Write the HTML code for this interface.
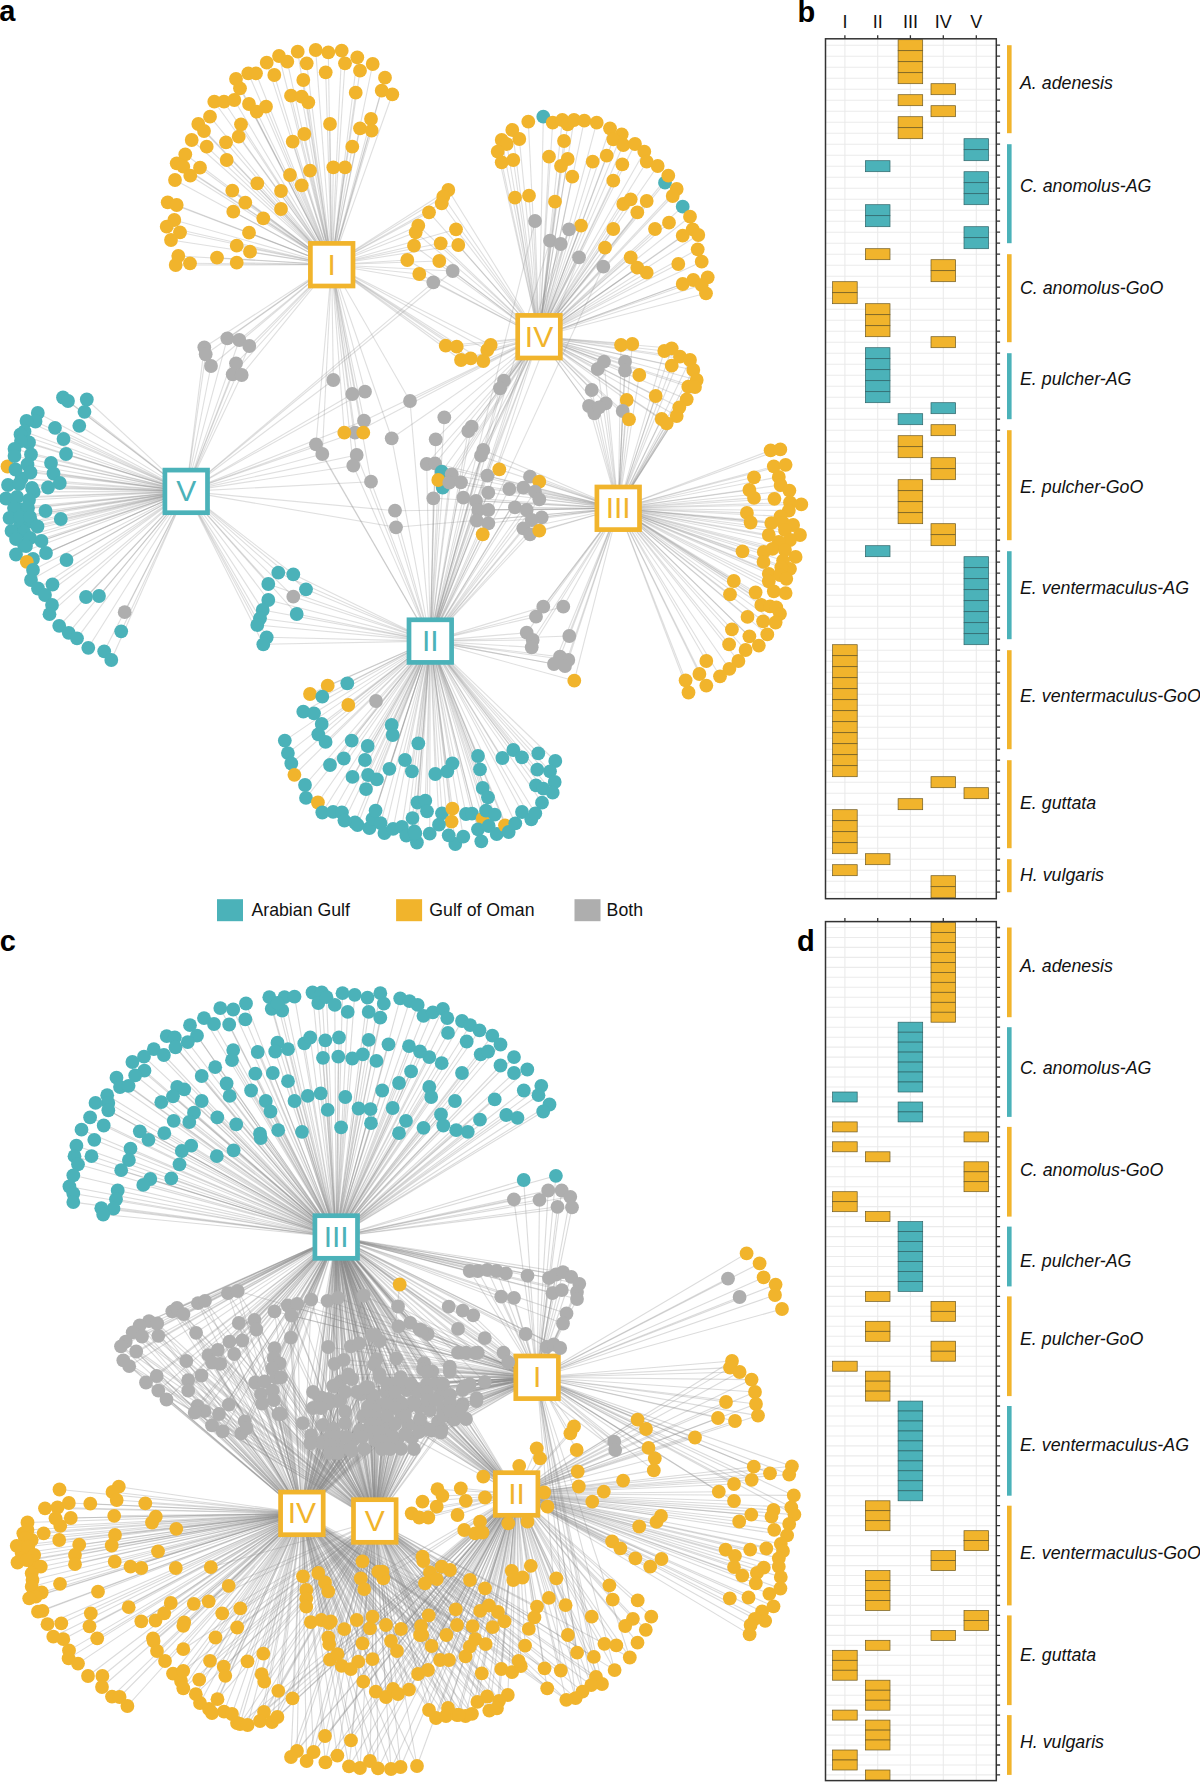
<!DOCTYPE html>
<html><head><meta charset="utf-8"><style>
html,body{margin:0;padding:0;background:#fff;width:1200px;height:1782px;overflow:hidden;font-family:"Liberation Sans",sans-serif}
svg text{font-family:"Liberation Sans",sans-serif}
</style></head><body>
<svg width="1200" height="1782" viewBox="0 0 1200 1782" style="position:absolute;left:0;top:0">
<rect width="1200" height="1782" fill="#fff"/>
<g stroke="#8a8a8a" stroke-opacity="0.27" stroke-width="1.1" fill="none">
<path d="M297.7 51.7L331.7 264.7"/><path d="M315.7 50L331.7 264.7"/><path d="M328.3 52.3L331.7 264.7"/><path d="M341.7 50.7L331.7 264.7"/><path d="M357.3 57.3L331.7 264.7"/><path d="M372.7 64L331.7 264.7"/><path d="M385 77.7L331.7 264.7"/><path d="M381.7 90.7L331.7 264.7"/><path d="M392.3 94.3L331.7 264.7"/><path d="M279 56L331.7 264.7"/><path d="M287.3 61.7L331.7 264.7"/><path d="M306.7 63.3L331.7 264.7"/><path d="M345 63.3L331.7 264.7"/><path d="M360 70.7L331.7 264.7"/><path d="M325.7 72.3L331.7 264.7"/><path d="M303.3 80L331.7 264.7"/><path d="M266.7 62.7L331.7 264.7"/><path d="M274.3 75L331.7 264.7"/><path d="M248.3 73.3L331.7 264.7"/><path d="M256 73.3L331.7 264.7"/><path d="M236 79L331.7 264.7"/><path d="M240 88.3L331.7 264.7"/><path d="M214.3 101.7L331.7 264.7"/><path d="M224 101.7L331.7 264.7"/><path d="M234.3 100L331.7 264.7"/><path d="M249 104L331.7 264.7"/><path d="M256.7 111.7L331.7 264.7"/><path d="M266 106.7L331.7 264.7"/><path d="M291 95.7L331.7 264.7"/><path d="M301.7 96.7L331.7 264.7"/><path d="M308.3 102.3L331.7 264.7"/><path d="M355.7 92.7L331.7 264.7"/><path d="M210 116.7L331.7 264.7"/><path d="M198.3 124L331.7 264.7"/><path d="M204 131L331.7 264.7"/><path d="M241 124.3L331.7 264.7"/><path d="M330 124L331.7 264.7"/><path d="M371 119L331.7 264.7"/><path d="M360 128.3L331.7 264.7"/><path d="M371.7 130.7L331.7 264.7"/><path d="M191.7 140L331.7 264.7"/><path d="M206.7 146.7L331.7 264.7"/><path d="M226 142.3L331.7 264.7"/><path d="M238.7 136.7L331.7 264.7"/><path d="M292.7 141.7L331.7 264.7"/><path d="M304.3 134L331.7 264.7"/><path d="M352.3 146.7L331.7 264.7"/><path d="M185.3 154.3L331.7 264.7"/><path d="M176.7 163.3L331.7 264.7"/><path d="M183.3 166.7L331.7 264.7"/><path d="M200 167.7L331.7 264.7"/><path d="M190.3 175.7L331.7 264.7"/><path d="M226.7 160L331.7 264.7"/><path d="M175 180L331.7 264.7"/><path d="M290 175L331.7 264.7"/><path d="M310 170.7L331.7 264.7"/><path d="M333.3 167.3L331.7 264.7"/><path d="M345 167.3L331.7 264.7"/><path d="M301.7 185.3L331.7 264.7"/><path d="M257.3 183.3L331.7 264.7"/><path d="M281 191L331.7 264.7"/><path d="M232.3 190.7L331.7 264.7"/><path d="M167.7 202.3L331.7 264.7"/><path d="M176.7 205L331.7 264.7"/><path d="M245.3 202.7L331.7 264.7"/><path d="M233.3 211.7L331.7 264.7"/><path d="M281 209L331.7 264.7"/><path d="M263.3 218.3L331.7 264.7"/><path d="M174.3 220L331.7 264.7"/><path d="M166.7 226.7L331.7 264.7"/><path d="M180 232.3L331.7 264.7"/><path d="M249 232.7L331.7 264.7"/><path d="M171 240L331.7 264.7"/><path d="M236.7 245.7L331.7 264.7"/><path d="M250 251.7L331.7 264.7"/><path d="M178.3 256L331.7 264.7"/><path d="M175.7 265L331.7 264.7"/><path d="M190 263.3L331.7 264.7"/><path d="M217 257.7L331.7 264.7"/><path d="M236.7 262.7L331.7 264.7"/><path d="M448.3 190L331.7 264.7"/><path d="M448.3 190L539 336.7"/><path d="M443.3 196.7L331.7 264.7"/><path d="M443.3 196.7L539 336.7"/><path d="M441.7 203.3L331.7 264.7"/><path d="M441.7 203.3L539 336.7"/><path d="M429 212.3L331.7 264.7"/><path d="M429 212.3L539 336.7"/><path d="M418.3 225.7L331.7 264.7"/><path d="M418.3 225.7L539 336.7"/><path d="M415.7 232.3L331.7 264.7"/><path d="M415.7 232.3L539 336.7"/><path d="M456 229.3L331.7 264.7"/><path d="M456 229.3L539 336.7"/><path d="M414 245.7L331.7 264.7"/><path d="M414 245.7L539 336.7"/><path d="M440.7 243.3L331.7 264.7"/><path d="M440.7 243.3L539 336.7"/><path d="M458.3 245L331.7 264.7"/><path d="M458.3 245L539 336.7"/><path d="M407.3 260L331.7 264.7"/><path d="M407.3 260L539 336.7"/><path d="M439.3 261L331.7 264.7"/><path d="M439.3 261L539 336.7"/><path d="M419.3 274L331.7 264.7"/><path d="M419.3 274L539 336.7"/><path d="M452.7 271L331.7 264.7"/><path d="M452.7 271L186.2 491.4"/><path d="M452.7 271L539 336.7"/><path d="M433.3 282.3L331.7 264.7"/><path d="M433.3 282.3L186.2 491.4"/><path d="M433.3 282.3L539 336.7"/><path d="M543.3 116.7L539 336.7"/><path d="M665 182.7L539 336.7"/><path d="M682.7 206.7L539 336.7"/><path d="M528.3 121.7L539 336.7"/><path d="M552.7 122.7L539 336.7"/><path d="M562.3 120L539 336.7"/><path d="M567.7 124.3L539 336.7"/><path d="M574 120L539 336.7"/><path d="M584.3 120.7L539 336.7"/><path d="M596.7 122.7L539 336.7"/><path d="M512.3 130L539 336.7"/><path d="M501.7 140L539 336.7"/><path d="M519.3 139L539 336.7"/><path d="M506.7 144L539 336.7"/><path d="M497.7 151.7L539 336.7"/><path d="M564 141L539 336.7"/><path d="M610 128.3L539 336.7"/><path d="M621.7 134.3L539 336.7"/><path d="M613.3 139.3L539 336.7"/><path d="M623.3 145L539 336.7"/><path d="M635 144L539 336.7"/><path d="M644.3 151.7L539 336.7"/><path d="M501.7 162.3L539 336.7"/><path d="M513.3 160L539 336.7"/><path d="M549 156.7L539 336.7"/><path d="M567.7 159L539 336.7"/><path d="M561 166L539 336.7"/><path d="M592.7 161.7L539 336.7"/><path d="M606.7 155.7L539 336.7"/><path d="M622.3 164.3L539 336.7"/><path d="M646.7 161.7L539 336.7"/><path d="M657.7 166L539 336.7"/><path d="M668.3 175.7L539 336.7"/><path d="M572.3 176.7L539 336.7"/><path d="M613.3 180.7L539 336.7"/><path d="M676.7 189L539 336.7"/><path d="M672.7 196L539 336.7"/><path d="M515 197.7L539 336.7"/><path d="M529 195.7L539 336.7"/><path d="M555 201.7L539 336.7"/><path d="M623.3 204L539 336.7"/><path d="M630.7 199.3L539 336.7"/><path d="M646.7 201L539 336.7"/><path d="M637.3 212.3L539 336.7"/><path d="M690 216.7L539 336.7"/><path d="M581 225.7L539 336.7"/><path d="M613.3 229L539 336.7"/><path d="M655 229L539 336.7"/><path d="M669 222.7L539 336.7"/><path d="M682.7 235.7L539 336.7"/><path d="M692.7 229.3L539 336.7"/><path d="M698.3 235L539 336.7"/><path d="M605 247.7L539 336.7"/><path d="M697.7 249.3L539 336.7"/><path d="M630.7 257.3L539 336.7"/><path d="M637.3 267.7L539 336.7"/><path d="M646.7 272.7L539 336.7"/><path d="M678.3 264L539 336.7"/><path d="M701.7 261.7L539 336.7"/><path d="M707.7 277.3L539 336.7"/><path d="M693.3 280L539 336.7"/><path d="M682.7 284L539 336.7"/><path d="M701.7 285L539 336.7"/><path d="M706 293.3L539 336.7"/><path d="M535 221L539 336.7"/><path d="M535 221L430.3 641.1"/><path d="M569 229.3L539 336.7"/><path d="M569 229.3L430.3 641.1"/><path d="M550 240.7L539 336.7"/><path d="M550 240.7L430.3 641.1"/><path d="M560.7 244L539 336.7"/><path d="M560.7 244L430.3 641.1"/><path d="M579 257.3L539 336.7"/><path d="M579 257.3L430.3 641.1"/><path d="M603.3 266.7L539 336.7"/><path d="M603.3 266.7L430.3 641.1"/><path d="M227.3 338.3L331.7 264.7"/><path d="M227.3 338.3L186.2 491.4"/><path d="M239.3 340L331.7 264.7"/><path d="M239.3 340L186.2 491.4"/><path d="M249.3 346L331.7 264.7"/><path d="M249.3 346L186.2 491.4"/><path d="M204.3 347.3L331.7 264.7"/><path d="M204.3 347.3L186.2 491.4"/><path d="M205.7 354.3L331.7 264.7"/><path d="M205.7 354.3L186.2 491.4"/><path d="M211 366L331.7 264.7"/><path d="M211 366L186.2 491.4"/><path d="M236 363.3L331.7 264.7"/><path d="M236 363.3L186.2 491.4"/><path d="M232.7 374.3L331.7 264.7"/><path d="M232.7 374.3L186.2 491.4"/><path d="M241.7 375L331.7 264.7"/><path d="M241.7 375L186.2 491.4"/><path d="M333.3 380L331.7 264.7"/><path d="M333.3 380L186.2 491.4"/><path d="M352.3 394L331.7 264.7"/><path d="M352.3 394L186.2 491.4"/><path d="M365 391.7L331.7 264.7"/><path d="M365 391.7L186.2 491.4"/><path d="M364 420.7L331.7 264.7"/><path d="M364 420.7L186.2 491.4"/><path d="M364 420.7L539 336.7"/><path d="M355 432.7L331.7 264.7"/><path d="M355 432.7L186.2 491.4"/><path d="M355 432.7L539 336.7"/><path d="M344.3 432.7L331.7 264.7"/><path d="M363.3 432.7L331.7 264.7"/><path d="M391.7 438.3L331.7 264.7"/><path d="M391.7 438.3L430.3 641.1"/><path d="M391.7 438.3L539 336.7"/><path d="M316 444.3L331.7 264.7"/><path d="M316 444.3L430.3 641.1"/><path d="M316 444.3L186.2 491.4"/><path d="M322.3 454L331.7 264.7"/><path d="M322.3 454L430.3 641.1"/><path d="M322.3 454L186.2 491.4"/><path d="M356.7 455L331.7 264.7"/><path d="M356.7 455L430.3 641.1"/><path d="M356.7 455L186.2 491.4"/><path d="M353.3 465.7L331.7 264.7"/><path d="M353.3 465.7L430.3 641.1"/><path d="M353.3 465.7L186.2 491.4"/><path d="M371 481.7L331.7 264.7"/><path d="M371 481.7L430.3 641.1"/><path d="M371 481.7L186.2 491.4"/><path d="M395 510.7L430.3 641.1"/><path d="M395 510.7L186.2 491.4"/><path d="M395 510.7L618.2 508.3"/><path d="M396 527.3L430.3 641.1"/><path d="M396 527.3L186.2 491.4"/><path d="M396 527.3L618.2 508.3"/><path d="M278.3 572.7L186.2 491.4"/><path d="M278.3 572.7L430.3 641.1"/><path d="M293.3 574.3L186.2 491.4"/><path d="M293.3 574.3L430.3 641.1"/><path d="M268.3 584L186.2 491.4"/><path d="M268.3 584L430.3 641.1"/><path d="M306 589.3L186.2 491.4"/><path d="M306 589.3L430.3 641.1"/><path d="M293.3 596.7L186.2 491.4"/><path d="M293.3 596.7L430.3 641.1"/><path d="M268.3 600L186.2 491.4"/><path d="M268.3 600L430.3 641.1"/><path d="M7.5 466.5L186.2 491.4"/><path d="M21.6 478.4L186.2 491.4"/><path d="M21.6 509.4L186.2 491.4"/><path d="M20.2 525.5L186.2 491.4"/><path d="M31 521.5L186.2 491.4"/><path d="M33.7 491.9L186.2 491.4"/><path d="M24 545L186.2 491.4"/><path d="M63 397.5L186.2 491.4"/><path d="M68 401L186.2 491.4"/><path d="M86.8 399.5L186.2 491.4"/><path d="M84.5 411.8L186.2 491.4"/><path d="M79.3 425.8L186.2 491.4"/><path d="M37.8 413L186.2 491.4"/><path d="M35.5 421.5L186.2 491.4"/><path d="M26.5 421L186.2 491.4"/><path d="M55 427.8L186.2 491.4"/><path d="M63.5 439L186.2 491.4"/><path d="M66 454L186.2 491.4"/><path d="M24.5 431.5L186.2 491.4"/><path d="M20.5 434.5L186.2 491.4"/><path d="M29 442.5L186.2 491.4"/><path d="M21 441L186.2 491.4"/><path d="M14.5 449L186.2 491.4"/><path d="M31 454.5L186.2 491.4"/><path d="M14.5 456L186.2 491.4"/><path d="M51 463L186.2 491.4"/><path d="M53.5 473.5L186.2 491.4"/><path d="M59.8 483L186.2 491.4"/><path d="M48 487.5L186.2 491.4"/><path d="M15.5 469.5L186.2 491.4"/><path d="M27.5 464.5L186.2 491.4"/><path d="M30.5 472.5L186.2 491.4"/><path d="M8 485L186.2 491.4"/><path d="M19 484L186.2 491.4"/><path d="M32 488L186.2 491.4"/><path d="M6 498.5L186.2 491.4"/><path d="M17 497L186.2 491.4"/><path d="M29 500L186.2 491.4"/><path d="M14 508L186.2 491.4"/><path d="M28 508L186.2 491.4"/><path d="M45.5 511L186.2 491.4"/><path d="M60.8 519L186.2 491.4"/><path d="M9.5 518L186.2 491.4"/><path d="M20 517L186.2 491.4"/><path d="M30 517L186.2 491.4"/><path d="M37.5 526.5L186.2 491.4"/><path d="M11.5 531L186.2 491.4"/><path d="M24 532L186.2 491.4"/><path d="M16 539L186.2 491.4"/><path d="M30 538L186.2 491.4"/><path d="M41.5 541L186.2 491.4"/><path d="M16 554.5L186.2 491.4"/><path d="M26 546L186.2 491.4"/><path d="M46 553L186.2 491.4"/><path d="M33 559L186.2 491.4"/><path d="M26.8 561.8L186.2 491.4"/><path d="M66.5 560L186.2 491.4"/><path d="M33 570L186.2 491.4"/><path d="M31 580L186.2 491.4"/><path d="M52.5 584.5L186.2 491.4"/><path d="M38 588.5L186.2 491.4"/><path d="M45 595L186.2 491.4"/><path d="M86 597L186.2 491.4"/><path d="M99 596L186.2 491.4"/><path d="M52 605L186.2 491.4"/><path d="M49.5 614.2L186.2 491.4"/><path d="M124.7 612.2L186.2 491.4"/><path d="M59.2 625.8L186.2 491.4"/><path d="M68.7 632.8L186.2 491.4"/><path d="M77 638.3L186.2 491.4"/><path d="M88.3 647.8L186.2 491.4"/><path d="M121.2 631.3L186.2 491.4"/><path d="M104.2 651.3L186.2 491.4"/><path d="M111.3 660L186.2 491.4"/><path d="M445.7 345.7L331.7 264.7"/><path d="M445.7 345.7L539 336.7"/><path d="M456.7 346.7L331.7 264.7"/><path d="M456.7 346.7L539 336.7"/><path d="M461 360L331.7 264.7"/><path d="M461 360L539 336.7"/><path d="M470.7 358.3L331.7 264.7"/><path d="M470.7 358.3L539 336.7"/><path d="M483.3 361L331.7 264.7"/><path d="M483.3 361L539 336.7"/><path d="M487.3 350L331.7 264.7"/><path d="M487.3 350L539 336.7"/><path d="M490.7 345L331.7 264.7"/><path d="M490.7 345L539 336.7"/><path d="M504 380.7L430.3 641.1"/><path d="M504 380.7L539 336.7"/><path d="M500 388.3L430.3 641.1"/><path d="M500 388.3L539 336.7"/><path d="M410 401L331.7 264.7"/><path d="M410 401L430.3 641.1"/><path d="M410 401L539 336.7"/><path d="M444.3 417.3L430.3 641.1"/><path d="M444.3 417.3L539 336.7"/><path d="M471.7 426.7L430.3 641.1"/><path d="M471.7 426.7L539 336.7"/><path d="M468.3 431L430.3 641.1"/><path d="M468.3 431L539 336.7"/><path d="M435.7 439.3L430.3 641.1"/><path d="M435.7 439.3L539 336.7"/><path d="M483.3 450L430.3 641.1"/><path d="M483.3 450L618.2 508.3"/><path d="M483.3 450L539 336.7"/><path d="M481 455.7L430.3 641.1"/><path d="M481 455.7L618.2 508.3"/><path d="M481 455.7L539 336.7"/><path d="M426.7 464L430.3 641.1"/><path d="M426.7 464L618.2 508.3"/><path d="M426.7 464L539 336.7"/><path d="M435 463.3L430.3 641.1"/><path d="M435 463.3L618.2 508.3"/><path d="M435 463.3L539 336.7"/><path d="M441.7 471.7L539 336.7"/><path d="M442.7 487.7L430.3 641.1"/><path d="M438.3 480L430.3 641.1"/><path d="M451.7 474.3L430.3 641.1"/><path d="M451.7 474.3L618.2 508.3"/><path d="M451.7 474.3L539 336.7"/><path d="M449.3 482.7L539 336.7"/><path d="M449.3 482.7L430.3 641.1"/><path d="M449.3 482.7L618.2 508.3"/><path d="M461 482.3L539 336.7"/><path d="M461 482.3L430.3 641.1"/><path d="M461 482.3L618.2 508.3"/><path d="M433.3 498.3L539 336.7"/><path d="M433.3 498.3L430.3 641.1"/><path d="M433.3 498.3L618.2 508.3"/><path d="M487.3 475.7L539 336.7"/><path d="M487.3 475.7L430.3 641.1"/><path d="M487.3 475.7L618.2 508.3"/><path d="M499.3 469.3L618.2 508.3"/><path d="M488.3 492.7L539 336.7"/><path d="M488.3 492.7L430.3 641.1"/><path d="M488.3 492.7L618.2 508.3"/><path d="M463.3 497.7L539 336.7"/><path d="M463.3 497.7L430.3 641.1"/><path d="M463.3 497.7L618.2 508.3"/><path d="M476 501L539 336.7"/><path d="M476 501L430.3 641.1"/><path d="M476 501L618.2 508.3"/><path d="M478.3 510L430.3 641.1"/><path d="M478.3 510L618.2 508.3"/><path d="M488.3 510L430.3 641.1"/><path d="M488.3 510L618.2 508.3"/><path d="M476.7 520.7L430.3 641.1"/><path d="M476.7 520.7L618.2 508.3"/><path d="M488.3 523.3L430.3 641.1"/><path d="M488.3 523.3L618.2 508.3"/><path d="M482.7 534.3L430.3 641.1"/><path d="M509.3 489L430.3 641.1"/><path d="M509.3 489L618.2 508.3"/><path d="M530 476.7L430.3 641.1"/><path d="M530 476.7L618.2 508.3"/><path d="M539.3 481.7L618.2 508.3"/><path d="M523.3 487.7L430.3 641.1"/><path d="M523.3 487.7L618.2 508.3"/><path d="M535 491.7L430.3 641.1"/><path d="M535 491.7L618.2 508.3"/><path d="M539.3 499.3L430.3 641.1"/><path d="M539.3 499.3L618.2 508.3"/><path d="M515 507.3L430.3 641.1"/><path d="M515 507.3L618.2 508.3"/><path d="M526.7 510L430.3 641.1"/><path d="M526.7 510L618.2 508.3"/><path d="M541.7 517.3L430.3 641.1"/><path d="M541.7 517.3L618.2 508.3"/><path d="M531.7 520L430.3 641.1"/><path d="M531.7 520L618.2 508.3"/><path d="M523.3 528.3L430.3 641.1"/><path d="M523.3 528.3L618.2 508.3"/><path d="M530 534.3L430.3 641.1"/><path d="M530 534.3L618.2 508.3"/><path d="M539.3 530.7L618.2 508.3"/><path d="M621 345L539 336.7"/><path d="M621 345L618.2 508.3"/><path d="M632.3 344L539 336.7"/><path d="M632.3 344L618.2 508.3"/><path d="M604 361.7L539 336.7"/><path d="M604 361.7L618.2 508.3"/><path d="M597.7 369L539 336.7"/><path d="M597.7 369L618.2 508.3"/><path d="M625 361.7L539 336.7"/><path d="M625 361.7L618.2 508.3"/><path d="M625 370.7L539 336.7"/><path d="M625 370.7L618.2 508.3"/><path d="M639.3 375L539 336.7"/><path d="M639.3 375L618.2 508.3"/><path d="M591.7 390L539 336.7"/><path d="M591.7 390L618.2 508.3"/><path d="M589 406L539 336.7"/><path d="M589 406L618.2 508.3"/><path d="M605.7 403.3L539 336.7"/><path d="M605.7 403.3L618.2 508.3"/><path d="M594.3 413.3L539 336.7"/><path d="M594.3 413.3L618.2 508.3"/><path d="M599 407.3L539 336.7"/><path d="M599 407.3L618.2 508.3"/><path d="M626.7 400L539 336.7"/><path d="M626.7 400L618.2 508.3"/><path d="M622.7 411L539 336.7"/><path d="M622.7 411L618.2 508.3"/><path d="M629 419.3L539 336.7"/><path d="M629 419.3L618.2 508.3"/><path d="M655.7 396L539 336.7"/><path d="M655.7 396L618.2 508.3"/><path d="M664.3 351L539 336.7"/><path d="M664.3 351L618.2 508.3"/><path d="M671.7 348.3L539 336.7"/><path d="M671.7 348.3L618.2 508.3"/><path d="M680 356.7L539 336.7"/><path d="M680 356.7L618.2 508.3"/><path d="M690 360L539 336.7"/><path d="M690 360L618.2 508.3"/><path d="M671.7 365.7L539 336.7"/><path d="M671.7 365.7L618.2 508.3"/><path d="M693.3 370L539 336.7"/><path d="M693.3 370L618.2 508.3"/><path d="M696.7 380L539 336.7"/><path d="M696.7 380L618.2 508.3"/><path d="M688.3 386.7L539 336.7"/><path d="M688.3 386.7L618.2 508.3"/><path d="M695 387L539 336.7"/><path d="M695 387L618.2 508.3"/><path d="M686.7 399.3L539 336.7"/><path d="M686.7 399.3L618.2 508.3"/><path d="M679.3 407.3L539 336.7"/><path d="M679.3 407.3L618.2 508.3"/><path d="M676.7 416L539 336.7"/><path d="M676.7 416L618.2 508.3"/><path d="M661.7 419L539 336.7"/><path d="M661.7 419L618.2 508.3"/><path d="M666.7 423.3L539 336.7"/><path d="M666.7 423.3L618.2 508.3"/><path d="M770.6 450.3L618.2 508.3"/><path d="M780.3 449.4L618.2 508.3"/><path d="M773.8 466.3L618.2 508.3"/><path d="M785.6 464.8L618.2 508.3"/><path d="M754 477.3L618.2 508.3"/><path d="M778.8 476.9L618.2 508.3"/><path d="M780.6 485L618.2 508.3"/><path d="M789.4 490.6L618.2 508.3"/><path d="M749.4 490L618.2 508.3"/><path d="M754 497.9L618.2 508.3"/><path d="M774.4 498.8L618.2 508.3"/><path d="M790 502.5L618.2 508.3"/><path d="M801.3 504.4L618.2 508.3"/><path d="M788.8 510.6L618.2 508.3"/><path d="M746.9 512.9L618.2 508.3"/><path d="M750.6 522.5L618.2 508.3"/><path d="M780.6 516.3L618.2 508.3"/><path d="M771.3 523.1L618.2 508.3"/><path d="M783.1 522.8L618.2 508.3"/><path d="M793.1 525L618.2 508.3"/><path d="M768.8 535L618.2 508.3"/><path d="M800 535L618.2 508.3"/><path d="M785 530L618.2 508.3"/><path d="M790 540L618.2 508.3"/><path d="M778.8 541.9L618.2 508.3"/><path d="M742.5 551.3L618.2 508.3"/><path d="M763.8 551.9L618.2 508.3"/><path d="M772.5 548.8L618.2 508.3"/><path d="M785 550L618.2 508.3"/><path d="M795.6 556.9L618.2 508.3"/><path d="M763.5 561.9L618.2 508.3"/><path d="M783.1 560.6L618.2 508.3"/><path d="M790 568.8L618.2 508.3"/><path d="M781.3 567.5L618.2 508.3"/><path d="M768.8 573.8L618.2 508.3"/><path d="M780 575L618.2 508.3"/><path d="M733.8 581L618.2 508.3"/><path d="M786.3 578.8L618.2 508.3"/><path d="M768.8 581.3L618.2 508.3"/><path d="M773.8 591.3L618.2 508.3"/><path d="M785.6 593.1L618.2 508.3"/><path d="M730 594.4L618.2 508.3"/><path d="M755.6 592.5L618.2 508.3"/><path d="M761.3 605L618.2 508.3"/><path d="M770 606.3L618.2 508.3"/><path d="M776.3 607.5L618.2 508.3"/><path d="M780 613.8L618.2 508.3"/><path d="M775.6 622.5L618.2 508.3"/><path d="M763.1 621.3L618.2 508.3"/><path d="M747.5 616.9L618.2 508.3"/><path d="M767.3 634.4L618.2 508.3"/><path d="M731.9 629.4L618.2 508.3"/><path d="M749.4 636.3L618.2 508.3"/><path d="M758.8 645.6L618.2 508.3"/><path d="M729.1 644.4L618.2 508.3"/><path d="M745.6 650L618.2 508.3"/><path d="M738.4 661L618.2 508.3"/><path d="M729.4 668.8L618.2 508.3"/><path d="M720 676.3L618.2 508.3"/><path d="M706.3 661L618.2 508.3"/><path d="M699.4 674L618.2 508.3"/><path d="M685.6 680.3L618.2 508.3"/><path d="M706.3 685.6L618.2 508.3"/><path d="M688.5 692.5L618.2 508.3"/><path d="M262.7 610L186.2 491.4"/><path d="M262.7 610L430.3 641.1"/><path d="M296.7 614L186.2 491.4"/><path d="M296.7 614L430.3 641.1"/><path d="M260 618.3L186.2 491.4"/><path d="M260 618.3L430.3 641.1"/><path d="M257.3 625L186.2 491.4"/><path d="M257.3 625L430.3 641.1"/><path d="M266.7 637.3L186.2 491.4"/><path d="M266.7 637.3L430.3 641.1"/><path d="M263.3 644.3L186.2 491.4"/><path d="M263.3 644.3L430.3 641.1"/><path d="M543.3 606.7L430.3 641.1"/><path d="M543.3 606.7L618.2 508.3"/><path d="M536 616.7L430.3 641.1"/><path d="M536 616.7L618.2 508.3"/><path d="M563.3 606.7L430.3 641.1"/><path d="M563.3 606.7L618.2 508.3"/><path d="M526.7 632.7L430.3 641.1"/><path d="M526.7 632.7L618.2 508.3"/><path d="M532.7 640L430.3 641.1"/><path d="M532.7 640L618.2 508.3"/><path d="M531.7 647.3L430.3 641.1"/><path d="M531.7 647.3L618.2 508.3"/><path d="M569.3 636L430.3 641.1"/><path d="M569.3 636L618.2 508.3"/><path d="M560 656.7L430.3 641.1"/><path d="M560 656.7L618.2 508.3"/><path d="M568.3 660L430.3 641.1"/><path d="M568.3 660L618.2 508.3"/><path d="M554 664L430.3 641.1"/><path d="M554 664L618.2 508.3"/><path d="M565 666L430.3 641.1"/><path d="M565 666L618.2 508.3"/><path d="M574.3 680.7L430.3 641.1"/><path d="M574.3 680.7L618.2 508.3"/><path d="M327.7 685.7L430.3 641.1"/><path d="M347.3 683.3L430.3 641.1"/><path d="M310 694L430.3 641.1"/><path d="M322.3 696.7L430.3 641.1"/><path d="M348.3 705L430.3 641.1"/><path d="M376 701L430.3 641.1"/><path d="M303.3 711.7L430.3 641.1"/><path d="M314 713.3L430.3 641.1"/><path d="M321.7 724L430.3 641.1"/><path d="M318.3 734.3L430.3 641.1"/><path d="M325.6 741.9L430.3 641.1"/><path d="M284.8 740.6L430.3 641.1"/><path d="M351.7 740.7L430.3 641.1"/><path d="M391.7 725L430.3 641.1"/><path d="M392.7 735L430.3 641.1"/><path d="M418.3 743.3L430.3 641.1"/><path d="M367.7 746L430.3 641.1"/><path d="M287.9 753.1L430.3 641.1"/><path d="M291.3 763.5L430.3 641.1"/><path d="M294.4 774.8L430.3 641.1"/><path d="M305 785L430.3 641.1"/><path d="M306 797.9L430.3 641.1"/><path d="M317.9 802.5L430.3 641.1"/><path d="M322.3 812.5L430.3 641.1"/><path d="M333.1 811.9L430.3 641.1"/><path d="M341.9 812.5L430.3 641.1"/><path d="M344.4 820.6L430.3 641.1"/><path d="M355 822.5L430.3 641.1"/><path d="M357.5 825L430.3 641.1"/><path d="M369.4 828.1L430.3 641.1"/><path d="M372.5 818.8L430.3 641.1"/><path d="M375.6 810.6L430.3 641.1"/><path d="M380.6 823.1L430.3 641.1"/><path d="M384.4 833.1L430.3 641.1"/><path d="M393.1 828.8L430.3 641.1"/><path d="M401.9 826.9L430.3 641.1"/><path d="M406.3 835.6L430.3 641.1"/><path d="M414.4 831.3L430.3 641.1"/><path d="M416.9 842.5L430.3 641.1"/><path d="M412.5 818.1L430.3 641.1"/><path d="M417.5 802.5L430.3 641.1"/><path d="M343.8 758.5L430.3 641.1"/><path d="M330 765L430.3 641.1"/><path d="M365 760L430.3 641.1"/><path d="M352.5 776.9L430.3 641.1"/><path d="M368.1 775L430.3 641.1"/><path d="M376.9 779.4L430.3 641.1"/><path d="M366 789.1L430.3 641.1"/><path d="M389.4 768.8L430.3 641.1"/><path d="M405 760L430.3 641.1"/><path d="M411.9 771.3L430.3 641.1"/><path d="M435.3 774L430.3 641.1"/><path d="M447.3 771.3L430.3 641.1"/><path d="M452.4 763.3L430.3 641.1"/><path d="M478 756L430.3 641.1"/><path d="M480 769.3L430.3 641.1"/><path d="M502.4 758L430.3 641.1"/><path d="M513.3 750L430.3 641.1"/><path d="M522 757.3L430.3 641.1"/><path d="M538.3 753.3L430.3 641.1"/><path d="M555.3 761L430.3 641.1"/><path d="M537.3 769.7L430.3 641.1"/><path d="M550 771.3L430.3 641.1"/><path d="M554.7 782L430.3 641.1"/><path d="M536 785.3L430.3 641.1"/><path d="M543.3 788.7L430.3 641.1"/><path d="M552.7 792.7L430.3 641.1"/><path d="M482.7 788L430.3 641.1"/><path d="M488 797.3L430.3 641.1"/><path d="M542 802.7L430.3 641.1"/><path d="M425.3 800.7L430.3 641.1"/><path d="M427 811.3L430.3 641.1"/><path d="M442 813.3L430.3 641.1"/><path d="M452.4 808.7L430.3 641.1"/><path d="M451.6 821.7L430.3 641.1"/><path d="M439 824.7L430.3 641.1"/><path d="M429.7 833.7L430.3 641.1"/><path d="M415.3 833.3L430.3 641.1"/><path d="M455.3 844L430.3 641.1"/><path d="M448.7 835.3L430.3 641.1"/><path d="M463.3 836.7L430.3 641.1"/><path d="M466 814L430.3 641.1"/><path d="M472 813.7L430.3 641.1"/><path d="M482.7 818.7L430.3 641.1"/><path d="M486 810.7L430.3 641.1"/><path d="M494.7 814.7L430.3 641.1"/><path d="M478 829.3L430.3 641.1"/><path d="M488.7 826L430.3 641.1"/><path d="M496.7 834L430.3 641.1"/><path d="M481.3 841.3L430.3 641.1"/><path d="M505 825.3L430.3 641.1"/><path d="M508.7 832L430.3 641.1"/><path d="M515.3 823.3L430.3 641.1"/><path d="M522 812L430.3 641.1"/><path d="M531.3 819.3L430.3 641.1"/><path d="M535.3 813.3L430.3 641.1"/>
</g>
<g stroke="#8a8a8a" stroke-opacity="0.31" stroke-width="1.1" fill="none">
<path d="M269.3 997.2L336.2 1237"/><path d="M284.5 997.2L336.2 1237"/><path d="M294.5 996.7L336.2 1237"/><path d="M271.7 1008.8L336.2 1237"/><path d="M282.2 1010.5L336.2 1237"/><path d="M277.5 1003L336.2 1237"/><path d="M312.5 992.5L336.2 1237"/><path d="M321.8 992.5L336.2 1237"/><path d="M318.3 1003L336.2 1237"/><path d="M326.5 997.2L336.2 1237"/><path d="M246 1003.5L336.2 1237"/><path d="M233.2 1009.5L336.2 1237"/><path d="M220.3 1008.1L336.2 1237"/><path d="M245.3 1019.3L336.2 1237"/><path d="M229.2 1024.5L336.2 1237"/><path d="M214 1024L336.2 1237"/><path d="M204 1018.2L336.2 1237"/><path d="M190 1025.2L336.2 1237"/><path d="M197 1035.7L336.2 1237"/><path d="M187.7 1042.2L336.2 1237"/><path d="M166.7 1036.1L336.2 1237"/><path d="M174.8 1037.5L336.2 1237"/><path d="M175.5 1047.3L336.2 1237"/><path d="M153.8 1049.2L336.2 1237"/><path d="M163.9 1055L336.2 1237"/><path d="M144 1056.7L336.2 1237"/><path d="M132.4 1062L336.2 1237"/><path d="M144.5 1070.7L336.2 1237"/><path d="M135.2 1075.3L336.2 1237"/><path d="M116.5 1077.7L336.2 1237"/><path d="M120 1087L336.2 1237"/><path d="M128.6 1085.8L336.2 1237"/><path d="M107.2 1095.2L336.2 1237"/><path d="M108.3 1102.9L336.2 1237"/><path d="M95.5 1102.9L336.2 1237"/><path d="M108.3 1110.3L336.2 1237"/><path d="M90.1 1117.3L336.2 1237"/><path d="M103.7 1125.5L336.2 1237"/><path d="M81.5 1129.7L336.2 1237"/><path d="M233.2 1050.1L336.2 1237"/><path d="M232 1060.2L336.2 1237"/><path d="M257.7 1052L336.2 1237"/><path d="M277.5 1042.7L336.2 1237"/><path d="M275.2 1051.5L336.2 1237"/><path d="M288 1049.2L336.2 1237"/><path d="M304.3 1043.4L336.2 1237"/><path d="M310.2 1037.5L336.2 1237"/><path d="M325.3 1040.3L336.2 1237"/><path d="M323 1057.8L336.2 1237"/><path d="M215.2 1067.2L336.2 1237"/><path d="M201.7 1076L336.2 1237"/><path d="M255.3 1073.7L336.2 1237"/><path d="M272.8 1073L336.2 1237"/><path d="M288 1081.2L336.2 1237"/><path d="M226.6 1083.5L336.2 1237"/><path d="M229.7 1095.9L336.2 1237"/><path d="M251.1 1090.5L336.2 1237"/><path d="M265.8 1101L336.2 1237"/><path d="M270.5 1111.5L336.2 1237"/><path d="M294.5 1101L336.2 1237"/><path d="M307.8 1095.9L336.2 1237"/><path d="M320.7 1093.3L336.2 1237"/><path d="M327.7 1109.9L336.2 1237"/><path d="M177.2 1087L336.2 1237"/><path d="M184.2 1089.3L336.2 1237"/><path d="M173 1096.3L336.2 1237"/><path d="M161.3 1102.2L336.2 1237"/><path d="M201.7 1101L336.2 1237"/><path d="M194 1112.7L336.2 1237"/><path d="M189.3 1122L336.2 1237"/><path d="M173.7 1120.8L336.2 1237"/><path d="M217.3 1117.3L336.2 1237"/><path d="M236.2 1124.3L336.2 1237"/><path d="M278.2 1130.2L336.2 1237"/><path d="M302 1131.8L336.2 1237"/><path d="M139.8 1131.3L336.2 1237"/><path d="M164.3 1133.2L336.2 1237"/><path d="M260 1133.7L336.2 1237"/><path d="M334.8 1004.9L336.2 1237"/><path d="M342.5 993.2L336.2 1237"/><path d="M354.7 994.8L336.2 1237"/><path d="M367.5 997.6L336.2 1237"/><path d="M380.3 993.2L336.2 1237"/><path d="M383.8 1003.7L336.2 1237"/><path d="M347.7 1011.9L336.2 1237"/><path d="M368.7 1011.9L336.2 1237"/><path d="M380.3 1017.7L336.2 1237"/><path d="M400.2 998.3L336.2 1237"/><path d="M409.5 1001.1L336.2 1237"/><path d="M417.7 1004.9L336.2 1237"/><path d="M423.5 1015.8L336.2 1237"/><path d="M432.8 1012.3L336.2 1237"/><path d="M442.9 1008.8L336.2 1237"/><path d="M447.3 1018.2L336.2 1237"/><path d="M448 1032.9L336.2 1237"/><path d="M462 1021L336.2 1237"/><path d="M470.2 1025.2L336.2 1237"/><path d="M479.5 1030.3L336.2 1237"/><path d="M492.3 1035.7L336.2 1237"/><path d="M500.5 1044.5L336.2 1237"/><path d="M466.7 1041.5L336.2 1237"/><path d="M480.7 1054.3L336.2 1237"/><path d="M488.1 1051.5L336.2 1237"/><path d="M514 1057.1L336.2 1237"/><path d="M500.5 1065.5L336.2 1237"/><path d="M514 1073L336.2 1237"/><path d="M527.3 1069.5L336.2 1237"/><path d="M541.3 1085.8L336.2 1237"/><path d="M523.8 1090.5L336.2 1237"/><path d="M538.5 1095.2L336.2 1237"/><path d="M549.5 1104.5L336.2 1237"/><path d="M543.2 1111.5L336.2 1237"/><path d="M494.7 1099.4L336.2 1237"/><path d="M506.3 1115L336.2 1237"/><path d="M517.5 1117.8L336.2 1237"/><path d="M480 1119.7L336.2 1237"/><path d="M462 1073L336.2 1237"/><path d="M455 1101L336.2 1237"/><path d="M441.7 1063.2L336.2 1237"/><path d="M429.3 1057.1L336.2 1237"/><path d="M420 1051.5L336.2 1237"/><path d="M409 1046.2L336.2 1237"/><path d="M388.5 1044.3L336.2 1237"/><path d="M368.7 1039.9L336.2 1237"/><path d="M376.4 1060.9L336.2 1237"/><path d="M362.8 1054.3L336.2 1237"/><path d="M352.3 1058.5L336.2 1237"/><path d="M338.3 1056.7L336.2 1237"/><path d="M339 1037.5L336.2 1237"/><path d="M411.1 1071.4L336.2 1237"/><path d="M399 1083L336.2 1237"/><path d="M382.2 1090.5L336.2 1237"/><path d="M429.3 1087L336.2 1237"/><path d="M431.2 1097L336.2 1237"/><path d="M345.3 1097L336.2 1237"/><path d="M358.6 1108.5L336.2 1237"/><path d="M370.5 1109.2L336.2 1237"/><path d="M392.7 1108L336.2 1237"/><path d="M371 1123.2L336.2 1237"/><path d="M406 1120.8L336.2 1237"/><path d="M341.1 1127.4L336.2 1237"/><path d="M423.5 1127.8L336.2 1237"/><path d="M441 1114.5L336.2 1237"/><path d="M443.3 1125.5L336.2 1237"/><path d="M456.2 1130.2L336.2 1237"/><path d="M467.8 1131.8L336.2 1237"/><path d="M399 1133.2L336.2 1237"/><path d="M94.3 1139.8L336.2 1237"/><path d="M76.4 1145.7L336.2 1237"/><path d="M74.5 1156.2L336.2 1237"/><path d="M91.5 1156.2L336.2 1237"/><path d="M78 1164.3L336.2 1237"/><path d="M73.3 1175.3L336.2 1237"/><path d="M69.4 1186.5L336.2 1237"/><path d="M73.3 1193.5L336.2 1237"/><path d="M73.3 1202.1L336.2 1237"/><path d="M148.5 1139.8L336.2 1237"/><path d="M130.5 1148.7L336.2 1237"/><path d="M128.9 1160.1L336.2 1237"/><path d="M121.2 1170.2L336.2 1237"/><path d="M150.3 1179L336.2 1237"/><path d="M143.3 1184.9L336.2 1237"/><path d="M117.7 1190.5L336.2 1237"/><path d="M116 1199.3L336.2 1237"/><path d="M113.5 1208.7L336.2 1237"/><path d="M101.3 1208.2L336.2 1237"/><path d="M103.2 1214.5L336.2 1237"/><path d="M181.8 1151L336.2 1237"/><path d="M191.2 1145.7L336.2 1237"/><path d="M179.5 1164.3L336.2 1237"/><path d="M171.3 1178.3L336.2 1237"/><path d="M216.8 1156.2L336.2 1237"/><path d="M233.6 1150.3L336.2 1237"/><path d="M260.7 1138L336.2 1237"/><path d="M523.7 1180L336.2 1237"/><path d="M523.7 1180L537.1 1377.3"/><path d="M555.9 1175.8L336.2 1237"/><path d="M555.9 1175.8L537.1 1377.3"/><path d="M513.9 1199.4L336.2 1237"/><path d="M513.9 1199.4L537.1 1377.3"/><path d="M539.5 1199.8L336.2 1237"/><path d="M539.5 1199.8L537.1 1377.3"/><path d="M548.2 1190.5L336.2 1237"/><path d="M548.2 1190.5L537.1 1377.3"/><path d="M561.7 1190.5L336.2 1237"/><path d="M561.7 1190.5L537.1 1377.3"/><path d="M570.3 1196.8L336.2 1237"/><path d="M570.3 1196.8L537.1 1377.3"/><path d="M557.5 1206.8L336.2 1237"/><path d="M557.5 1206.8L537.1 1377.3"/><path d="M572 1207.3L336.2 1237"/><path d="M572 1207.3L537.1 1377.3"/><path d="M227.9 1293.1L301.9 1513.4"/><path d="M227.9 1293.1L374.8 1521"/><path d="M227.9 1293.1L336.2 1237"/><path d="M237.7 1291L301.9 1513.4"/><path d="M237.7 1291L537.1 1377.3"/><path d="M237.7 1291L374.8 1521"/><path d="M237.7 1291L336.2 1237"/><path d="M198 1303.2L301.9 1513.4"/><path d="M198 1303.2L374.8 1521"/><path d="M198 1303.2L336.2 1237"/><path d="M205 1300.8L301.9 1513.4"/><path d="M205 1300.8L374.8 1521"/><path d="M205 1300.8L336.2 1237"/><path d="M172.3 1311.3L301.9 1513.4"/><path d="M172.3 1311.3L374.8 1521"/><path d="M172.3 1311.3L336.2 1237"/><path d="M177 1307.8L301.9 1513.4"/><path d="M177 1307.8L374.8 1521"/><path d="M177 1307.8L336.2 1237"/><path d="M183.5 1314.1L301.9 1513.4"/><path d="M183.5 1314.1L374.8 1521"/><path d="M183.5 1314.1L336.2 1237"/><path d="M149 1321.1L301.9 1513.4"/><path d="M149 1321.1L374.8 1521"/><path d="M149 1321.1L336.2 1237"/><path d="M157.2 1323.5L301.9 1513.4"/><path d="M157.2 1323.5L374.8 1521"/><path d="M157.2 1323.5L336.2 1237"/><path d="M139.7 1325.3L301.9 1513.4"/><path d="M139.7 1325.3L374.8 1521"/><path d="M139.7 1325.3L336.2 1237"/><path d="M132.7 1332.3L301.9 1513.4"/><path d="M132.7 1332.3L374.8 1521"/><path d="M132.7 1332.3L336.2 1237"/><path d="M142 1336.5L301.9 1513.4"/><path d="M142 1336.5L374.8 1521"/><path d="M142 1336.5L336.2 1237"/><path d="M158.3 1335.8L301.9 1513.4"/><path d="M158.3 1335.8L374.8 1521"/><path d="M158.3 1335.8L336.2 1237"/><path d="M125.7 1341.7L301.9 1513.4"/><path d="M125.7 1341.7L374.8 1521"/><path d="M125.7 1341.7L336.2 1237"/><path d="M121 1346.3L301.9 1513.4"/><path d="M121 1346.3L374.8 1521"/><path d="M121 1346.3L336.2 1237"/><path d="M136.2 1351.5L301.9 1513.4"/><path d="M136.2 1351.5L374.8 1521"/><path d="M136.2 1351.5L336.2 1237"/><path d="M123.3 1360.3L301.9 1513.4"/><path d="M123.3 1360.3L374.8 1521"/><path d="M123.3 1360.3L336.2 1237"/><path d="M129.2 1366.2L301.9 1513.4"/><path d="M129.2 1366.2L374.8 1521"/><path d="M129.2 1366.2L336.2 1237"/><path d="M196.1 1332.8L301.9 1513.4"/><path d="M196.1 1332.8L374.8 1521"/><path d="M196.1 1332.8L336.2 1237"/><path d="M186.3 1361L301.9 1513.4"/><path d="M186.3 1361L374.8 1521"/><path d="M186.3 1361L336.2 1237"/><path d="M201.5 1375.5L301.9 1513.4"/><path d="M201.5 1375.5L374.8 1521"/><path d="M201.5 1375.5L336.2 1237"/><path d="M156.7 1376L301.9 1513.4"/><path d="M156.7 1376L374.8 1521"/><path d="M156.7 1376L336.2 1237"/><path d="M146 1382.5L301.9 1513.4"/><path d="M146 1382.5L374.8 1521"/><path d="M146 1382.5L336.2 1237"/><path d="M158.3 1390.7L301.9 1513.4"/><path d="M158.3 1390.7L374.8 1521"/><path d="M158.3 1390.7L336.2 1237"/><path d="M166.5 1399.5L301.9 1513.4"/><path d="M166.5 1399.5L336.2 1237"/><path d="M188.2 1380.2L301.9 1513.4"/><path d="M188.2 1380.2L374.8 1521"/><path d="M188.2 1380.2L336.2 1237"/><path d="M188.2 1390.7L301.9 1513.4"/><path d="M188.2 1390.7L336.2 1237"/><path d="M197.5 1405.8L301.9 1513.4"/><path d="M197.5 1405.8L336.2 1237"/><path d="M204.5 1411.2L301.9 1513.4"/><path d="M204.5 1411.2L336.2 1237"/><path d="M228.8 1404.7L301.9 1513.4"/><path d="M228.8 1404.7L336.2 1237"/><path d="M219 1414L301.9 1513.4"/><path d="M219 1414L336.2 1237"/><path d="M238.8 1323L301.9 1513.4"/><path d="M238.8 1323L374.8 1521"/><path d="M238.8 1323L336.2 1237"/><path d="M254.5 1320L301.9 1513.4"/><path d="M254.5 1320L374.8 1521"/><path d="M254.5 1320L336.2 1237"/><path d="M256.3 1329.5L301.9 1513.4"/><path d="M256.3 1329.5L374.8 1521"/><path d="M256.3 1329.5L336.2 1237"/><path d="M242.3 1340.5L301.9 1513.4"/><path d="M242.3 1340.5L374.8 1521"/><path d="M242.3 1340.5L336.2 1237"/><path d="M229.5 1341.7L301.9 1513.4"/><path d="M229.5 1341.7L374.8 1521"/><path d="M229.5 1341.7L336.2 1237"/><path d="M234.2 1354L301.9 1513.4"/><path d="M234.2 1354L374.8 1521"/><path d="M234.2 1354L336.2 1237"/><path d="M208.5 1355.2L301.9 1513.4"/><path d="M208.5 1355.2L374.8 1521"/><path d="M208.5 1355.2L336.2 1237"/><path d="M217.8 1349.8L301.9 1513.4"/><path d="M217.8 1349.8L374.8 1521"/><path d="M217.8 1349.8L336.2 1237"/><path d="M212 1362.7L301.9 1513.4"/><path d="M212 1362.7L374.8 1521"/><path d="M212 1362.7L336.2 1237"/><path d="M220.2 1363.8L301.9 1513.4"/><path d="M220.2 1363.8L374.8 1521"/><path d="M220.2 1363.8L336.2 1237"/><path d="M274.5 1311.3L301.9 1513.4"/><path d="M274.5 1311.3L537.1 1377.3"/><path d="M274.5 1311.3L374.8 1521"/><path d="M274.5 1311.3L336.2 1237"/><path d="M287.8 1305.5L301.9 1513.4"/><path d="M287.8 1305.5L537.1 1377.3"/><path d="M287.8 1305.5L374.8 1521"/><path d="M287.8 1305.5L336.2 1237"/><path d="M297.2 1303.9L301.9 1513.4"/><path d="M297.2 1303.9L537.1 1377.3"/><path d="M297.2 1303.9L374.8 1521"/><path d="M297.2 1303.9L336.2 1237"/><path d="M291.3 1315.5L301.9 1513.4"/><path d="M291.3 1315.5L537.1 1377.3"/><path d="M291.3 1315.5L374.8 1521"/><path d="M291.3 1315.5L336.2 1237"/><path d="M311.2 1299.7L301.9 1513.4"/><path d="M311.2 1299.7L537.1 1377.3"/><path d="M311.2 1299.7L374.8 1521"/><path d="M311.2 1299.7L336.2 1237"/><path d="M327.5 1300.8L301.9 1513.4"/><path d="M327.5 1300.8L537.1 1377.3"/><path d="M327.5 1300.8L374.8 1521"/><path d="M327.5 1300.8L336.2 1237"/><path d="M338 1297.8L301.9 1513.4"/><path d="M338 1297.8L537.1 1377.3"/><path d="M338 1297.8L374.8 1521"/><path d="M338 1297.8L336.2 1237"/><path d="M363.6 1295.5L301.9 1513.4"/><path d="M363.6 1295.5L537.1 1377.3"/><path d="M363.6 1295.5L374.8 1521"/><path d="M363.6 1295.5L336.2 1237"/><path d="M290.9 1337.7L301.9 1513.4"/><path d="M290.9 1337.7L374.8 1521"/><path d="M290.9 1337.7L336.2 1237"/><path d="M274.5 1348.2L301.9 1513.4"/><path d="M274.5 1348.2L374.8 1521"/><path d="M274.5 1348.2L336.2 1237"/><path d="M273.8 1358L301.9 1513.4"/><path d="M273.8 1358L374.8 1521"/><path d="M273.8 1358L336.2 1237"/><path d="M279.7 1363.4L301.9 1513.4"/><path d="M279.7 1363.4L374.8 1521"/><path d="M279.7 1363.4L336.2 1237"/><path d="M272.2 1368.5L301.9 1513.4"/><path d="M272.2 1368.5L374.8 1521"/><path d="M272.2 1368.5L336.2 1237"/><path d="M276.2 1377.8L301.9 1513.4"/><path d="M276.2 1377.8L374.8 1521"/><path d="M276.2 1377.8L336.2 1237"/><path d="M255.2 1382.5L301.9 1513.4"/><path d="M255.2 1382.5L374.8 1521"/><path d="M255.2 1382.5L336.2 1237"/><path d="M264.5 1381.3L301.9 1513.4"/><path d="M264.5 1381.3L374.8 1521"/><path d="M264.5 1381.3L336.2 1237"/><path d="M261 1394.2L301.9 1513.4"/><path d="M261 1394.2L336.2 1237"/><path d="M272.7 1390.7L301.9 1513.4"/><path d="M272.7 1390.7L374.8 1521"/><path d="M272.7 1390.7L336.2 1237"/><path d="M273.8 1400L301.9 1513.4"/><path d="M273.8 1400L374.8 1521"/><path d="M273.8 1400L336.2 1237"/><path d="M262.2 1403.5L301.9 1513.4"/><path d="M262.2 1403.5L336.2 1237"/><path d="M278.5 1414L301.9 1513.4"/><path d="M278.5 1414L336.2 1237"/><path d="M328.2 1347L301.9 1513.4"/><path d="M328.2 1347L537.1 1377.3"/><path d="M328.2 1347L374.8 1521"/><path d="M328.2 1347L336.2 1237"/><path d="M334.5 1363.8L301.9 1513.4"/><path d="M334.5 1363.8L537.1 1377.3"/><path d="M334.5 1363.8L374.8 1521"/><path d="M334.5 1363.8L336.2 1237"/><path d="M343.8 1359.9L301.9 1513.4"/><path d="M343.8 1359.9L537.1 1377.3"/><path d="M343.8 1359.9L374.8 1521"/><path d="M343.8 1359.9L336.2 1237"/><path d="M350.8 1346.3L301.9 1513.4"/><path d="M350.8 1346.3L537.1 1377.3"/><path d="M350.8 1346.3L374.8 1521"/><path d="M350.8 1346.3L336.2 1237"/><path d="M359 1343.5L301.9 1513.4"/><path d="M359 1343.5L537.1 1377.3"/><path d="M359 1343.5L374.8 1521"/><path d="M359 1343.5L336.2 1237"/><path d="M371.8 1335.1L301.9 1513.4"/><path d="M371.8 1335.1L537.1 1377.3"/><path d="M371.8 1335.1L374.8 1521"/><path d="M371.8 1335.1L336.2 1237"/><path d="M376.5 1359.2L301.9 1513.4"/><path d="M376.5 1359.2L537.1 1377.3"/><path d="M376.5 1359.2L374.8 1521"/><path d="M376.5 1359.2L336.2 1237"/><path d="M348.5 1374.3L301.9 1513.4"/><path d="M348.5 1374.3L537.1 1377.3"/><path d="M348.5 1374.3L374.8 1521"/><path d="M348.5 1374.3L336.2 1237"/><path d="M352 1379L301.9 1513.4"/><path d="M352 1379L537.1 1377.3"/><path d="M352 1379L374.8 1521"/><path d="M352 1379L336.2 1237"/><path d="M335.7 1386L301.9 1513.4"/><path d="M335.7 1386L374.8 1521"/><path d="M335.7 1386L336.2 1237"/><path d="M340.3 1381.3L301.9 1513.4"/><path d="M340.3 1381.3L374.8 1521"/><path d="M340.3 1381.3L336.2 1237"/><path d="M319.3 1397.7L301.9 1513.4"/><path d="M319.3 1397.7L374.8 1521"/><path d="M319.3 1397.7L336.2 1237"/><path d="M328.7 1398.8L301.9 1513.4"/><path d="M328.7 1398.8L374.8 1521"/><path d="M328.7 1398.8L336.2 1237"/><path d="M340.3 1400L301.9 1513.4"/><path d="M340.3 1400L374.8 1521"/><path d="M340.3 1400L336.2 1237"/><path d="M361.3 1394.2L301.9 1513.4"/><path d="M361.3 1394.2L374.8 1521"/><path d="M361.3 1394.2L336.2 1237"/><path d="M368.3 1387.2L301.9 1513.4"/><path d="M368.3 1387.2L537.1 1377.3"/><path d="M368.3 1387.2L374.8 1521"/><path d="M368.3 1387.2L336.2 1237"/><path d="M373 1400L301.9 1513.4"/><path d="M373 1400L374.8 1521"/><path d="M373 1400L336.2 1237"/><path d="M345 1411.7L301.9 1513.4"/><path d="M345 1411.7L374.8 1521"/><path d="M345 1411.7L336.2 1237"/><path d="M368.3 1409.3L301.9 1513.4"/><path d="M368.3 1409.3L374.8 1521"/><path d="M368.3 1409.3L336.2 1237"/><path d="M194.7 1412.7L301.9 1513.4"/><path d="M194.7 1412.7L336.2 1237"/><path d="M212 1425.3L301.9 1513.4"/><path d="M212 1425.3L336.2 1237"/><path d="M222.7 1431.3L301.9 1513.4"/><path d="M222.7 1431.3L336.2 1237"/><path d="M244.7 1421.3L301.9 1513.4"/><path d="M244.7 1421.3L336.2 1237"/><path d="M241.3 1433.3L301.9 1513.4"/><path d="M241.3 1433.3L336.2 1237"/><path d="M246.7 1428L301.9 1513.4"/><path d="M246.7 1428L336.2 1237"/><path d="M399.7 1284.5L336.2 1237"/><path d="M399.7 1284.5L537.1 1377.3"/><path d="M399.7 1284.5L374.8 1521"/><path d="M398 1306.5L537.1 1377.3"/><path d="M398 1306.5L336.2 1237"/><path d="M448.7 1306.7L537.1 1377.3"/><path d="M448.7 1306.7L336.2 1237"/><path d="M462.7 1310.7L537.1 1377.3"/><path d="M462.7 1310.7L336.2 1237"/><path d="M473.2 1315.3L537.1 1377.3"/><path d="M473.2 1315.3L336.2 1237"/><path d="M398.5 1326.3L537.1 1377.3"/><path d="M398.5 1326.3L374.8 1521"/><path d="M398.5 1326.3L336.2 1237"/><path d="M410.2 1322.8L537.1 1377.3"/><path d="M410.2 1322.8L336.2 1237"/><path d="M419.5 1329.3L537.1 1377.3"/><path d="M419.5 1329.3L336.2 1237"/><path d="M427.7 1334L537.1 1377.3"/><path d="M427.7 1334L336.2 1237"/><path d="M458 1328.9L537.1 1377.3"/><path d="M458 1328.9L336.2 1237"/><path d="M484.8 1338.2L537.1 1377.3"/><path d="M484.8 1338.2L336.2 1237"/><path d="M379.8 1341L301.9 1513.4"/><path d="M379.8 1341L537.1 1377.3"/><path d="M379.8 1341L374.8 1521"/><path d="M379.8 1341L336.2 1237"/><path d="M458 1352.7L537.1 1377.3"/><path d="M458 1352.7L336.2 1237"/><path d="M466.2 1352.7L537.1 1377.3"/><path d="M466.2 1352.7L336.2 1237"/><path d="M477.8 1352.7L537.1 1377.3"/><path d="M477.8 1352.7L336.2 1237"/><path d="M503.5 1352.7L537.1 1377.3"/><path d="M503.5 1352.7L336.2 1237"/><path d="M508.2 1362L537.1 1377.3"/><path d="M508.2 1362L336.2 1237"/><path d="M525.7 1334L537.1 1377.3"/><path d="M525.7 1334L336.2 1237"/><path d="M469.7 1271L537.1 1377.3"/><path d="M469.7 1271L336.2 1237"/><path d="M477.8 1271L537.1 1377.3"/><path d="M477.8 1271L336.2 1237"/><path d="M487.2 1269.8L537.1 1377.3"/><path d="M487.2 1269.8L336.2 1237"/><path d="M496.5 1271L537.1 1377.3"/><path d="M496.5 1271L336.2 1237"/><path d="M505.8 1273.3L537.1 1377.3"/><path d="M505.8 1273.3L336.2 1237"/><path d="M527.5 1275.7L537.1 1377.3"/><path d="M527.5 1275.7L336.2 1237"/><path d="M501.2 1296.7L537.1 1377.3"/><path d="M501.2 1296.7L336.2 1237"/><path d="M514 1297.8L537.1 1377.3"/><path d="M514 1297.8L336.2 1237"/><path d="M549 1278L537.1 1377.3"/><path d="M549 1278L336.2 1237"/><path d="M556 1274.5L537.1 1377.3"/><path d="M556 1274.5L336.2 1237"/><path d="M563 1272.2L537.1 1377.3"/><path d="M563 1272.2L336.2 1237"/><path d="M571.2 1276.8L537.1 1377.3"/><path d="M571.2 1276.8L336.2 1237"/><path d="M579.3 1283.8L537.1 1377.3"/><path d="M579.3 1283.8L336.2 1237"/><path d="M552.5 1293.2L537.1 1377.3"/><path d="M552.5 1293.2L336.2 1237"/><path d="M561.8 1290.1L537.1 1377.3"/><path d="M561.8 1290.1L336.2 1237"/><path d="M577 1292L537.1 1377.3"/><path d="M577 1292L336.2 1237"/><path d="M577 1299L537.1 1377.3"/><path d="M577 1299L336.2 1237"/><path d="M566.5 1313.5L537.1 1377.3"/><path d="M566.5 1313.5L336.2 1237"/><path d="M563 1323.5L537.1 1377.3"/><path d="M563 1323.5L336.2 1237"/><path d="M546.7 1346.8L537.1 1377.3"/><path d="M546.7 1346.8L336.2 1237"/><path d="M553.7 1344.5L537.1 1377.3"/><path d="M553.7 1344.5L336.2 1237"/><path d="M560.2 1348L537.1 1377.3"/><path d="M560.2 1348L336.2 1237"/><path d="M396.2 1358.5L537.1 1377.3"/><path d="M396.2 1358.5L516.6 1494"/><path d="M396.2 1358.5L374.8 1521"/><path d="M396.2 1358.5L336.2 1237"/><path d="M424.2 1363.2L537.1 1377.3"/><path d="M424.2 1363.2L336.2 1237"/><path d="M432.3 1371.3L537.1 1377.3"/><path d="M432.3 1371.3L336.2 1237"/><path d="M423 1369L537.1 1377.3"/><path d="M423 1369L336.2 1237"/><path d="M449.8 1366.7L537.1 1377.3"/><path d="M449.8 1366.7L336.2 1237"/><path d="M374 1364.3L301.9 1513.4"/><path d="M374 1364.3L537.1 1377.3"/><path d="M374 1364.3L374.8 1521"/><path d="M374 1364.3L336.2 1237"/><path d="M379.8 1377.2L301.9 1513.4"/><path d="M379.8 1377.2L537.1 1377.3"/><path d="M379.8 1377.2L374.8 1521"/><path d="M379.8 1377.2L336.2 1237"/><path d="M400.8 1377.2L537.1 1377.3"/><path d="M400.8 1377.2L516.6 1494"/><path d="M400.8 1377.2L374.8 1521"/><path d="M400.8 1377.2L336.2 1237"/><path d="M469.7 1384.2L537.1 1377.3"/><path d="M469.7 1384.2L336.2 1237"/><path d="M484.8 1381.8L537.1 1377.3"/><path d="M484.8 1381.8L336.2 1237"/><path d="M462.7 1390L537.1 1377.3"/><path d="M462.7 1390L336.2 1237"/><path d="M476.7 1398.2L537.1 1377.3"/><path d="M476.7 1398.2L336.2 1237"/><path d="M388 1394.7L301.9 1513.4"/><path d="M388 1394.7L537.1 1377.3"/><path d="M388 1394.7L374.8 1521"/><path d="M388 1394.7L336.2 1237"/><path d="M406.7 1390L537.1 1377.3"/><path d="M406.7 1390L516.6 1494"/><path d="M406.7 1390L374.8 1521"/><path d="M406.7 1390L336.2 1237"/><path d="M417.2 1390L537.1 1377.3"/><path d="M417.2 1390L516.6 1494"/><path d="M417.2 1390L374.8 1521"/><path d="M417.2 1390L336.2 1237"/><path d="M399.7 1401.7L301.9 1513.4"/><path d="M399.7 1401.7L537.1 1377.3"/><path d="M399.7 1401.7L374.8 1521"/><path d="M399.7 1401.7L336.2 1237"/><path d="M413.7 1401.7L537.1 1377.3"/><path d="M413.7 1401.7L516.6 1494"/><path d="M413.7 1401.7L374.8 1521"/><path d="M413.7 1401.7L336.2 1237"/><path d="M462.7 1404L537.1 1377.3"/><path d="M462.7 1404L516.6 1494"/><path d="M462.7 1404L336.2 1237"/><path d="M347.9 1377.3L301.9 1513.4"/><path d="M347.9 1377.3L537.1 1377.3"/><path d="M347.9 1377.3L374.8 1521"/><path d="M347.9 1377.3L336.2 1237"/><path d="M321.3 1397.5L301.9 1513.4"/><path d="M321.3 1397.5L374.8 1521"/><path d="M321.3 1397.5L336.2 1237"/><path d="M336.9 1401.2L301.9 1513.4"/><path d="M336.9 1401.2L374.8 1521"/><path d="M336.9 1401.2L336.2 1237"/><path d="M345.1 1423.2L301.9 1513.4"/><path d="M345.1 1423.2L374.8 1521"/><path d="M345.1 1423.2L336.2 1237"/><path d="M323.1 1425L301.9 1513.4"/><path d="M323.1 1425L374.8 1521"/><path d="M323.1 1425L336.2 1237"/><path d="M333.2 1428.7L301.9 1513.4"/><path d="M333.2 1428.7L374.8 1521"/><path d="M333.2 1428.7L336.2 1237"/><path d="M302.9 1423.2L301.9 1513.4"/><path d="M302.9 1423.2L374.8 1521"/><path d="M302.9 1423.2L336.2 1237"/><path d="M311.2 1435.1L301.9 1513.4"/><path d="M311.2 1435.1L336.2 1237"/><path d="M321.3 1442.5L301.9 1513.4"/><path d="M321.3 1442.5L374.8 1521"/><path d="M321.3 1442.5L336.2 1237"/><path d="M310.3 1443.4L301.9 1513.4"/><path d="M310.3 1443.4L336.2 1237"/><path d="M337.8 1445.2L301.9 1513.4"/><path d="M337.8 1445.2L374.8 1521"/><path d="M337.8 1445.2L336.2 1237"/><path d="M351.6 1450.7L301.9 1513.4"/><path d="M351.6 1450.7L374.8 1521"/><path d="M351.6 1450.7L336.2 1237"/><path d="M364.4 1448.9L301.9 1513.4"/><path d="M364.4 1448.9L374.8 1521"/><path d="M364.4 1448.9L336.2 1237"/><path d="M353.4 1439.7L301.9 1513.4"/><path d="M353.4 1439.7L374.8 1521"/><path d="M353.4 1439.7L336.2 1237"/><path d="M360.7 1392L301.9 1513.4"/><path d="M360.7 1392L374.8 1521"/><path d="M360.7 1392L336.2 1237"/><path d="M373.6 1395.7L301.9 1513.4"/><path d="M373.6 1395.7L537.1 1377.3"/><path d="M373.6 1395.7L374.8 1521"/><path d="M373.6 1395.7L336.2 1237"/><path d="M368.1 1406.7L301.9 1513.4"/><path d="M368.1 1406.7L374.8 1521"/><path d="M368.1 1406.7L336.2 1237"/><path d="M386.4 1392L301.9 1513.4"/><path d="M386.4 1392L537.1 1377.3"/><path d="M386.4 1392L374.8 1521"/><path d="M386.4 1392L336.2 1237"/><path d="M381.8 1404.9L301.9 1513.4"/><path d="M381.8 1404.9L374.8 1521"/><path d="M381.8 1404.9L336.2 1237"/><path d="M391.9 1401.2L301.9 1513.4"/><path d="M391.9 1401.2L537.1 1377.3"/><path d="M391.9 1401.2L374.8 1521"/><path d="M391.9 1401.2L336.2 1237"/><path d="M417.6 1392L537.1 1377.3"/><path d="M417.6 1392L516.6 1494"/><path d="M417.6 1392L374.8 1521"/><path d="M417.6 1392L336.2 1237"/><path d="M408.4 1406.7L537.1 1377.3"/><path d="M408.4 1406.7L516.6 1494"/><path d="M408.4 1406.7L374.8 1521"/><path d="M408.4 1406.7L336.2 1237"/><path d="M419.4 1406.7L537.1 1377.3"/><path d="M419.4 1406.7L516.6 1494"/><path d="M419.4 1406.7L374.8 1521"/><path d="M419.4 1406.7L336.2 1237"/><path d="M401.1 1417.7L301.9 1513.4"/><path d="M401.1 1417.7L516.6 1494"/><path d="M401.1 1417.7L374.8 1521"/><path d="M401.1 1417.7L336.2 1237"/><path d="M408.4 1425L537.1 1377.3"/><path d="M408.4 1425L516.6 1494"/><path d="M408.4 1425L374.8 1521"/><path d="M408.4 1425L336.2 1237"/><path d="M421.3 1425L537.1 1377.3"/><path d="M421.3 1425L516.6 1494"/><path d="M421.3 1425L374.8 1521"/><path d="M421.3 1425L336.2 1237"/><path d="M390.1 1430.6L301.9 1513.4"/><path d="M390.1 1430.6L374.8 1521"/><path d="M390.1 1430.6L336.2 1237"/><path d="M397.4 1439.7L374.8 1521"/><path d="M397.4 1439.7L336.2 1237"/><path d="M401.1 1448.9L374.8 1521"/><path d="M401.1 1448.9L336.2 1237"/><path d="M412.1 1437.9L516.6 1494"/><path d="M412.1 1437.9L374.8 1521"/><path d="M412.1 1437.9L336.2 1237"/><path d="M432.3 1430.6L537.1 1377.3"/><path d="M432.3 1430.6L516.6 1494"/><path d="M432.3 1430.6L374.8 1521"/><path d="M432.3 1430.6L336.2 1237"/><path d="M441.5 1428.7L537.1 1377.3"/><path d="M441.5 1428.7L516.6 1494"/><path d="M441.5 1428.7L374.8 1521"/><path d="M441.5 1428.7L336.2 1237"/><path d="M454.3 1419.5L537.1 1377.3"/><path d="M454.3 1419.5L516.6 1494"/><path d="M454.3 1419.5L336.2 1237"/><path d="M461.7 1406.7L537.1 1377.3"/><path d="M461.7 1406.7L516.6 1494"/><path d="M461.7 1406.7L336.2 1237"/><path d="M476.3 1401.2L537.1 1377.3"/><path d="M476.3 1401.2L336.2 1237"/><path d="M467.2 1386.5L537.1 1377.3"/><path d="M467.2 1386.5L336.2 1237"/><path d="M426.8 1371.8L537.1 1377.3"/><path d="M426.8 1371.8L336.2 1237"/><path d="M449.7 1371.8L537.1 1377.3"/><path d="M449.7 1371.8L336.2 1237"/><path d="M281 1377.3L301.9 1513.4"/><path d="M281 1377.3L374.8 1521"/><path d="M281 1377.3L336.2 1237"/><path d="M281 1414L301.9 1513.4"/><path d="M281 1414L336.2 1237"/><path d="M380 1420L301.9 1513.4"/><path d="M380 1420L374.8 1521"/><path d="M380 1420L336.2 1237"/><path d="M430 1410L537.1 1377.3"/><path d="M430 1410L516.6 1494"/><path d="M430 1410L374.8 1521"/><path d="M430 1410L336.2 1237"/><path d="M440 1395L537.1 1377.3"/><path d="M440 1395L516.6 1494"/><path d="M440 1395L336.2 1237"/><path d="M360 1430L301.9 1513.4"/><path d="M360 1430L374.8 1521"/><path d="M360 1430L336.2 1237"/><path d="M375 1440L301.9 1513.4"/><path d="M375 1440L374.8 1521"/><path d="M375 1440L336.2 1237"/><path d="M728 1278.6L537.1 1377.3"/><path d="M739.6 1297L537.1 1377.3"/><path d="M333 1386L301.9 1513.4"/><path d="M333 1386L374.8 1521"/><path d="M333 1386L336.2 1237"/><path d="M328.5 1403.3L301.9 1513.4"/><path d="M328.5 1403.3L374.8 1521"/><path d="M328.5 1403.3L336.2 1237"/><path d="M349.5 1449L301.9 1513.4"/><path d="M349.5 1449L374.8 1521"/><path d="M349.5 1449L336.2 1237"/><path d="M357 1392L301.9 1513.4"/><path d="M357 1392L374.8 1521"/><path d="M357 1392L336.2 1237"/><path d="M366 1387.5L301.9 1513.4"/><path d="M366 1387.5L537.1 1377.3"/><path d="M366 1387.5L374.8 1521"/><path d="M366 1387.5L336.2 1237"/><path d="M370.5 1405.5L301.9 1513.4"/><path d="M370.5 1405.5L374.8 1521"/><path d="M370.5 1405.5L336.2 1237"/><path d="M375 1335L301.9 1513.4"/><path d="M375 1335L537.1 1377.3"/><path d="M375 1335L374.8 1521"/><path d="M375 1335L336.2 1237"/><path d="M379.5 1374L301.9 1513.4"/><path d="M379.5 1374L537.1 1377.3"/><path d="M379.5 1374L374.8 1521"/><path d="M379.5 1374L336.2 1237"/><path d="M387 1404L301.9 1513.4"/><path d="M387 1404L537.1 1377.3"/><path d="M387 1404L374.8 1521"/><path d="M387 1404L336.2 1237"/><path d="M421.5 1330.5L537.1 1377.3"/><path d="M421.5 1330.5L336.2 1237"/><path d="M414 1404L537.1 1377.3"/><path d="M414 1404L516.6 1494"/><path d="M414 1404L374.8 1521"/><path d="M414 1404L336.2 1237"/><path d="M402 1404L537.1 1377.3"/><path d="M402 1404L516.6 1494"/><path d="M402 1404L374.8 1521"/><path d="M402 1404L336.2 1237"/><path d="M475.5 1353L537.1 1377.3"/><path d="M475.5 1353L336.2 1237"/><path d="M465 1386L537.1 1377.3"/><path d="M465 1386L336.2 1237"/><path d="M459 1410L537.1 1377.3"/><path d="M459 1410L516.6 1494"/><path d="M459 1410L336.2 1237"/><path d="M438 1422L537.1 1377.3"/><path d="M438 1422L516.6 1494"/><path d="M438 1422L374.8 1521"/><path d="M438 1422L336.2 1237"/><path d="M441 1432.5L537.1 1377.3"/><path d="M441 1432.5L516.6 1494"/><path d="M441 1432.5L374.8 1521"/><path d="M441 1432.5L336.2 1237"/><path d="M429 1429.5L537.1 1377.3"/><path d="M429 1429.5L516.6 1494"/><path d="M429 1429.5L374.8 1521"/><path d="M429 1429.5L336.2 1237"/><path d="M420 1419L537.1 1377.3"/><path d="M420 1419L516.6 1494"/><path d="M420 1419L374.8 1521"/><path d="M420 1419L336.2 1237"/><path d="M405 1416L537.1 1377.3"/><path d="M405 1416L516.6 1494"/><path d="M405 1416L374.8 1521"/><path d="M405 1416L336.2 1237"/><path d="M388.5 1428L301.9 1513.4"/><path d="M388.5 1428L374.8 1521"/><path d="M388.5 1428L336.2 1237"/><path d="M393 1437L374.8 1521"/><path d="M393 1437L336.2 1237"/><path d="M405 1434L374.8 1521"/><path d="M405 1434L336.2 1237"/><path d="M375 1410L301.9 1513.4"/><path d="M375 1410L374.8 1521"/><path d="M375 1410L336.2 1237"/><path d="M313 1392L301.9 1513.4"/><path d="M313 1392L374.8 1521"/><path d="M313 1392L336.2 1237"/><path d="M345 1392L301.9 1513.4"/><path d="M345 1392L374.8 1521"/><path d="M345 1392L336.2 1237"/><path d="M313 1408L301.9 1513.4"/><path d="M313 1408L374.8 1521"/><path d="M313 1408L336.2 1237"/><path d="M321 1408L301.9 1513.4"/><path d="M321 1408L374.8 1521"/><path d="M321 1408L336.2 1237"/><path d="M387 1384L301.9 1513.4"/><path d="M387 1384L537.1 1377.3"/><path d="M387 1384L374.8 1521"/><path d="M387 1384L336.2 1237"/><path d="M395 1384L301.9 1513.4"/><path d="M395 1384L537.1 1377.3"/><path d="M395 1384L374.8 1521"/><path d="M395 1384L336.2 1237"/><path d="M403 1384L537.1 1377.3"/><path d="M403 1384L516.6 1494"/><path d="M403 1384L374.8 1521"/><path d="M403 1384L336.2 1237"/><path d="M411 1384L537.1 1377.3"/><path d="M411 1384L516.6 1494"/><path d="M411 1384L374.8 1521"/><path d="M411 1384L336.2 1237"/><path d="M427 1384L537.1 1377.3"/><path d="M427 1384L516.6 1494"/><path d="M427 1384L374.8 1521"/><path d="M427 1384L336.2 1237"/><path d="M435 1384L537.1 1377.3"/><path d="M435 1384L516.6 1494"/><path d="M435 1384L336.2 1237"/><path d="M443 1384L537.1 1377.3"/><path d="M443 1384L336.2 1237"/><path d="M395 1392L301.9 1513.4"/><path d="M395 1392L537.1 1377.3"/><path d="M395 1392L374.8 1521"/><path d="M395 1392L336.2 1237"/><path d="M427 1392L537.1 1377.3"/><path d="M427 1392L516.6 1494"/><path d="M427 1392L374.8 1521"/><path d="M427 1392L336.2 1237"/><path d="M427 1400L537.1 1377.3"/><path d="M427 1400L516.6 1494"/><path d="M427 1400L374.8 1521"/><path d="M427 1400L336.2 1237"/><path d="M435 1400L537.1 1377.3"/><path d="M435 1400L516.6 1494"/><path d="M435 1400L374.8 1521"/><path d="M435 1400L336.2 1237"/><path d="M395 1408L301.9 1513.4"/><path d="M395 1408L537.1 1377.3"/><path d="M395 1408L374.8 1521"/><path d="M395 1408L336.2 1237"/><path d="M443 1408L537.1 1377.3"/><path d="M443 1408L516.6 1494"/><path d="M443 1408L374.8 1521"/><path d="M443 1408L336.2 1237"/><path d="M363 1416L301.9 1513.4"/><path d="M363 1416L374.8 1521"/><path d="M363 1416L336.2 1237"/><path d="M371 1416L301.9 1513.4"/><path d="M371 1416L374.8 1521"/><path d="M371 1416L336.2 1237"/><path d="M387 1416L301.9 1513.4"/><path d="M387 1416L374.8 1521"/><path d="M387 1416L336.2 1237"/><path d="M443 1416L537.1 1377.3"/><path d="M443 1416L516.6 1494"/><path d="M443 1416L374.8 1521"/><path d="M443 1416L336.2 1237"/><path d="M371 1424L301.9 1513.4"/><path d="M371 1424L374.8 1521"/><path d="M371 1424L336.2 1237"/><path d="M395 1424L301.9 1513.4"/><path d="M395 1424L374.8 1521"/><path d="M395 1424L336.2 1237"/><path d="M371 1432L301.9 1513.4"/><path d="M371 1432L374.8 1521"/><path d="M371 1432L336.2 1237"/><path d="M379 1432L301.9 1513.4"/><path d="M379 1432L374.8 1521"/><path d="M379 1432L336.2 1237"/><path d="M419 1432L537.1 1377.3"/><path d="M419 1432L516.6 1494"/><path d="M419 1432L374.8 1521"/><path d="M419 1432L336.2 1237"/><path d="M382 1441L301.9 1513.4"/><path d="M382 1441L374.8 1521"/><path d="M382 1441L336.2 1237"/><path d="M382 1449L374.8 1521"/><path d="M382 1449L336.2 1237"/><path d="M390 1449L374.8 1521"/><path d="M390 1449L336.2 1237"/><path d="M414 1449L374.8 1521"/><path d="M414 1449L336.2 1237"/><path d="M450 1395L537.1 1377.3"/><path d="M450 1395L516.6 1494"/><path d="M450 1395L336.2 1237"/><path d="M450 1403L537.1 1377.3"/><path d="M450 1403L516.6 1494"/><path d="M450 1403L336.2 1237"/><path d="M450 1411L537.1 1377.3"/><path d="M450 1411L516.6 1494"/><path d="M450 1411L336.2 1237"/><path d="M466 1419L537.1 1377.3"/><path d="M466 1419L516.6 1494"/><path d="M466 1419L336.2 1237"/><path d="M330 1437L301.9 1513.4"/><path d="M330 1437L374.8 1521"/><path d="M330 1437L336.2 1237"/><path d="M338 1437L301.9 1513.4"/><path d="M338 1437L374.8 1521"/><path d="M338 1437L336.2 1237"/><path d="M346 1437L301.9 1513.4"/><path d="M346 1437L374.8 1521"/><path d="M346 1437L336.2 1237"/><path d="M362 1437L301.9 1513.4"/><path d="M362 1437L374.8 1521"/><path d="M362 1437L336.2 1237"/><path d="M330 1445L301.9 1513.4"/><path d="M330 1445L374.8 1521"/><path d="M330 1445L336.2 1237"/><path d="M330 1453L301.9 1513.4"/><path d="M330 1453L374.8 1521"/><path d="M330 1453L336.2 1237"/><path d="M338 1453L301.9 1513.4"/><path d="M338 1453L374.8 1521"/><path d="M338 1453L336.2 1237"/><path d="M746.6 1253.4L537.1 1377.3"/><path d="M759.6 1263.4L537.1 1377.3"/><path d="M763.6 1277.4L537.1 1377.3"/><path d="M775.6 1284.6L537.1 1377.3"/><path d="M775 1295L537.1 1377.3"/><path d="M782 1309L537.1 1377.3"/><path d="M732 1361L537.1 1377.3"/><path d="M732 1361L516.6 1494"/><path d="M730 1367.6L537.1 1377.3"/><path d="M730 1367.6L516.6 1494"/><path d="M739.6 1372L537.1 1377.3"/><path d="M739.6 1372L516.6 1494"/><path d="M751.6 1379.6L537.1 1377.3"/><path d="M751.6 1379.6L516.6 1494"/><path d="M755 1392L537.1 1377.3"/><path d="M755 1392L516.6 1494"/><path d="M726 1402L537.1 1377.3"/><path d="M726 1402L516.6 1494"/><path d="M756 1404L537.1 1377.3"/><path d="M756 1404L516.6 1494"/><path d="M758 1415.6L537.1 1377.3"/><path d="M758 1415.6L516.6 1494"/><path d="M718 1418L537.1 1377.3"/><path d="M718 1418L516.6 1494"/><path d="M735 1421L537.1 1377.3"/><path d="M735 1421L516.6 1494"/><path d="M637.6 1419.6L537.1 1377.3"/><path d="M637.6 1419.6L516.6 1494"/><path d="M646 1429L537.1 1377.3"/><path d="M646 1429L516.6 1494"/><path d="M574 1426.5L537.1 1377.3"/><path d="M574 1426.5L516.6 1494"/><path d="M695 1437.5L537.1 1377.3"/><path d="M695 1437.5L516.6 1494"/><path d="M570.4 1433.3L537.1 1377.3"/><path d="M570.4 1433.3L516.6 1494"/><path d="M576.7 1450L537.1 1377.3"/><path d="M576.7 1450L516.6 1494"/><path d="M614.2 1441.7L336.2 1237"/><path d="M614.2 1441.7L537.1 1377.3"/><path d="M614.2 1441.7L516.6 1494"/><path d="M615.2 1450L336.2 1237"/><path d="M615.2 1450L537.1 1377.3"/><path d="M615.2 1450L516.6 1494"/><path d="M648.5 1447.9L537.1 1377.3"/><path d="M648.5 1447.9L516.6 1494"/><path d="M654.8 1458.3L537.1 1377.3"/><path d="M654.8 1458.3L516.6 1494"/><path d="M653.8 1470.4L537.1 1377.3"/><path d="M653.8 1470.4L516.6 1494"/><path d="M577.7 1471.5L516.6 1494"/><path d="M578.8 1486.5L516.6 1494"/><path d="M603.8 1491.7L516.6 1494"/><path d="M592.3 1501.7L516.6 1494"/><path d="M623.1 1480.6L516.6 1494"/><path d="M639.2 1526.5L516.6 1494"/><path d="M656.5 1521.9L516.6 1494"/><path d="M661 1516L516.6 1494"/><path d="M612.1 1541.3L516.6 1494"/><path d="M620.4 1548.3L516.6 1494"/><path d="M635.4 1558.3L516.6 1494"/><path d="M650.2 1566.7L516.6 1494"/><path d="M661.5 1559L516.6 1494"/><path d="M609.4 1585.4L516.6 1494"/><path d="M612.7 1599.6L516.6 1494"/><path d="M637.7 1600.4L516.6 1494"/><path d="M565.6 1605.2L516.6 1494"/><path d="M591.7 1616.7L516.6 1494"/><path d="M632.9 1618.8L516.6 1494"/><path d="M625.2 1626L516.6 1494"/><path d="M651.3 1616.7L516.6 1494"/><path d="M645.8 1629.8L516.6 1494"/><path d="M567.9 1635L516.6 1494"/><path d="M604.4 1643.8L516.6 1494"/><path d="M616.3 1645.4L516.6 1494"/><path d="M637.5 1642.7L516.6 1494"/><path d="M753.8 1466.7L537.1 1377.3"/><path d="M753.8 1466.7L516.6 1494"/><path d="M751.7 1479.8L537.1 1377.3"/><path d="M751.7 1479.8L516.6 1494"/><path d="M770 1473.3L537.1 1377.3"/><path d="M770 1473.3L516.6 1494"/><path d="M791.9 1466.3L537.1 1377.3"/><path d="M791.9 1466.3L516.6 1494"/><path d="M789.2 1474.6L537.1 1377.3"/><path d="M789.2 1474.6L516.6 1494"/><path d="M734 1484L537.1 1377.3"/><path d="M734 1484L516.6 1494"/><path d="M718.8 1491.7L537.1 1377.3"/><path d="M718.8 1491.7L516.6 1494"/><path d="M734 1501L537.1 1377.3"/><path d="M734 1501L516.6 1494"/><path d="M793.8 1495.4L537.1 1377.3"/><path d="M793.8 1495.4L516.6 1494"/><path d="M791.3 1507.3L537.1 1377.3"/><path d="M791.3 1507.3L516.6 1494"/><path d="M794.4 1514.6L537.1 1377.3"/><path d="M794.4 1514.6L516.6 1494"/><path d="M773.5 1510L516.6 1494"/><path d="M771.5 1516.7L516.6 1494"/><path d="M751.3 1514.6L516.6 1494"/><path d="M739.2 1521.5L516.6 1494"/><path d="M789.2 1524L516.6 1494"/><path d="M774.2 1529.8L516.6 1494"/><path d="M787.1 1535.4L516.6 1494"/><path d="M780.8 1543.8L516.6 1494"/><path d="M783 1551L516.6 1494"/><path d="M725.6 1549.6L516.6 1494"/><path d="M735 1555.8L516.6 1494"/><path d="M750.2 1549.6L516.6 1494"/><path d="M766.3 1548.5L516.6 1494"/><path d="M778.8 1558.3L516.6 1494"/><path d="M778.8 1566.7L516.6 1494"/><path d="M734 1567.1L516.6 1494"/><path d="M742.3 1575.6L516.6 1494"/><path d="M763.8 1567.7L516.6 1494"/><path d="M756.9 1572.9L516.6 1494"/><path d="M780.8 1577.1L516.6 1494"/><path d="M755.8 1583.3L516.6 1494"/><path d="M780.4 1588.5L516.6 1494"/><path d="M769.4 1593.8L516.6 1494"/><path d="M729.8 1598.3L516.6 1494"/><path d="M748.5 1597.5L516.6 1494"/><path d="M773.5 1606.3L516.6 1494"/><path d="M762.1 1611.5L516.6 1494"/><path d="M765.2 1620.8L516.6 1494"/><path d="M754.8 1618.8L516.6 1494"/><path d="M750.6 1625L516.6 1494"/><path d="M749.6 1634.4L516.6 1494"/><path d="M536.7 1448.3L516.6 1494"/><path d="M540 1458.3L516.6 1494"/><path d="M519.2 1465.8L516.6 1494"/><path d="M483.3 1476.7L516.6 1494"/><path d="M485 1497.5L516.6 1494"/><path d="M544.2 1492.5L516.6 1494"/><path d="M547.5 1506.7L516.6 1494"/><path d="M508.3 1523.3L516.6 1494"/><path d="M527.5 1521.7L516.6 1494"/><path d="M460.8 1488.3L516.6 1494"/><path d="M465.8 1500.8L516.6 1494"/><path d="M437.5 1489.2L516.6 1494"/><path d="M442.5 1495.8L516.6 1494"/><path d="M422.5 1501.7L516.6 1494"/><path d="M436.7 1506.7L516.6 1494"/><path d="M411.7 1513.3L516.6 1494"/><path d="M419.2 1517.5L516.6 1494"/><path d="M428.3 1517.5L516.6 1494"/><path d="M457.5 1515L516.6 1494"/><path d="M480 1521.7L516.6 1494"/><path d="M464.2 1530L516.6 1494"/><path d="M475 1533.3L516.6 1494"/><path d="M482.5 1532.5L516.6 1494"/><path d="M422.5 1556.7L516.6 1494"/><path d="M441.7 1566.7L516.6 1494"/><path d="M450 1570L516.6 1494"/><path d="M430 1572.5L516.6 1494"/><path d="M436.7 1579.2L516.6 1494"/><path d="M425 1583.3L516.6 1494"/><path d="M470 1580L516.6 1494"/><path d="M511.7 1570.8L516.6 1494"/><path d="M530.8 1565.8L516.6 1494"/><path d="M522.5 1577.5L516.6 1494"/><path d="M513.3 1580L516.6 1494"/><path d="M556.3 1578.3L516.6 1494"/><path d="M382.5 1571.7L516.6 1494"/><path d="M383.3 1578.3L516.6 1494"/><path d="M485 1588.3L516.6 1494"/><path d="M23.3 1533.3L301.9 1513.4"/><path d="M31.7 1540L301.9 1513.4"/><path d="M21.7 1553.3L301.9 1513.4"/><path d="M33.3 1563.3L301.9 1513.4"/><path d="M59.5 1489.5L301.9 1513.4"/><path d="M45 1508.3L301.9 1513.4"/><path d="M57.5 1507.5L301.9 1513.4"/><path d="M68.8 1503L301.9 1513.4"/><path d="M55.5 1518.3L301.9 1513.4"/><path d="M70.8 1518L301.9 1513.4"/><path d="M60.3 1525.8L301.9 1513.4"/><path d="M90.3 1503.7L301.9 1513.4"/><path d="M118.8 1486.7L301.9 1513.4"/><path d="M112.5 1492L301.9 1513.4"/><path d="M116.7 1500L301.9 1513.4"/><path d="M114.2 1515.8L301.9 1513.4"/><path d="M145.3 1503.3L301.9 1513.4"/><path d="M155.8 1516.7L301.9 1513.4"/><path d="M152 1522.5L301.9 1513.4"/><path d="M176.3 1528.8L301.9 1513.4"/><path d="M27.5 1522.5L301.9 1513.4"/><path d="M27.5 1530L301.9 1513.4"/><path d="M43.7 1533.3L301.9 1513.4"/><path d="M25 1538.3L301.9 1513.4"/><path d="M16.7 1545.8L301.9 1513.4"/><path d="M28.3 1546.7L301.9 1513.4"/><path d="M34.2 1555L301.9 1513.4"/><path d="M17.5 1562.5L301.9 1513.4"/><path d="M26.7 1560L301.9 1513.4"/><path d="M40.8 1566.7L301.9 1513.4"/><path d="M31.7 1573.3L301.9 1513.4"/><path d="M32.5 1580L301.9 1513.4"/><path d="M31.7 1586.7L301.9 1513.4"/><path d="M41.7 1592.5L301.9 1513.4"/><path d="M35.8 1596.7L301.9 1513.4"/><path d="M29.2 1598.3L301.9 1513.4"/><path d="M59.2 1540L301.9 1513.4"/><path d="M79.2 1544.7L301.9 1513.4"/><path d="M75 1555L301.9 1513.4"/><path d="M75 1564.2L301.9 1513.4"/><path d="M115 1535L301.9 1513.4"/><path d="M111.7 1545.5L301.9 1513.4"/><path d="M114.7 1561.7L301.9 1513.4"/><path d="M130.5 1566.7L301.9 1513.4"/><path d="M141.3 1568L301.9 1513.4"/><path d="M158 1551.3L301.9 1513.4"/><path d="M175.8 1568L301.9 1513.4"/><path d="M60 1583.8L301.9 1513.4"/><path d="M98 1591.7L301.9 1513.4"/><path d="M38 1611.7L301.9 1513.4"/><path d="M42.5 1610.8L301.9 1513.4"/><path d="M47.5 1624.2L301.9 1513.4"/><path d="M61.3 1623.3L301.9 1513.4"/><path d="M90.8 1613.3L301.9 1513.4"/><path d="M89.5 1626.3L301.9 1513.4"/><path d="M128.7 1607.2L301.9 1513.4"/><path d="M141.3 1621.3L301.9 1513.4"/><path d="M155.5 1620.5L301.9 1513.4"/><path d="M164.2 1613.3L301.9 1513.4"/><path d="M170.8 1603L301.9 1513.4"/><path d="M193.8 1603.8L301.9 1513.4"/><path d="M184.2 1622.5L301.9 1513.4"/><path d="M183.3 1625.8L301.9 1513.4"/><path d="M53.3 1636.7L301.9 1513.4"/><path d="M63.3 1639.2L301.9 1513.4"/><path d="M97.2 1638.3L301.9 1513.4"/><path d="M153 1638.3L301.9 1513.4"/><path d="M69 1650.4L301.9 1513.4"/><path d="M68.6 1658.4L301.9 1513.4"/><path d="M78 1663.6L301.9 1513.4"/><path d="M88 1676L301.9 1513.4"/><path d="M102.4 1676L301.9 1513.4"/><path d="M102 1687L301.9 1513.4"/><path d="M112 1696.6L301.9 1513.4"/><path d="M119.6 1697L301.9 1513.4"/><path d="M127.4 1706L301.9 1513.4"/><path d="M153.6 1641L301.9 1513.4"/><path d="M157 1651L301.9 1513.4"/><path d="M165 1661L301.9 1513.4"/><path d="M173 1673.6L301.9 1513.4"/><path d="M181 1681L301.9 1513.4"/><path d="M200 1703L301.9 1513.4"/><path d="M209 1709L301.9 1513.4"/><path d="M212 1713L301.9 1513.4"/><path d="M224 1711.6L301.9 1513.4"/><path d="M232 1714L301.9 1513.4"/><path d="M237 1723L301.9 1513.4"/><path d="M210.8 1567.2L374.8 1521"/><path d="M210.8 1567.2L301.9 1513.4"/><path d="M228.7 1585.8L374.8 1521"/><path d="M228.7 1585.8L301.9 1513.4"/><path d="M208.7 1601.3L374.8 1521"/><path d="M208.7 1601.3L301.9 1513.4"/><path d="M222.2 1613.3L374.8 1521"/><path d="M222.2 1613.3L301.9 1513.4"/><path d="M240.3 1608.3L374.8 1521"/><path d="M240.3 1608.3L301.9 1513.4"/><path d="M237.2 1627.5L374.8 1521"/><path d="M237.2 1627.5L301.9 1513.4"/><path d="M215.5 1637.5L374.8 1521"/><path d="M215.5 1637.5L301.9 1513.4"/><path d="M183.3 1649.2L374.8 1521"/><path d="M183.3 1649.2L301.9 1513.4"/><path d="M210 1660.8L374.8 1521"/><path d="M210 1660.8L301.9 1513.4"/><path d="M223.7 1666.7L374.8 1521"/><path d="M223.7 1666.7L301.9 1513.4"/><path d="M225.3 1675.8L374.8 1521"/><path d="M225.3 1675.8L301.9 1513.4"/><path d="M183.3 1670.8L374.8 1521"/><path d="M183.3 1670.8L301.9 1513.4"/><path d="M199.2 1679.7L374.8 1521"/><path d="M199.2 1679.7L301.9 1513.4"/><path d="M183.3 1688.3L374.8 1521"/><path d="M183.3 1688.3L301.9 1513.4"/><path d="M195.8 1694.2L374.8 1521"/><path d="M195.8 1694.2L301.9 1513.4"/><path d="M217.5 1699.2L374.8 1521"/><path d="M217.5 1699.2L301.9 1513.4"/><path d="M247.5 1661.3L374.8 1521"/><path d="M247.5 1661.3L301.9 1513.4"/><path d="M263.3 1653.7L374.8 1521"/><path d="M263.3 1653.7L301.9 1513.4"/><path d="M261.7 1674.2L374.8 1521"/><path d="M261.7 1674.2L301.9 1513.4"/><path d="M264.2 1681.7L374.8 1521"/><path d="M264.2 1681.7L301.9 1513.4"/><path d="M278.3 1690.8L374.8 1521"/><path d="M278.3 1690.8L301.9 1513.4"/><path d="M292.5 1698.3L516.6 1494"/><path d="M292.5 1698.3L374.8 1521"/><path d="M292.5 1698.3L301.9 1513.4"/><path d="M303 1576.3L374.8 1521"/><path d="M303 1576.3L301.9 1513.4"/><path d="M306.3 1590L374.8 1521"/><path d="M306.3 1590L301.9 1513.4"/><path d="M306.3 1598.7L374.8 1521"/><path d="M306.3 1598.7L301.9 1513.4"/><path d="M306.3 1606.7L374.8 1521"/><path d="M306.3 1606.7L301.9 1513.4"/><path d="M318.3 1573L374.8 1521"/><path d="M318.3 1573L301.9 1513.4"/><path d="M325 1582.5L374.8 1521"/><path d="M325 1582.5L301.9 1513.4"/><path d="M328.3 1591.3L374.8 1521"/><path d="M328.3 1591.3L301.9 1513.4"/><path d="M310.8 1622.2L374.8 1521"/><path d="M310.8 1622.2L301.9 1513.4"/><path d="M321.3 1620L374.8 1521"/><path d="M321.3 1620L301.9 1513.4"/><path d="M330.8 1621.3L374.8 1521"/><path d="M330.8 1621.3L301.9 1513.4"/><path d="M344.2 1629.2L374.8 1521"/><path d="M344.2 1629.2L301.9 1513.4"/><path d="M356.7 1620L374.8 1521"/><path d="M356.7 1620L301.9 1513.4"/><path d="M362.5 1561.3L374.8 1521"/><path d="M360.8 1578.3L374.8 1521"/><path d="M360.8 1578.3L301.9 1513.4"/><path d="M364.2 1589.2L374.8 1521"/><path d="M364.2 1589.2L301.9 1513.4"/><path d="M378.3 1571.7L374.8 1521"/><path d="M372.5 1616.7L374.8 1521"/><path d="M372.5 1616.7L301.9 1513.4"/><path d="M370 1628.3L374.8 1521"/><path d="M370 1628.3L301.9 1513.4"/><path d="M328.3 1637.5L374.8 1521"/><path d="M328.3 1637.5L301.9 1513.4"/><path d="M329.2 1644.2L374.8 1521"/><path d="M329.2 1644.2L301.9 1513.4"/><path d="M362.5 1643.3L374.8 1521"/><path d="M362.5 1643.3L301.9 1513.4"/><path d="M330 1659.7L374.8 1521"/><path d="M330 1659.7L301.9 1513.4"/><path d="M337.5 1654.2L374.8 1521"/><path d="M337.5 1654.2L301.9 1513.4"/><path d="M341.7 1665.8L516.6 1494"/><path d="M341.7 1665.8L374.8 1521"/><path d="M341.7 1665.8L301.9 1513.4"/><path d="M350.8 1669.2L516.6 1494"/><path d="M350.8 1669.2L374.8 1521"/><path d="M350.8 1669.2L301.9 1513.4"/><path d="M358.3 1661.7L516.6 1494"/><path d="M358.3 1661.7L374.8 1521"/><path d="M358.3 1661.7L301.9 1513.4"/><path d="M372.5 1659.2L516.6 1494"/><path d="M372.5 1659.2L374.8 1521"/><path d="M372.5 1659.2L301.9 1513.4"/><path d="M363.3 1681.7L516.6 1494"/><path d="M363.3 1681.7L374.8 1521"/><path d="M363.3 1681.7L301.9 1513.4"/><path d="M375.8 1691.7L516.6 1494"/><path d="M375.8 1691.7L374.8 1521"/><path d="M375.8 1691.7L301.9 1513.4"/><path d="M240 1724L516.6 1494"/><path d="M240 1724L374.8 1521"/><path d="M240 1724L301.9 1513.4"/><path d="M247.6 1725L516.6 1494"/><path d="M247.6 1725L374.8 1521"/><path d="M247.6 1725L301.9 1513.4"/><path d="M264 1712L516.6 1494"/><path d="M264 1712L374.8 1521"/><path d="M264 1712L301.9 1513.4"/><path d="M260 1721L516.6 1494"/><path d="M260 1721L374.8 1521"/><path d="M260 1721L301.9 1513.4"/><path d="M272 1722L516.6 1494"/><path d="M272 1722L374.8 1521"/><path d="M272 1722L301.9 1513.4"/><path d="M277.4 1717L516.6 1494"/><path d="M277.4 1717L374.8 1521"/><path d="M277.4 1717L301.9 1513.4"/><path d="M297 1751L516.6 1494"/><path d="M297 1751L374.8 1521"/><path d="M297 1751L301.9 1513.4"/><path d="M291 1757L516.6 1494"/><path d="M291 1757L374.8 1521"/><path d="M291 1757L301.9 1513.4"/><path d="M306.6 1761L516.6 1494"/><path d="M306.6 1761L374.8 1521"/><path d="M306.6 1761L301.9 1513.4"/><path d="M313.6 1752L516.6 1494"/><path d="M313.6 1752L374.8 1521"/><path d="M313.6 1752L301.9 1513.4"/><path d="M325 1736L516.6 1494"/><path d="M325 1736L374.8 1521"/><path d="M325 1736L301.9 1513.4"/><path d="M325.4 1762.4L516.6 1494"/><path d="M325.4 1762.4L374.8 1521"/><path d="M325.4 1762.4L301.9 1513.4"/><path d="M337.4 1755.6L516.6 1494"/><path d="M337.4 1755.6L374.8 1521"/><path d="M337.4 1755.6L301.9 1513.4"/><path d="M351 1740.4L516.6 1494"/><path d="M351 1740.4L374.8 1521"/><path d="M351 1740.4L301.9 1513.4"/><path d="M349 1766.4L516.6 1494"/><path d="M349 1766.4L374.8 1521"/><path d="M349 1766.4L301.9 1513.4"/><path d="M360 1768L516.6 1494"/><path d="M360 1768L374.8 1521"/><path d="M360 1768L301.9 1513.4"/><path d="M370 1761L516.6 1494"/><path d="M370 1761L374.8 1521"/><path d="M370 1761L301.9 1513.4"/><path d="M378 1768.4L516.6 1494"/><path d="M378 1768.4L374.8 1521"/><path d="M378 1768.4L301.9 1513.4"/><path d="M391 1769L516.6 1494"/><path d="M391 1769L374.8 1521"/><path d="M391 1769L301.9 1513.4"/><path d="M400.6 1767L516.6 1494"/><path d="M400.6 1767L374.8 1521"/><path d="M400.6 1767L301.9 1513.4"/><path d="M417 1766L516.6 1494"/><path d="M417 1766L374.8 1521"/><path d="M417 1766L301.9 1513.4"/><path d="M329 1623L374.8 1521"/><path d="M329 1623L301.9 1513.4"/><path d="M386 1625L374.8 1521"/><path d="M386 1625L301.9 1513.4"/><path d="M401 1629L516.6 1494"/><path d="M401 1629L374.8 1521"/><path d="M401 1629L301.9 1513.4"/><path d="M421 1626L516.6 1494"/><path d="M421 1626L374.8 1521"/><path d="M421 1626L301.9 1513.4"/><path d="M457 1625L516.6 1494"/><path d="M457 1625L374.8 1521"/><path d="M457 1625L301.9 1513.4"/><path d="M391 1641L516.6 1494"/><path d="M391 1641L374.8 1521"/><path d="M391 1641L301.9 1513.4"/><path d="M397 1651L516.6 1494"/><path d="M397 1651L374.8 1521"/><path d="M397 1651L301.9 1513.4"/><path d="M420 1635L516.6 1494"/><path d="M420 1635L374.8 1521"/><path d="M420 1635L301.9 1513.4"/><path d="M431.6 1646L516.6 1494"/><path d="M431.6 1646L374.8 1521"/><path d="M431.6 1646L301.9 1513.4"/><path d="M446.4 1635L516.6 1494"/><path d="M446.4 1635L374.8 1521"/><path d="M446.4 1635L301.9 1513.4"/><path d="M418 1674L516.6 1494"/><path d="M418 1674L374.8 1521"/><path d="M418 1674L301.9 1513.4"/><path d="M428 1670L516.6 1494"/><path d="M428 1670L374.8 1521"/><path d="M428 1670L301.9 1513.4"/><path d="M440 1660L516.6 1494"/><path d="M440 1660L374.8 1521"/><path d="M440 1660L301.9 1513.4"/><path d="M449 1660L516.6 1494"/><path d="M449 1660L374.8 1521"/><path d="M449 1660L301.9 1513.4"/><path d="M386 1697L516.6 1494"/><path d="M386 1697L374.8 1521"/><path d="M386 1697L301.9 1513.4"/><path d="M393 1689L516.6 1494"/><path d="M393 1689L374.8 1521"/><path d="M393 1689L301.9 1513.4"/><path d="M398 1694L516.6 1494"/><path d="M398 1694L374.8 1521"/><path d="M398 1694L301.9 1513.4"/><path d="M409 1689.6L516.6 1494"/><path d="M409 1689.6L374.8 1521"/><path d="M409 1689.6L301.9 1513.4"/><path d="M429 1710L516.6 1494"/><path d="M429 1710L374.8 1521"/><path d="M429 1710L301.9 1513.4"/><path d="M436 1718L516.6 1494"/><path d="M436 1718L374.8 1521"/><path d="M436 1718L301.9 1513.4"/><path d="M448 1708L516.6 1494"/><path d="M448 1708L374.8 1521"/><path d="M448 1708L301.9 1513.4"/><path d="M446 1716L516.6 1494"/><path d="M446 1716L374.8 1521"/><path d="M446 1716L301.9 1513.4"/><path d="M457 1715L516.6 1494"/><path d="M457 1715L374.8 1521"/><path d="M457 1715L301.9 1513.4"/><path d="M423.3 1561.1L374.8 1521"/><path d="M548.9 1597.9L516.6 1494"/><path d="M537 1606.6L516.6 1494"/><path d="M537 1606.6L374.8 1521"/><path d="M534.4 1617.4L516.6 1494"/><path d="M534.4 1617.4L374.8 1521"/><path d="M528.8 1628.9L516.6 1494"/><path d="M528.8 1628.9L374.8 1521"/><path d="M525.1 1645.6L516.6 1494"/><path d="M525.1 1645.6L374.8 1521"/><path d="M629.8 1657.5L537.1 1377.3"/><path d="M629.8 1657.5L516.6 1494"/><path d="M629.8 1657.5L374.8 1521"/><path d="M614.6 1670.1L537.1 1377.3"/><path d="M614.6 1670.1L516.6 1494"/><path d="M614.6 1670.1L374.8 1521"/><path d="M577.1 1652.7L537.1 1377.3"/><path d="M577.1 1652.7L516.6 1494"/><path d="M577.1 1652.7L374.8 1521"/><path d="M593.8 1656.9L537.1 1377.3"/><path d="M593.8 1656.9L516.6 1494"/><path d="M593.8 1656.9L374.8 1521"/><path d="M544.6 1668.3L516.6 1494"/><path d="M544.6 1668.3L374.8 1521"/><path d="M544.6 1668.3L301.9 1513.4"/><path d="M560.8 1670.5L537.1 1377.3"/><path d="M560.8 1670.5L516.6 1494"/><path d="M560.8 1670.5L374.8 1521"/><path d="M547.2 1688.3L516.6 1494"/><path d="M547.2 1688.3L374.8 1521"/><path d="M547.2 1688.3L301.9 1513.4"/><path d="M596 1677L537.1 1377.3"/><path d="M596 1677L516.6 1494"/><path d="M596 1677L374.8 1521"/><path d="M602 1684L537.1 1377.3"/><path d="M602 1684L516.6 1494"/><path d="M602 1684L374.8 1521"/><path d="M591.2 1685.2L537.1 1377.3"/><path d="M591.2 1685.2L516.6 1494"/><path d="M591.2 1685.2L374.8 1521"/><path d="M582.5 1691.7L537.1 1377.3"/><path d="M582.5 1691.7L516.6 1494"/><path d="M582.5 1691.7L374.8 1521"/><path d="M575.6 1698.2L537.1 1377.3"/><path d="M575.6 1698.2L516.6 1494"/><path d="M575.6 1698.2L374.8 1521"/><path d="M566.3 1699.8L516.6 1494"/><path d="M566.3 1699.8L374.8 1521"/><path d="M566.3 1699.8L301.9 1513.4"/><path d="M455.8 1609.4L516.6 1494"/><path d="M455.8 1609.4L374.8 1521"/><path d="M455.8 1609.4L301.9 1513.4"/><path d="M472.7 1626.1L516.6 1494"/><path d="M472.7 1626.1L374.8 1521"/><path d="M472.7 1626.1L301.9 1513.4"/><path d="M480.2 1610.9L516.6 1494"/><path d="M480.2 1610.9L374.8 1521"/><path d="M480.2 1610.9L301.9 1513.4"/><path d="M488.9 1605.5L516.6 1494"/><path d="M488.9 1605.5L374.8 1521"/><path d="M498 1612L516.6 1494"/><path d="M498 1612L374.8 1521"/><path d="M504.5 1621.3L516.6 1494"/><path d="M504.5 1621.3L374.8 1521"/><path d="M492.6 1627.2L516.6 1494"/><path d="M492.6 1627.2L374.8 1521"/><path d="M492.6 1627.2L301.9 1513.4"/><path d="M428.7 1615.3L516.6 1494"/><path d="M428.7 1615.3L374.8 1521"/><path d="M428.7 1615.3L301.9 1513.4"/><path d="M422.2 1634.8L516.6 1494"/><path d="M422.2 1634.8L374.8 1521"/><path d="M422.2 1634.8L301.9 1513.4"/><path d="M469.8 1646.7L516.6 1494"/><path d="M469.8 1646.7L374.8 1521"/><path d="M469.8 1646.7L301.9 1513.4"/><path d="M475.3 1639.1L516.6 1494"/><path d="M475.3 1639.1L374.8 1521"/><path d="M475.3 1639.1L301.9 1513.4"/><path d="M485.7 1644.1L516.6 1494"/><path d="M485.7 1644.1L374.8 1521"/><path d="M485.7 1644.1L301.9 1513.4"/><path d="M465.5 1656.4L516.6 1494"/><path d="M465.5 1656.4L374.8 1521"/><path d="M465.5 1656.4L301.9 1513.4"/><path d="M481.8 1673.3L516.6 1494"/><path d="M481.8 1673.3L374.8 1521"/><path d="M481.8 1673.3L301.9 1513.4"/><path d="M501.3 1669L516.6 1494"/><path d="M501.3 1669L374.8 1521"/><path d="M501.3 1669L301.9 1513.4"/><path d="M512.1 1672.2L516.6 1494"/><path d="M512.1 1672.2L374.8 1521"/><path d="M512.1 1672.2L301.9 1513.4"/><path d="M520.8 1666.2L516.6 1494"/><path d="M520.8 1666.2L374.8 1521"/><path d="M520.8 1666.2L301.9 1513.4"/><path d="M518.6 1660.8L516.6 1494"/><path d="M518.6 1660.8L374.8 1521"/><path d="M518.6 1660.8L301.9 1513.4"/><path d="M507.8 1695L516.6 1494"/><path d="M507.8 1695L374.8 1521"/><path d="M507.8 1695L301.9 1513.4"/><path d="M499.1 1700.8L516.6 1494"/><path d="M499.1 1700.8L374.8 1521"/><path d="M499.1 1700.8L301.9 1513.4"/><path d="M487.2 1696.5L516.6 1494"/><path d="M487.2 1696.5L374.8 1521"/><path d="M487.2 1696.5L301.9 1513.4"/><path d="M477.4 1701.9L516.6 1494"/><path d="M477.4 1701.9L374.8 1521"/><path d="M477.4 1701.9L301.9 1513.4"/><path d="M489.3 1710.6L516.6 1494"/><path d="M489.3 1710.6L374.8 1521"/><path d="M489.3 1710.6L301.9 1513.4"/><path d="M496.9 1708.4L516.6 1494"/><path d="M496.9 1708.4L374.8 1521"/><path d="M496.9 1708.4L301.9 1513.4"/><path d="M472 1713.8L516.6 1494"/><path d="M472 1713.8L374.8 1521"/><path d="M472 1713.8L301.9 1513.4"/><path d="M465.5 1716L516.6 1494"/><path d="M465.5 1716L374.8 1521"/><path d="M465.5 1716L301.9 1513.4"/><path d="M459 1714.9L516.6 1494"/><path d="M459 1714.9L374.8 1521"/><path d="M459 1714.9L301.9 1513.4"/>
</g>
<rect x="310.4" y="243.4" width="42.6" height="42.6" fill="#fff" stroke="#F1B42C" stroke-width="4.7"/><text x="331.7" y="274.6" fill="#F1B42C" font-family="Liberation Sans" font-size="30" text-anchor="middle">I</text>
<rect x="517.7" y="315.4" width="42.6" height="42.6" fill="#fff" stroke="#F1B42C" stroke-width="4.7"/><text x="539" y="346.6" fill="#F1B42C" font-family="Liberation Sans" font-size="30" text-anchor="middle">IV</text>
<rect x="164.9" y="470.1" width="42.6" height="42.6" fill="#fff" stroke="#4BB2B9" stroke-width="4.7"/><text x="186.2" y="501.3" fill="#4BB2B9" font-family="Liberation Sans" font-size="30" text-anchor="middle">V</text>
<rect x="596.9" y="487" width="42.6" height="42.6" fill="#fff" stroke="#F1B42C" stroke-width="4.7"/><text x="618.2" y="518.2" fill="#F1B42C" font-family="Liberation Sans" font-size="30" text-anchor="middle">III</text>
<rect x="409" y="619.8" width="42.6" height="42.6" fill="#fff" stroke="#4BB2B9" stroke-width="4.7"/><text x="430.3" y="651" fill="#4BB2B9" font-family="Liberation Sans" font-size="30" text-anchor="middle">II</text>
<rect x="314.9" y="1215.7" width="42.6" height="42.6" fill="#fff" stroke="#4BB2B9" stroke-width="4.7"/><text x="336.2" y="1246.9" fill="#4BB2B9" font-family="Liberation Sans" font-size="30" text-anchor="middle">III</text>
<rect x="515.8" y="1356" width="42.6" height="42.6" fill="#fff" stroke="#F1B42C" stroke-width="4.7"/><text x="537.1" y="1387.2" fill="#F1B42C" font-family="Liberation Sans" font-size="30" text-anchor="middle">I</text>
<rect x="280.6" y="1492.1" width="42.6" height="42.6" fill="#fff" stroke="#F1B42C" stroke-width="4.7"/><text x="301.9" y="1523.3" fill="#F1B42C" font-family="Liberation Sans" font-size="30" text-anchor="middle">IV</text>
<rect x="353.5" y="1499.7" width="42.6" height="42.6" fill="#fff" stroke="#F1B42C" stroke-width="4.7"/><text x="374.8" y="1530.9" fill="#F1B42C" font-family="Liberation Sans" font-size="30" text-anchor="middle">V</text>
<rect x="495.3" y="1472.7" width="42.6" height="42.6" fill="#fff" stroke="#F1B42C" stroke-width="4.7"/><text x="516.6" y="1503.9" fill="#F1B42C" font-family="Liberation Sans" font-size="30" text-anchor="middle">II</text>
<circle cx="297.7" cy="51.7" r="6.9" fill="#F1B42C"/><circle cx="315.7" cy="50" r="6.9" fill="#F1B42C"/><circle cx="328.3" cy="52.3" r="6.9" fill="#F1B42C"/><circle cx="341.7" cy="50.7" r="6.9" fill="#F1B42C"/><circle cx="357.3" cy="57.3" r="6.9" fill="#F1B42C"/><circle cx="372.7" cy="64" r="6.9" fill="#F1B42C"/><circle cx="385" cy="77.7" r="6.9" fill="#F1B42C"/><circle cx="381.7" cy="90.7" r="6.9" fill="#F1B42C"/><circle cx="392.3" cy="94.3" r="6.9" fill="#F1B42C"/><circle cx="279" cy="56" r="6.9" fill="#F1B42C"/><circle cx="287.3" cy="61.7" r="6.9" fill="#F1B42C"/><circle cx="306.7" cy="63.3" r="6.9" fill="#F1B42C"/><circle cx="345" cy="63.3" r="6.9" fill="#F1B42C"/><circle cx="360" cy="70.7" r="6.9" fill="#F1B42C"/><circle cx="325.7" cy="72.3" r="6.9" fill="#F1B42C"/><circle cx="303.3" cy="80" r="6.9" fill="#F1B42C"/><circle cx="266.7" cy="62.7" r="6.9" fill="#F1B42C"/><circle cx="274.3" cy="75" r="6.9" fill="#F1B42C"/><circle cx="248.3" cy="73.3" r="6.9" fill="#F1B42C"/><circle cx="256" cy="73.3" r="6.9" fill="#F1B42C"/><circle cx="236" cy="79" r="6.9" fill="#F1B42C"/><circle cx="240" cy="88.3" r="6.9" fill="#F1B42C"/><circle cx="214.3" cy="101.7" r="6.9" fill="#F1B42C"/><circle cx="224" cy="101.7" r="6.9" fill="#F1B42C"/><circle cx="234.3" cy="100" r="6.9" fill="#F1B42C"/><circle cx="249" cy="104" r="6.9" fill="#F1B42C"/><circle cx="256.7" cy="111.7" r="6.9" fill="#F1B42C"/><circle cx="266" cy="106.7" r="6.9" fill="#F1B42C"/><circle cx="291" cy="95.7" r="6.9" fill="#F1B42C"/><circle cx="301.7" cy="96.7" r="6.9" fill="#F1B42C"/><circle cx="308.3" cy="102.3" r="6.9" fill="#F1B42C"/><circle cx="355.7" cy="92.7" r="6.9" fill="#F1B42C"/><circle cx="210" cy="116.7" r="6.9" fill="#F1B42C"/><circle cx="198.3" cy="124" r="6.9" fill="#F1B42C"/><circle cx="204" cy="131" r="6.9" fill="#F1B42C"/><circle cx="241" cy="124.3" r="6.9" fill="#F1B42C"/><circle cx="330" cy="124" r="6.9" fill="#F1B42C"/><circle cx="371" cy="119" r="6.9" fill="#F1B42C"/><circle cx="360" cy="128.3" r="6.9" fill="#F1B42C"/><circle cx="371.7" cy="130.7" r="6.9" fill="#F1B42C"/><circle cx="191.7" cy="140" r="6.9" fill="#F1B42C"/><circle cx="206.7" cy="146.7" r="6.9" fill="#F1B42C"/><circle cx="226" cy="142.3" r="6.9" fill="#F1B42C"/><circle cx="238.7" cy="136.7" r="6.9" fill="#F1B42C"/><circle cx="292.7" cy="141.7" r="6.9" fill="#F1B42C"/><circle cx="304.3" cy="134" r="6.9" fill="#F1B42C"/><circle cx="352.3" cy="146.7" r="6.9" fill="#F1B42C"/><circle cx="185.3" cy="154.3" r="6.9" fill="#F1B42C"/><circle cx="176.7" cy="163.3" r="6.9" fill="#F1B42C"/><circle cx="183.3" cy="166.7" r="6.9" fill="#F1B42C"/><circle cx="200" cy="167.7" r="6.9" fill="#F1B42C"/><circle cx="190.3" cy="175.7" r="6.9" fill="#F1B42C"/><circle cx="226.7" cy="160" r="6.9" fill="#F1B42C"/><circle cx="175" cy="180" r="6.9" fill="#F1B42C"/><circle cx="290" cy="175" r="6.9" fill="#F1B42C"/><circle cx="310" cy="170.7" r="6.9" fill="#F1B42C"/><circle cx="333.3" cy="167.3" r="6.9" fill="#F1B42C"/><circle cx="345" cy="167.3" r="6.9" fill="#F1B42C"/><circle cx="301.7" cy="185.3" r="6.9" fill="#F1B42C"/><circle cx="257.3" cy="183.3" r="6.9" fill="#F1B42C"/><circle cx="281" cy="191" r="6.9" fill="#F1B42C"/><circle cx="232.3" cy="190.7" r="6.9" fill="#F1B42C"/><circle cx="167.7" cy="202.3" r="6.9" fill="#F1B42C"/><circle cx="176.7" cy="205" r="6.9" fill="#F1B42C"/><circle cx="245.3" cy="202.7" r="6.9" fill="#F1B42C"/><circle cx="233.3" cy="211.7" r="6.9" fill="#F1B42C"/><circle cx="281" cy="209" r="6.9" fill="#F1B42C"/><circle cx="263.3" cy="218.3" r="6.9" fill="#F1B42C"/><circle cx="174.3" cy="220" r="6.9" fill="#F1B42C"/><circle cx="166.7" cy="226.7" r="6.9" fill="#F1B42C"/><circle cx="180" cy="232.3" r="6.9" fill="#F1B42C"/><circle cx="249" cy="232.7" r="6.9" fill="#F1B42C"/><circle cx="171" cy="240" r="6.9" fill="#F1B42C"/><circle cx="236.7" cy="245.7" r="6.9" fill="#F1B42C"/><circle cx="250" cy="251.7" r="6.9" fill="#F1B42C"/><circle cx="178.3" cy="256" r="6.9" fill="#F1B42C"/><circle cx="175.7" cy="265" r="6.9" fill="#F1B42C"/><circle cx="190" cy="263.3" r="6.9" fill="#F1B42C"/><circle cx="217" cy="257.7" r="6.9" fill="#F1B42C"/><circle cx="236.7" cy="262.7" r="6.9" fill="#F1B42C"/><circle cx="448.3" cy="190" r="6.9" fill="#F1B42C"/><circle cx="443.3" cy="196.7" r="6.9" fill="#F1B42C"/><circle cx="441.7" cy="203.3" r="6.9" fill="#F1B42C"/><circle cx="429" cy="212.3" r="6.9" fill="#F1B42C"/><circle cx="418.3" cy="225.7" r="6.9" fill="#F1B42C"/><circle cx="415.7" cy="232.3" r="6.9" fill="#F1B42C"/><circle cx="456" cy="229.3" r="6.9" fill="#F1B42C"/><circle cx="414" cy="245.7" r="6.9" fill="#F1B42C"/><circle cx="440.7" cy="243.3" r="6.9" fill="#F1B42C"/><circle cx="458.3" cy="245" r="6.9" fill="#F1B42C"/><circle cx="407.3" cy="260" r="6.9" fill="#F1B42C"/><circle cx="439.3" cy="261" r="6.9" fill="#F1B42C"/><circle cx="419.3" cy="274" r="6.9" fill="#F1B42C"/><circle cx="452.7" cy="271" r="6.9" fill="#AEAEAE"/><circle cx="433.3" cy="282.3" r="6.9" fill="#AEAEAE"/><circle cx="543.3" cy="116.7" r="6.9" fill="#4BB2B9"/><circle cx="665" cy="182.7" r="6.9" fill="#4BB2B9"/><circle cx="682.7" cy="206.7" r="6.9" fill="#4BB2B9"/><circle cx="528.3" cy="121.7" r="6.9" fill="#F1B42C"/><circle cx="552.7" cy="122.7" r="6.9" fill="#F1B42C"/><circle cx="562.3" cy="120" r="6.9" fill="#F1B42C"/><circle cx="567.7" cy="124.3" r="6.9" fill="#F1B42C"/><circle cx="574" cy="120" r="6.9" fill="#F1B42C"/><circle cx="584.3" cy="120.7" r="6.9" fill="#F1B42C"/><circle cx="596.7" cy="122.7" r="6.9" fill="#F1B42C"/><circle cx="512.3" cy="130" r="6.9" fill="#F1B42C"/><circle cx="501.7" cy="140" r="6.9" fill="#F1B42C"/><circle cx="519.3" cy="139" r="6.9" fill="#F1B42C"/><circle cx="506.7" cy="144" r="6.9" fill="#F1B42C"/><circle cx="497.7" cy="151.7" r="6.9" fill="#F1B42C"/><circle cx="564" cy="141" r="6.9" fill="#F1B42C"/><circle cx="610" cy="128.3" r="6.9" fill="#F1B42C"/><circle cx="621.7" cy="134.3" r="6.9" fill="#F1B42C"/><circle cx="613.3" cy="139.3" r="6.9" fill="#F1B42C"/><circle cx="623.3" cy="145" r="6.9" fill="#F1B42C"/><circle cx="635" cy="144" r="6.9" fill="#F1B42C"/><circle cx="644.3" cy="151.7" r="6.9" fill="#F1B42C"/><circle cx="501.7" cy="162.3" r="6.9" fill="#F1B42C"/><circle cx="513.3" cy="160" r="6.9" fill="#F1B42C"/><circle cx="549" cy="156.7" r="6.9" fill="#F1B42C"/><circle cx="567.7" cy="159" r="6.9" fill="#F1B42C"/><circle cx="561" cy="166" r="6.9" fill="#F1B42C"/><circle cx="592.7" cy="161.7" r="6.9" fill="#F1B42C"/><circle cx="606.7" cy="155.7" r="6.9" fill="#F1B42C"/><circle cx="622.3" cy="164.3" r="6.9" fill="#F1B42C"/><circle cx="646.7" cy="161.7" r="6.9" fill="#F1B42C"/><circle cx="657.7" cy="166" r="6.9" fill="#F1B42C"/><circle cx="668.3" cy="175.7" r="6.9" fill="#F1B42C"/><circle cx="572.3" cy="176.7" r="6.9" fill="#F1B42C"/><circle cx="613.3" cy="180.7" r="6.9" fill="#F1B42C"/><circle cx="676.7" cy="189" r="6.9" fill="#F1B42C"/><circle cx="672.7" cy="196" r="6.9" fill="#F1B42C"/><circle cx="515" cy="197.7" r="6.9" fill="#F1B42C"/><circle cx="529" cy="195.7" r="6.9" fill="#F1B42C"/><circle cx="555" cy="201.7" r="6.9" fill="#F1B42C"/><circle cx="623.3" cy="204" r="6.9" fill="#F1B42C"/><circle cx="630.7" cy="199.3" r="6.9" fill="#F1B42C"/><circle cx="646.7" cy="201" r="6.9" fill="#F1B42C"/><circle cx="637.3" cy="212.3" r="6.9" fill="#F1B42C"/><circle cx="690" cy="216.7" r="6.9" fill="#F1B42C"/><circle cx="581" cy="225.7" r="6.9" fill="#F1B42C"/><circle cx="613.3" cy="229" r="6.9" fill="#F1B42C"/><circle cx="655" cy="229" r="6.9" fill="#F1B42C"/><circle cx="669" cy="222.7" r="6.9" fill="#F1B42C"/><circle cx="682.7" cy="235.7" r="6.9" fill="#F1B42C"/><circle cx="692.7" cy="229.3" r="6.9" fill="#F1B42C"/><circle cx="698.3" cy="235" r="6.9" fill="#F1B42C"/><circle cx="605" cy="247.7" r="6.9" fill="#F1B42C"/><circle cx="697.7" cy="249.3" r="6.9" fill="#F1B42C"/><circle cx="630.7" cy="257.3" r="6.9" fill="#F1B42C"/><circle cx="637.3" cy="267.7" r="6.9" fill="#F1B42C"/><circle cx="646.7" cy="272.7" r="6.9" fill="#F1B42C"/><circle cx="678.3" cy="264" r="6.9" fill="#F1B42C"/><circle cx="701.7" cy="261.7" r="6.9" fill="#F1B42C"/><circle cx="707.7" cy="277.3" r="6.9" fill="#F1B42C"/><circle cx="693.3" cy="280" r="6.9" fill="#F1B42C"/><circle cx="682.7" cy="284" r="6.9" fill="#F1B42C"/><circle cx="701.7" cy="285" r="6.9" fill="#F1B42C"/><circle cx="706" cy="293.3" r="6.9" fill="#F1B42C"/><circle cx="535" cy="221" r="6.9" fill="#AEAEAE"/><circle cx="569" cy="229.3" r="6.9" fill="#AEAEAE"/><circle cx="550" cy="240.7" r="6.9" fill="#AEAEAE"/><circle cx="560.7" cy="244" r="6.9" fill="#AEAEAE"/><circle cx="579" cy="257.3" r="6.9" fill="#AEAEAE"/><circle cx="603.3" cy="266.7" r="6.9" fill="#AEAEAE"/><circle cx="227.3" cy="338.3" r="6.9" fill="#AEAEAE"/><circle cx="239.3" cy="340" r="6.9" fill="#AEAEAE"/><circle cx="249.3" cy="346" r="6.9" fill="#AEAEAE"/><circle cx="204.3" cy="347.3" r="6.9" fill="#AEAEAE"/><circle cx="205.7" cy="354.3" r="6.9" fill="#AEAEAE"/><circle cx="211" cy="366" r="6.9" fill="#AEAEAE"/><circle cx="236" cy="363.3" r="6.9" fill="#AEAEAE"/><circle cx="232.7" cy="374.3" r="6.9" fill="#AEAEAE"/><circle cx="241.7" cy="375" r="6.9" fill="#AEAEAE"/><circle cx="333.3" cy="380" r="6.9" fill="#AEAEAE"/><circle cx="352.3" cy="394" r="6.9" fill="#AEAEAE"/><circle cx="365" cy="391.7" r="6.9" fill="#AEAEAE"/><circle cx="364" cy="420.7" r="6.9" fill="#AEAEAE"/><circle cx="355" cy="432.7" r="6.9" fill="#AEAEAE"/><circle cx="344.3" cy="432.7" r="6.9" fill="#F1B42C"/><circle cx="363.3" cy="432.7" r="6.9" fill="#F1B42C"/><circle cx="391.7" cy="438.3" r="6.9" fill="#AEAEAE"/><circle cx="316" cy="444.3" r="6.9" fill="#AEAEAE"/><circle cx="322.3" cy="454" r="6.9" fill="#AEAEAE"/><circle cx="356.7" cy="455" r="6.9" fill="#AEAEAE"/><circle cx="353.3" cy="465.7" r="6.9" fill="#AEAEAE"/><circle cx="371" cy="481.7" r="6.9" fill="#AEAEAE"/><circle cx="395" cy="510.7" r="6.9" fill="#AEAEAE"/><circle cx="396" cy="527.3" r="6.9" fill="#AEAEAE"/><circle cx="278.3" cy="572.7" r="6.9" fill="#4BB2B9"/><circle cx="293.3" cy="574.3" r="6.9" fill="#4BB2B9"/><circle cx="268.3" cy="584" r="6.9" fill="#4BB2B9"/><circle cx="306" cy="589.3" r="6.9" fill="#4BB2B9"/><circle cx="293.3" cy="596.7" r="6.9" fill="#AEAEAE"/><circle cx="268.3" cy="600" r="6.9" fill="#4BB2B9"/><circle cx="7.5" cy="466.5" r="6.9" fill="#F1B42C"/><circle cx="21.6" cy="478.4" r="6.9" fill="#4BB2B9"/><circle cx="21.6" cy="509.4" r="6.9" fill="#4BB2B9"/><circle cx="20.2" cy="525.5" r="6.9" fill="#4BB2B9"/><circle cx="31" cy="521.5" r="6.9" fill="#4BB2B9"/><circle cx="33.7" cy="491.9" r="6.9" fill="#4BB2B9"/><circle cx="24" cy="545" r="6.9" fill="#4BB2B9"/><circle cx="63" cy="397.5" r="6.9" fill="#4BB2B9"/><circle cx="68" cy="401" r="6.9" fill="#4BB2B9"/><circle cx="86.8" cy="399.5" r="6.9" fill="#4BB2B9"/><circle cx="84.5" cy="411.8" r="6.9" fill="#4BB2B9"/><circle cx="79.3" cy="425.8" r="6.9" fill="#4BB2B9"/><circle cx="37.8" cy="413" r="6.9" fill="#4BB2B9"/><circle cx="35.5" cy="421.5" r="6.9" fill="#4BB2B9"/><circle cx="26.5" cy="421" r="6.9" fill="#4BB2B9"/><circle cx="55" cy="427.8" r="6.9" fill="#4BB2B9"/><circle cx="63.5" cy="439" r="6.9" fill="#4BB2B9"/><circle cx="66" cy="454" r="6.9" fill="#4BB2B9"/><circle cx="24.5" cy="431.5" r="6.9" fill="#4BB2B9"/><circle cx="20.5" cy="434.5" r="6.9" fill="#4BB2B9"/><circle cx="29" cy="442.5" r="6.9" fill="#4BB2B9"/><circle cx="21" cy="441" r="6.9" fill="#4BB2B9"/><circle cx="14.5" cy="449" r="6.9" fill="#4BB2B9"/><circle cx="31" cy="454.5" r="6.9" fill="#4BB2B9"/><circle cx="14.5" cy="456" r="6.9" fill="#4BB2B9"/><circle cx="51" cy="463" r="6.9" fill="#4BB2B9"/><circle cx="53.5" cy="473.5" r="6.9" fill="#4BB2B9"/><circle cx="59.8" cy="483" r="6.9" fill="#4BB2B9"/><circle cx="48" cy="487.5" r="6.9" fill="#4BB2B9"/><circle cx="15.5" cy="469.5" r="6.9" fill="#4BB2B9"/><circle cx="27.5" cy="464.5" r="6.9" fill="#4BB2B9"/><circle cx="30.5" cy="472.5" r="6.9" fill="#4BB2B9"/><circle cx="8" cy="485" r="6.9" fill="#4BB2B9"/><circle cx="19" cy="484" r="6.9" fill="#4BB2B9"/><circle cx="32" cy="488" r="6.9" fill="#4BB2B9"/><circle cx="6" cy="498.5" r="6.9" fill="#4BB2B9"/><circle cx="17" cy="497" r="6.9" fill="#4BB2B9"/><circle cx="29" cy="500" r="6.9" fill="#4BB2B9"/><circle cx="14" cy="508" r="6.9" fill="#4BB2B9"/><circle cx="28" cy="508" r="6.9" fill="#4BB2B9"/><circle cx="45.5" cy="511" r="6.9" fill="#4BB2B9"/><circle cx="60.8" cy="519" r="6.9" fill="#4BB2B9"/><circle cx="9.5" cy="518" r="6.9" fill="#4BB2B9"/><circle cx="20" cy="517" r="6.9" fill="#4BB2B9"/><circle cx="30" cy="517" r="6.9" fill="#4BB2B9"/><circle cx="37.5" cy="526.5" r="6.9" fill="#4BB2B9"/><circle cx="11.5" cy="531" r="6.9" fill="#4BB2B9"/><circle cx="24" cy="532" r="6.9" fill="#4BB2B9"/><circle cx="16" cy="539" r="6.9" fill="#4BB2B9"/><circle cx="30" cy="538" r="6.9" fill="#4BB2B9"/><circle cx="41.5" cy="541" r="6.9" fill="#4BB2B9"/><circle cx="16" cy="554.5" r="6.9" fill="#4BB2B9"/><circle cx="26" cy="546" r="6.9" fill="#4BB2B9"/><circle cx="46" cy="553" r="6.9" fill="#4BB2B9"/><circle cx="33" cy="559" r="6.9" fill="#4BB2B9"/><circle cx="26.8" cy="561.8" r="6.9" fill="#F1B42C"/><circle cx="66.5" cy="560" r="6.9" fill="#4BB2B9"/><circle cx="33" cy="570" r="6.9" fill="#4BB2B9"/><circle cx="31" cy="580" r="6.9" fill="#4BB2B9"/><circle cx="52.5" cy="584.5" r="6.9" fill="#4BB2B9"/><circle cx="38" cy="588.5" r="6.9" fill="#4BB2B9"/><circle cx="45" cy="595" r="6.9" fill="#4BB2B9"/><circle cx="86" cy="597" r="6.9" fill="#4BB2B9"/><circle cx="99" cy="596" r="6.9" fill="#4BB2B9"/><circle cx="52" cy="605" r="6.9" fill="#4BB2B9"/><circle cx="49.5" cy="614.2" r="6.9" fill="#4BB2B9"/><circle cx="124.7" cy="612.2" r="6.9" fill="#AEAEAE"/><circle cx="59.2" cy="625.8" r="6.9" fill="#4BB2B9"/><circle cx="68.7" cy="632.8" r="6.9" fill="#4BB2B9"/><circle cx="77" cy="638.3" r="6.9" fill="#4BB2B9"/><circle cx="88.3" cy="647.8" r="6.9" fill="#4BB2B9"/><circle cx="121.2" cy="631.3" r="6.9" fill="#4BB2B9"/><circle cx="104.2" cy="651.3" r="6.9" fill="#4BB2B9"/><circle cx="111.3" cy="660" r="6.9" fill="#4BB2B9"/><circle cx="445.7" cy="345.7" r="6.9" fill="#F1B42C"/><circle cx="456.7" cy="346.7" r="6.9" fill="#F1B42C"/><circle cx="461" cy="360" r="6.9" fill="#F1B42C"/><circle cx="470.7" cy="358.3" r="6.9" fill="#F1B42C"/><circle cx="483.3" cy="361" r="6.9" fill="#F1B42C"/><circle cx="487.3" cy="350" r="6.9" fill="#F1B42C"/><circle cx="490.7" cy="345" r="6.9" fill="#F1B42C"/><circle cx="504" cy="380.7" r="6.9" fill="#AEAEAE"/><circle cx="500" cy="388.3" r="6.9" fill="#AEAEAE"/><circle cx="410" cy="401" r="6.9" fill="#AEAEAE"/><circle cx="444.3" cy="417.3" r="6.9" fill="#AEAEAE"/><circle cx="471.7" cy="426.7" r="6.9" fill="#AEAEAE"/><circle cx="468.3" cy="431" r="6.9" fill="#AEAEAE"/><circle cx="435.7" cy="439.3" r="6.9" fill="#AEAEAE"/><circle cx="483.3" cy="450" r="6.9" fill="#AEAEAE"/><circle cx="481" cy="455.7" r="6.9" fill="#AEAEAE"/><circle cx="426.7" cy="464" r="6.9" fill="#AEAEAE"/><circle cx="435" cy="463.3" r="6.9" fill="#AEAEAE"/><circle cx="441.7" cy="471.7" r="6.9" fill="#4BB2B9"/><circle cx="442.7" cy="487.7" r="6.9" fill="#4BB2B9"/><circle cx="438.3" cy="480" r="6.9" fill="#F1B42C"/><circle cx="451.7" cy="474.3" r="6.9" fill="#AEAEAE"/><circle cx="449.3" cy="482.7" r="6.9" fill="#AEAEAE"/><circle cx="461" cy="482.3" r="6.9" fill="#AEAEAE"/><circle cx="433.3" cy="498.3" r="6.9" fill="#AEAEAE"/><circle cx="487.3" cy="475.7" r="6.9" fill="#AEAEAE"/><circle cx="499.3" cy="469.3" r="6.9" fill="#F1B42C"/><circle cx="488.3" cy="492.7" r="6.9" fill="#AEAEAE"/><circle cx="463.3" cy="497.7" r="6.9" fill="#AEAEAE"/><circle cx="476" cy="501" r="6.9" fill="#AEAEAE"/><circle cx="478.3" cy="510" r="6.9" fill="#AEAEAE"/><circle cx="488.3" cy="510" r="6.9" fill="#AEAEAE"/><circle cx="476.7" cy="520.7" r="6.9" fill="#AEAEAE"/><circle cx="488.3" cy="523.3" r="6.9" fill="#AEAEAE"/><circle cx="482.7" cy="534.3" r="6.9" fill="#F1B42C"/><circle cx="509.3" cy="489" r="6.9" fill="#AEAEAE"/><circle cx="530" cy="476.7" r="6.9" fill="#AEAEAE"/><circle cx="539.3" cy="481.7" r="6.9" fill="#F1B42C"/><circle cx="523.3" cy="487.7" r="6.9" fill="#AEAEAE"/><circle cx="535" cy="491.7" r="6.9" fill="#AEAEAE"/><circle cx="539.3" cy="499.3" r="6.9" fill="#AEAEAE"/><circle cx="515" cy="507.3" r="6.9" fill="#AEAEAE"/><circle cx="526.7" cy="510" r="6.9" fill="#AEAEAE"/><circle cx="541.7" cy="517.3" r="6.9" fill="#AEAEAE"/><circle cx="531.7" cy="520" r="6.9" fill="#AEAEAE"/><circle cx="523.3" cy="528.3" r="6.9" fill="#AEAEAE"/><circle cx="530" cy="534.3" r="6.9" fill="#AEAEAE"/><circle cx="539.3" cy="530.7" r="6.9" fill="#F1B42C"/><circle cx="621" cy="345" r="6.9" fill="#F1B42C"/><circle cx="632.3" cy="344" r="6.9" fill="#F1B42C"/><circle cx="604" cy="361.7" r="6.9" fill="#AEAEAE"/><circle cx="597.7" cy="369" r="6.9" fill="#AEAEAE"/><circle cx="625" cy="361.7" r="6.9" fill="#AEAEAE"/><circle cx="625" cy="370.7" r="6.9" fill="#AEAEAE"/><circle cx="639.3" cy="375" r="6.9" fill="#F1B42C"/><circle cx="591.7" cy="390" r="6.9" fill="#AEAEAE"/><circle cx="589" cy="406" r="6.9" fill="#AEAEAE"/><circle cx="605.7" cy="403.3" r="6.9" fill="#AEAEAE"/><circle cx="594.3" cy="413.3" r="6.9" fill="#AEAEAE"/><circle cx="599" cy="407.3" r="6.9" fill="#AEAEAE"/><circle cx="626.7" cy="400" r="6.9" fill="#F1B42C"/><circle cx="622.7" cy="411" r="6.9" fill="#AEAEAE"/><circle cx="629" cy="419.3" r="6.9" fill="#F1B42C"/><circle cx="655.7" cy="396" r="6.9" fill="#F1B42C"/><circle cx="664.3" cy="351" r="6.9" fill="#F1B42C"/><circle cx="671.7" cy="348.3" r="6.9" fill="#F1B42C"/><circle cx="680" cy="356.7" r="6.9" fill="#F1B42C"/><circle cx="690" cy="360" r="6.9" fill="#F1B42C"/><circle cx="671.7" cy="365.7" r="6.9" fill="#F1B42C"/><circle cx="693.3" cy="370" r="6.9" fill="#F1B42C"/><circle cx="696.7" cy="380" r="6.9" fill="#F1B42C"/><circle cx="688.3" cy="386.7" r="6.9" fill="#F1B42C"/><circle cx="695" cy="387" r="6.9" fill="#F1B42C"/><circle cx="686.7" cy="399.3" r="6.9" fill="#F1B42C"/><circle cx="679.3" cy="407.3" r="6.9" fill="#F1B42C"/><circle cx="676.7" cy="416" r="6.9" fill="#F1B42C"/><circle cx="661.7" cy="419" r="6.9" fill="#F1B42C"/><circle cx="666.7" cy="423.3" r="6.9" fill="#F1B42C"/><circle cx="770.6" cy="450.3" r="6.9" fill="#F1B42C"/><circle cx="780.3" cy="449.4" r="6.9" fill="#F1B42C"/><circle cx="773.8" cy="466.3" r="6.9" fill="#F1B42C"/><circle cx="785.6" cy="464.8" r="6.9" fill="#F1B42C"/><circle cx="754" cy="477.3" r="6.9" fill="#F1B42C"/><circle cx="778.8" cy="476.9" r="6.9" fill="#F1B42C"/><circle cx="780.6" cy="485" r="6.9" fill="#F1B42C"/><circle cx="789.4" cy="490.6" r="6.9" fill="#F1B42C"/><circle cx="749.4" cy="490" r="6.9" fill="#F1B42C"/><circle cx="754" cy="497.9" r="6.9" fill="#F1B42C"/><circle cx="774.4" cy="498.8" r="6.9" fill="#F1B42C"/><circle cx="790" cy="502.5" r="6.9" fill="#F1B42C"/><circle cx="801.3" cy="504.4" r="6.9" fill="#F1B42C"/><circle cx="788.8" cy="510.6" r="6.9" fill="#F1B42C"/><circle cx="746.9" cy="512.9" r="6.9" fill="#F1B42C"/><circle cx="750.6" cy="522.5" r="6.9" fill="#F1B42C"/><circle cx="780.6" cy="516.3" r="6.9" fill="#F1B42C"/><circle cx="771.3" cy="523.1" r="6.9" fill="#F1B42C"/><circle cx="783.1" cy="522.8" r="6.9" fill="#F1B42C"/><circle cx="793.1" cy="525" r="6.9" fill="#F1B42C"/><circle cx="768.8" cy="535" r="6.9" fill="#F1B42C"/><circle cx="800" cy="535" r="6.9" fill="#F1B42C"/><circle cx="785" cy="530" r="6.9" fill="#F1B42C"/><circle cx="790" cy="540" r="6.9" fill="#F1B42C"/><circle cx="778.8" cy="541.9" r="6.9" fill="#F1B42C"/><circle cx="742.5" cy="551.3" r="6.9" fill="#F1B42C"/><circle cx="763.8" cy="551.9" r="6.9" fill="#F1B42C"/><circle cx="772.5" cy="548.8" r="6.9" fill="#F1B42C"/><circle cx="785" cy="550" r="6.9" fill="#F1B42C"/><circle cx="795.6" cy="556.9" r="6.9" fill="#F1B42C"/><circle cx="763.5" cy="561.9" r="6.9" fill="#F1B42C"/><circle cx="783.1" cy="560.6" r="6.9" fill="#F1B42C"/><circle cx="790" cy="568.8" r="6.9" fill="#F1B42C"/><circle cx="781.3" cy="567.5" r="6.9" fill="#F1B42C"/><circle cx="768.8" cy="573.8" r="6.9" fill="#F1B42C"/><circle cx="780" cy="575" r="6.9" fill="#F1B42C"/><circle cx="733.8" cy="581" r="6.9" fill="#F1B42C"/><circle cx="786.3" cy="578.8" r="6.9" fill="#F1B42C"/><circle cx="768.8" cy="581.3" r="6.9" fill="#F1B42C"/><circle cx="773.8" cy="591.3" r="6.9" fill="#F1B42C"/><circle cx="785.6" cy="593.1" r="6.9" fill="#F1B42C"/><circle cx="730" cy="594.4" r="6.9" fill="#F1B42C"/><circle cx="755.6" cy="592.5" r="6.9" fill="#F1B42C"/><circle cx="761.3" cy="605" r="6.9" fill="#F1B42C"/><circle cx="770" cy="606.3" r="6.9" fill="#F1B42C"/><circle cx="776.3" cy="607.5" r="6.9" fill="#F1B42C"/><circle cx="780" cy="613.8" r="6.9" fill="#F1B42C"/><circle cx="775.6" cy="622.5" r="6.9" fill="#F1B42C"/><circle cx="763.1" cy="621.3" r="6.9" fill="#F1B42C"/><circle cx="747.5" cy="616.9" r="6.9" fill="#F1B42C"/><circle cx="767.3" cy="634.4" r="6.9" fill="#F1B42C"/><circle cx="731.9" cy="629.4" r="6.9" fill="#F1B42C"/><circle cx="749.4" cy="636.3" r="6.9" fill="#F1B42C"/><circle cx="758.8" cy="645.6" r="6.9" fill="#F1B42C"/><circle cx="729.1" cy="644.4" r="6.9" fill="#F1B42C"/><circle cx="745.6" cy="650" r="6.9" fill="#F1B42C"/><circle cx="738.4" cy="661" r="6.9" fill="#F1B42C"/><circle cx="729.4" cy="668.8" r="6.9" fill="#F1B42C"/><circle cx="720" cy="676.3" r="6.9" fill="#F1B42C"/><circle cx="706.3" cy="661" r="6.9" fill="#F1B42C"/><circle cx="699.4" cy="674" r="6.9" fill="#F1B42C"/><circle cx="685.6" cy="680.3" r="6.9" fill="#F1B42C"/><circle cx="706.3" cy="685.6" r="6.9" fill="#F1B42C"/><circle cx="688.5" cy="692.5" r="6.9" fill="#F1B42C"/><circle cx="262.7" cy="610" r="6.9" fill="#4BB2B9"/><circle cx="296.7" cy="614" r="6.9" fill="#4BB2B9"/><circle cx="260" cy="618.3" r="6.9" fill="#4BB2B9"/><circle cx="257.3" cy="625" r="6.9" fill="#4BB2B9"/><circle cx="266.7" cy="637.3" r="6.9" fill="#4BB2B9"/><circle cx="263.3" cy="644.3" r="6.9" fill="#4BB2B9"/><circle cx="543.3" cy="606.7" r="6.9" fill="#AEAEAE"/><circle cx="536" cy="616.7" r="6.9" fill="#AEAEAE"/><circle cx="563.3" cy="606.7" r="6.9" fill="#AEAEAE"/><circle cx="526.7" cy="632.7" r="6.9" fill="#AEAEAE"/><circle cx="532.7" cy="640" r="6.9" fill="#AEAEAE"/><circle cx="531.7" cy="647.3" r="6.9" fill="#AEAEAE"/><circle cx="569.3" cy="636" r="6.9" fill="#AEAEAE"/><circle cx="560" cy="656.7" r="6.9" fill="#AEAEAE"/><circle cx="568.3" cy="660" r="6.9" fill="#AEAEAE"/><circle cx="554" cy="664" r="6.9" fill="#AEAEAE"/><circle cx="565" cy="666" r="6.9" fill="#AEAEAE"/><circle cx="574.3" cy="680.7" r="6.9" fill="#F1B42C"/><circle cx="327.7" cy="685.7" r="6.9" fill="#F1B42C"/><circle cx="347.3" cy="683.3" r="6.9" fill="#4BB2B9"/><circle cx="310" cy="694" r="6.9" fill="#F1B42C"/><circle cx="322.3" cy="696.7" r="6.9" fill="#4BB2B9"/><circle cx="348.3" cy="705" r="6.9" fill="#F1B42C"/><circle cx="376" cy="701" r="6.9" fill="#AEAEAE"/><circle cx="303.3" cy="711.7" r="6.9" fill="#4BB2B9"/><circle cx="314" cy="713.3" r="6.9" fill="#4BB2B9"/><circle cx="321.7" cy="724" r="6.9" fill="#4BB2B9"/><circle cx="318.3" cy="734.3" r="6.9" fill="#4BB2B9"/><circle cx="325.6" cy="741.9" r="6.9" fill="#4BB2B9"/><circle cx="284.8" cy="740.6" r="6.9" fill="#4BB2B9"/><circle cx="351.7" cy="740.7" r="6.9" fill="#4BB2B9"/><circle cx="391.7" cy="725" r="6.9" fill="#4BB2B9"/><circle cx="392.7" cy="735" r="6.9" fill="#4BB2B9"/><circle cx="418.3" cy="743.3" r="6.9" fill="#4BB2B9"/><circle cx="367.7" cy="746" r="6.9" fill="#4BB2B9"/><circle cx="287.9" cy="753.1" r="6.9" fill="#4BB2B9"/><circle cx="291.3" cy="763.5" r="6.9" fill="#4BB2B9"/><circle cx="294.4" cy="774.8" r="6.9" fill="#F1B42C"/><circle cx="305" cy="785" r="6.9" fill="#4BB2B9"/><circle cx="306" cy="797.9" r="6.9" fill="#4BB2B9"/><circle cx="317.9" cy="802.5" r="6.9" fill="#F1B42C"/><circle cx="322.3" cy="812.5" r="6.9" fill="#4BB2B9"/><circle cx="333.1" cy="811.9" r="6.9" fill="#4BB2B9"/><circle cx="341.9" cy="812.5" r="6.9" fill="#4BB2B9"/><circle cx="344.4" cy="820.6" r="6.9" fill="#4BB2B9"/><circle cx="355" cy="822.5" r="6.9" fill="#4BB2B9"/><circle cx="357.5" cy="825" r="6.9" fill="#4BB2B9"/><circle cx="369.4" cy="828.1" r="6.9" fill="#4BB2B9"/><circle cx="372.5" cy="818.8" r="6.9" fill="#4BB2B9"/><circle cx="375.6" cy="810.6" r="6.9" fill="#4BB2B9"/><circle cx="380.6" cy="823.1" r="6.9" fill="#4BB2B9"/><circle cx="384.4" cy="833.1" r="6.9" fill="#4BB2B9"/><circle cx="393.1" cy="828.8" r="6.9" fill="#4BB2B9"/><circle cx="401.9" cy="826.9" r="6.9" fill="#4BB2B9"/><circle cx="406.3" cy="835.6" r="6.9" fill="#4BB2B9"/><circle cx="414.4" cy="831.3" r="6.9" fill="#4BB2B9"/><circle cx="416.9" cy="842.5" r="6.9" fill="#4BB2B9"/><circle cx="412.5" cy="818.1" r="6.9" fill="#4BB2B9"/><circle cx="417.5" cy="802.5" r="6.9" fill="#4BB2B9"/><circle cx="343.8" cy="758.5" r="6.9" fill="#4BB2B9"/><circle cx="330" cy="765" r="6.9" fill="#4BB2B9"/><circle cx="365" cy="760" r="6.9" fill="#4BB2B9"/><circle cx="352.5" cy="776.9" r="6.9" fill="#4BB2B9"/><circle cx="368.1" cy="775" r="6.9" fill="#4BB2B9"/><circle cx="376.9" cy="779.4" r="6.9" fill="#4BB2B9"/><circle cx="366" cy="789.1" r="6.9" fill="#4BB2B9"/><circle cx="389.4" cy="768.8" r="6.9" fill="#4BB2B9"/><circle cx="405" cy="760" r="6.9" fill="#4BB2B9"/><circle cx="411.9" cy="771.3" r="6.9" fill="#4BB2B9"/><circle cx="435.3" cy="774" r="6.9" fill="#4BB2B9"/><circle cx="447.3" cy="771.3" r="6.9" fill="#4BB2B9"/><circle cx="452.4" cy="763.3" r="6.9" fill="#4BB2B9"/><circle cx="478" cy="756" r="6.9" fill="#4BB2B9"/><circle cx="480" cy="769.3" r="6.9" fill="#4BB2B9"/><circle cx="502.4" cy="758" r="6.9" fill="#4BB2B9"/><circle cx="513.3" cy="750" r="6.9" fill="#4BB2B9"/><circle cx="522" cy="757.3" r="6.9" fill="#4BB2B9"/><circle cx="538.3" cy="753.3" r="6.9" fill="#4BB2B9"/><circle cx="555.3" cy="761" r="6.9" fill="#4BB2B9"/><circle cx="537.3" cy="769.7" r="6.9" fill="#4BB2B9"/><circle cx="550" cy="771.3" r="6.9" fill="#4BB2B9"/><circle cx="554.7" cy="782" r="6.9" fill="#4BB2B9"/><circle cx="536" cy="785.3" r="6.9" fill="#4BB2B9"/><circle cx="543.3" cy="788.7" r="6.9" fill="#4BB2B9"/><circle cx="552.7" cy="792.7" r="6.9" fill="#4BB2B9"/><circle cx="482.7" cy="788" r="6.9" fill="#4BB2B9"/><circle cx="488" cy="797.3" r="6.9" fill="#4BB2B9"/><circle cx="542" cy="802.7" r="6.9" fill="#4BB2B9"/><circle cx="425.3" cy="800.7" r="6.9" fill="#4BB2B9"/><circle cx="427" cy="811.3" r="6.9" fill="#4BB2B9"/><circle cx="442" cy="813.3" r="6.9" fill="#4BB2B9"/><circle cx="452.4" cy="808.7" r="6.9" fill="#F1B42C"/><circle cx="451.6" cy="821.7" r="6.9" fill="#F1B42C"/><circle cx="439" cy="824.7" r="6.9" fill="#4BB2B9"/><circle cx="429.7" cy="833.7" r="6.9" fill="#4BB2B9"/><circle cx="415.3" cy="833.3" r="6.9" fill="#4BB2B9"/><circle cx="455.3" cy="844" r="6.9" fill="#4BB2B9"/><circle cx="448.7" cy="835.3" r="6.9" fill="#4BB2B9"/><circle cx="463.3" cy="836.7" r="6.9" fill="#4BB2B9"/><circle cx="466" cy="814" r="6.9" fill="#4BB2B9"/><circle cx="472" cy="813.7" r="6.9" fill="#4BB2B9"/><circle cx="482.7" cy="818.7" r="6.9" fill="#F1B42C"/><circle cx="486" cy="810.7" r="6.9" fill="#4BB2B9"/><circle cx="494.7" cy="814.7" r="6.9" fill="#4BB2B9"/><circle cx="478" cy="829.3" r="6.9" fill="#4BB2B9"/><circle cx="488.7" cy="826" r="6.9" fill="#4BB2B9"/><circle cx="496.7" cy="834" r="6.9" fill="#4BB2B9"/><circle cx="481.3" cy="841.3" r="6.9" fill="#4BB2B9"/><circle cx="505" cy="825.3" r="6.9" fill="#F1B42C"/><circle cx="508.7" cy="832" r="6.9" fill="#4BB2B9"/><circle cx="515.3" cy="823.3" r="6.9" fill="#4BB2B9"/><circle cx="522" cy="812" r="6.9" fill="#4BB2B9"/><circle cx="531.3" cy="819.3" r="6.9" fill="#4BB2B9"/><circle cx="535.3" cy="813.3" r="6.9" fill="#4BB2B9"/>
<circle cx="269.3" cy="997.2" r="6.9" fill="#4BB2B9"/><circle cx="284.5" cy="997.2" r="6.9" fill="#4BB2B9"/><circle cx="294.5" cy="996.7" r="6.9" fill="#4BB2B9"/><circle cx="271.7" cy="1008.8" r="6.9" fill="#4BB2B9"/><circle cx="282.2" cy="1010.5" r="6.9" fill="#4BB2B9"/><circle cx="277.5" cy="1003" r="6.9" fill="#4BB2B9"/><circle cx="312.5" cy="992.5" r="6.9" fill="#4BB2B9"/><circle cx="321.8" cy="992.5" r="6.9" fill="#4BB2B9"/><circle cx="318.3" cy="1003" r="6.9" fill="#4BB2B9"/><circle cx="326.5" cy="997.2" r="6.9" fill="#4BB2B9"/><circle cx="246" cy="1003.5" r="6.9" fill="#4BB2B9"/><circle cx="233.2" cy="1009.5" r="6.9" fill="#4BB2B9"/><circle cx="220.3" cy="1008.1" r="6.9" fill="#4BB2B9"/><circle cx="245.3" cy="1019.3" r="6.9" fill="#4BB2B9"/><circle cx="229.2" cy="1024.5" r="6.9" fill="#4BB2B9"/><circle cx="214" cy="1024" r="6.9" fill="#4BB2B9"/><circle cx="204" cy="1018.2" r="6.9" fill="#4BB2B9"/><circle cx="190" cy="1025.2" r="6.9" fill="#4BB2B9"/><circle cx="197" cy="1035.7" r="6.9" fill="#4BB2B9"/><circle cx="187.7" cy="1042.2" r="6.9" fill="#4BB2B9"/><circle cx="166.7" cy="1036.1" r="6.9" fill="#4BB2B9"/><circle cx="174.8" cy="1037.5" r="6.9" fill="#4BB2B9"/><circle cx="175.5" cy="1047.3" r="6.9" fill="#4BB2B9"/><circle cx="153.8" cy="1049.2" r="6.9" fill="#4BB2B9"/><circle cx="163.9" cy="1055" r="6.9" fill="#4BB2B9"/><circle cx="144" cy="1056.7" r="6.9" fill="#4BB2B9"/><circle cx="132.4" cy="1062" r="6.9" fill="#4BB2B9"/><circle cx="144.5" cy="1070.7" r="6.9" fill="#4BB2B9"/><circle cx="135.2" cy="1075.3" r="6.9" fill="#4BB2B9"/><circle cx="116.5" cy="1077.7" r="6.9" fill="#4BB2B9"/><circle cx="120" cy="1087" r="6.9" fill="#4BB2B9"/><circle cx="128.6" cy="1085.8" r="6.9" fill="#4BB2B9"/><circle cx="107.2" cy="1095.2" r="6.9" fill="#4BB2B9"/><circle cx="108.3" cy="1102.9" r="6.9" fill="#4BB2B9"/><circle cx="95.5" cy="1102.9" r="6.9" fill="#4BB2B9"/><circle cx="108.3" cy="1110.3" r="6.9" fill="#4BB2B9"/><circle cx="90.1" cy="1117.3" r="6.9" fill="#4BB2B9"/><circle cx="103.7" cy="1125.5" r="6.9" fill="#4BB2B9"/><circle cx="81.5" cy="1129.7" r="6.9" fill="#4BB2B9"/><circle cx="233.2" cy="1050.1" r="6.9" fill="#4BB2B9"/><circle cx="232" cy="1060.2" r="6.9" fill="#4BB2B9"/><circle cx="257.7" cy="1052" r="6.9" fill="#4BB2B9"/><circle cx="277.5" cy="1042.7" r="6.9" fill="#4BB2B9"/><circle cx="275.2" cy="1051.5" r="6.9" fill="#4BB2B9"/><circle cx="288" cy="1049.2" r="6.9" fill="#4BB2B9"/><circle cx="304.3" cy="1043.4" r="6.9" fill="#4BB2B9"/><circle cx="310.2" cy="1037.5" r="6.9" fill="#4BB2B9"/><circle cx="325.3" cy="1040.3" r="6.9" fill="#4BB2B9"/><circle cx="323" cy="1057.8" r="6.9" fill="#4BB2B9"/><circle cx="215.2" cy="1067.2" r="6.9" fill="#4BB2B9"/><circle cx="201.7" cy="1076" r="6.9" fill="#4BB2B9"/><circle cx="255.3" cy="1073.7" r="6.9" fill="#4BB2B9"/><circle cx="272.8" cy="1073" r="6.9" fill="#4BB2B9"/><circle cx="288" cy="1081.2" r="6.9" fill="#4BB2B9"/><circle cx="226.6" cy="1083.5" r="6.9" fill="#4BB2B9"/><circle cx="229.7" cy="1095.9" r="6.9" fill="#4BB2B9"/><circle cx="251.1" cy="1090.5" r="6.9" fill="#4BB2B9"/><circle cx="265.8" cy="1101" r="6.9" fill="#4BB2B9"/><circle cx="270.5" cy="1111.5" r="6.9" fill="#4BB2B9"/><circle cx="294.5" cy="1101" r="6.9" fill="#4BB2B9"/><circle cx="307.8" cy="1095.9" r="6.9" fill="#4BB2B9"/><circle cx="320.7" cy="1093.3" r="6.9" fill="#4BB2B9"/><circle cx="327.7" cy="1109.9" r="6.9" fill="#4BB2B9"/><circle cx="177.2" cy="1087" r="6.9" fill="#4BB2B9"/><circle cx="184.2" cy="1089.3" r="6.9" fill="#4BB2B9"/><circle cx="173" cy="1096.3" r="6.9" fill="#4BB2B9"/><circle cx="161.3" cy="1102.2" r="6.9" fill="#4BB2B9"/><circle cx="201.7" cy="1101" r="6.9" fill="#4BB2B9"/><circle cx="194" cy="1112.7" r="6.9" fill="#4BB2B9"/><circle cx="189.3" cy="1122" r="6.9" fill="#4BB2B9"/><circle cx="173.7" cy="1120.8" r="6.9" fill="#4BB2B9"/><circle cx="217.3" cy="1117.3" r="6.9" fill="#4BB2B9"/><circle cx="236.2" cy="1124.3" r="6.9" fill="#4BB2B9"/><circle cx="278.2" cy="1130.2" r="6.9" fill="#4BB2B9"/><circle cx="302" cy="1131.8" r="6.9" fill="#4BB2B9"/><circle cx="139.8" cy="1131.3" r="6.9" fill="#4BB2B9"/><circle cx="164.3" cy="1133.2" r="6.9" fill="#4BB2B9"/><circle cx="260" cy="1133.7" r="6.9" fill="#4BB2B9"/><circle cx="334.8" cy="1004.9" r="6.9" fill="#4BB2B9"/><circle cx="342.5" cy="993.2" r="6.9" fill="#4BB2B9"/><circle cx="354.7" cy="994.8" r="6.9" fill="#4BB2B9"/><circle cx="367.5" cy="997.6" r="6.9" fill="#4BB2B9"/><circle cx="380.3" cy="993.2" r="6.9" fill="#4BB2B9"/><circle cx="383.8" cy="1003.7" r="6.9" fill="#4BB2B9"/><circle cx="347.7" cy="1011.9" r="6.9" fill="#4BB2B9"/><circle cx="368.7" cy="1011.9" r="6.9" fill="#4BB2B9"/><circle cx="380.3" cy="1017.7" r="6.9" fill="#4BB2B9"/><circle cx="400.2" cy="998.3" r="6.9" fill="#4BB2B9"/><circle cx="409.5" cy="1001.1" r="6.9" fill="#4BB2B9"/><circle cx="417.7" cy="1004.9" r="6.9" fill="#4BB2B9"/><circle cx="423.5" cy="1015.8" r="6.9" fill="#4BB2B9"/><circle cx="432.8" cy="1012.3" r="6.9" fill="#4BB2B9"/><circle cx="442.9" cy="1008.8" r="6.9" fill="#4BB2B9"/><circle cx="447.3" cy="1018.2" r="6.9" fill="#4BB2B9"/><circle cx="448" cy="1032.9" r="6.9" fill="#4BB2B9"/><circle cx="462" cy="1021" r="6.9" fill="#4BB2B9"/><circle cx="470.2" cy="1025.2" r="6.9" fill="#4BB2B9"/><circle cx="479.5" cy="1030.3" r="6.9" fill="#4BB2B9"/><circle cx="492.3" cy="1035.7" r="6.9" fill="#4BB2B9"/><circle cx="500.5" cy="1044.5" r="6.9" fill="#4BB2B9"/><circle cx="466.7" cy="1041.5" r="6.9" fill="#4BB2B9"/><circle cx="480.7" cy="1054.3" r="6.9" fill="#4BB2B9"/><circle cx="488.1" cy="1051.5" r="6.9" fill="#4BB2B9"/><circle cx="514" cy="1057.1" r="6.9" fill="#4BB2B9"/><circle cx="500.5" cy="1065.5" r="6.9" fill="#4BB2B9"/><circle cx="514" cy="1073" r="6.9" fill="#4BB2B9"/><circle cx="527.3" cy="1069.5" r="6.9" fill="#4BB2B9"/><circle cx="541.3" cy="1085.8" r="6.9" fill="#4BB2B9"/><circle cx="523.8" cy="1090.5" r="6.9" fill="#4BB2B9"/><circle cx="538.5" cy="1095.2" r="6.9" fill="#4BB2B9"/><circle cx="549.5" cy="1104.5" r="6.9" fill="#4BB2B9"/><circle cx="543.2" cy="1111.5" r="6.9" fill="#4BB2B9"/><circle cx="494.7" cy="1099.4" r="6.9" fill="#4BB2B9"/><circle cx="506.3" cy="1115" r="6.9" fill="#4BB2B9"/><circle cx="517.5" cy="1117.8" r="6.9" fill="#4BB2B9"/><circle cx="480" cy="1119.7" r="6.9" fill="#4BB2B9"/><circle cx="462" cy="1073" r="6.9" fill="#4BB2B9"/><circle cx="455" cy="1101" r="6.9" fill="#4BB2B9"/><circle cx="441.7" cy="1063.2" r="6.9" fill="#4BB2B9"/><circle cx="429.3" cy="1057.1" r="6.9" fill="#4BB2B9"/><circle cx="420" cy="1051.5" r="6.9" fill="#4BB2B9"/><circle cx="409" cy="1046.2" r="6.9" fill="#4BB2B9"/><circle cx="388.5" cy="1044.3" r="6.9" fill="#4BB2B9"/><circle cx="368.7" cy="1039.9" r="6.9" fill="#4BB2B9"/><circle cx="376.4" cy="1060.9" r="6.9" fill="#4BB2B9"/><circle cx="362.8" cy="1054.3" r="6.9" fill="#4BB2B9"/><circle cx="352.3" cy="1058.5" r="6.9" fill="#4BB2B9"/><circle cx="338.3" cy="1056.7" r="6.9" fill="#4BB2B9"/><circle cx="339" cy="1037.5" r="6.9" fill="#4BB2B9"/><circle cx="411.1" cy="1071.4" r="6.9" fill="#4BB2B9"/><circle cx="399" cy="1083" r="6.9" fill="#4BB2B9"/><circle cx="382.2" cy="1090.5" r="6.9" fill="#4BB2B9"/><circle cx="429.3" cy="1087" r="6.9" fill="#4BB2B9"/><circle cx="431.2" cy="1097" r="6.9" fill="#4BB2B9"/><circle cx="345.3" cy="1097" r="6.9" fill="#4BB2B9"/><circle cx="358.6" cy="1108.5" r="6.9" fill="#4BB2B9"/><circle cx="370.5" cy="1109.2" r="6.9" fill="#4BB2B9"/><circle cx="392.7" cy="1108" r="6.9" fill="#4BB2B9"/><circle cx="371" cy="1123.2" r="6.9" fill="#4BB2B9"/><circle cx="406" cy="1120.8" r="6.9" fill="#4BB2B9"/><circle cx="341.1" cy="1127.4" r="6.9" fill="#4BB2B9"/><circle cx="423.5" cy="1127.8" r="6.9" fill="#4BB2B9"/><circle cx="441" cy="1114.5" r="6.9" fill="#4BB2B9"/><circle cx="443.3" cy="1125.5" r="6.9" fill="#4BB2B9"/><circle cx="456.2" cy="1130.2" r="6.9" fill="#4BB2B9"/><circle cx="467.8" cy="1131.8" r="6.9" fill="#4BB2B9"/><circle cx="399" cy="1133.2" r="6.9" fill="#4BB2B9"/><circle cx="94.3" cy="1139.8" r="6.9" fill="#4BB2B9"/><circle cx="76.4" cy="1145.7" r="6.9" fill="#4BB2B9"/><circle cx="74.5" cy="1156.2" r="6.9" fill="#4BB2B9"/><circle cx="91.5" cy="1156.2" r="6.9" fill="#4BB2B9"/><circle cx="78" cy="1164.3" r="6.9" fill="#4BB2B9"/><circle cx="73.3" cy="1175.3" r="6.9" fill="#4BB2B9"/><circle cx="69.4" cy="1186.5" r="6.9" fill="#4BB2B9"/><circle cx="73.3" cy="1193.5" r="6.9" fill="#4BB2B9"/><circle cx="73.3" cy="1202.1" r="6.9" fill="#4BB2B9"/><circle cx="148.5" cy="1139.8" r="6.9" fill="#4BB2B9"/><circle cx="130.5" cy="1148.7" r="6.9" fill="#4BB2B9"/><circle cx="128.9" cy="1160.1" r="6.9" fill="#4BB2B9"/><circle cx="121.2" cy="1170.2" r="6.9" fill="#4BB2B9"/><circle cx="150.3" cy="1179" r="6.9" fill="#4BB2B9"/><circle cx="143.3" cy="1184.9" r="6.9" fill="#4BB2B9"/><circle cx="117.7" cy="1190.5" r="6.9" fill="#4BB2B9"/><circle cx="116" cy="1199.3" r="6.9" fill="#4BB2B9"/><circle cx="113.5" cy="1208.7" r="6.9" fill="#4BB2B9"/><circle cx="101.3" cy="1208.2" r="6.9" fill="#4BB2B9"/><circle cx="103.2" cy="1214.5" r="6.9" fill="#4BB2B9"/><circle cx="181.8" cy="1151" r="6.9" fill="#4BB2B9"/><circle cx="191.2" cy="1145.7" r="6.9" fill="#4BB2B9"/><circle cx="179.5" cy="1164.3" r="6.9" fill="#4BB2B9"/><circle cx="171.3" cy="1178.3" r="6.9" fill="#4BB2B9"/><circle cx="216.8" cy="1156.2" r="6.9" fill="#4BB2B9"/><circle cx="233.6" cy="1150.3" r="6.9" fill="#4BB2B9"/><circle cx="260.7" cy="1138" r="6.9" fill="#4BB2B9"/><circle cx="523.7" cy="1180" r="6.9" fill="#4BB2B9"/><circle cx="555.9" cy="1175.8" r="6.9" fill="#4BB2B9"/><circle cx="513.9" cy="1199.4" r="6.9" fill="#AEAEAE"/><circle cx="539.5" cy="1199.8" r="6.9" fill="#AEAEAE"/><circle cx="548.2" cy="1190.5" r="6.9" fill="#AEAEAE"/><circle cx="561.7" cy="1190.5" r="6.9" fill="#AEAEAE"/><circle cx="570.3" cy="1196.8" r="6.9" fill="#AEAEAE"/><circle cx="557.5" cy="1206.8" r="6.9" fill="#AEAEAE"/><circle cx="572" cy="1207.3" r="6.9" fill="#AEAEAE"/><circle cx="227.9" cy="1293.1" r="6.9" fill="#AEAEAE"/><circle cx="237.7" cy="1291" r="6.9" fill="#AEAEAE"/><circle cx="198" cy="1303.2" r="6.9" fill="#AEAEAE"/><circle cx="205" cy="1300.8" r="6.9" fill="#AEAEAE"/><circle cx="172.3" cy="1311.3" r="6.9" fill="#AEAEAE"/><circle cx="177" cy="1307.8" r="6.9" fill="#AEAEAE"/><circle cx="183.5" cy="1314.1" r="6.9" fill="#AEAEAE"/><circle cx="149" cy="1321.1" r="6.9" fill="#AEAEAE"/><circle cx="157.2" cy="1323.5" r="6.9" fill="#AEAEAE"/><circle cx="139.7" cy="1325.3" r="6.9" fill="#AEAEAE"/><circle cx="132.7" cy="1332.3" r="6.9" fill="#AEAEAE"/><circle cx="142" cy="1336.5" r="6.9" fill="#AEAEAE"/><circle cx="158.3" cy="1335.8" r="6.9" fill="#AEAEAE"/><circle cx="125.7" cy="1341.7" r="6.9" fill="#AEAEAE"/><circle cx="121" cy="1346.3" r="6.9" fill="#AEAEAE"/><circle cx="136.2" cy="1351.5" r="6.9" fill="#AEAEAE"/><circle cx="123.3" cy="1360.3" r="6.9" fill="#AEAEAE"/><circle cx="129.2" cy="1366.2" r="6.9" fill="#AEAEAE"/><circle cx="196.1" cy="1332.8" r="6.9" fill="#AEAEAE"/><circle cx="186.3" cy="1361" r="6.9" fill="#AEAEAE"/><circle cx="201.5" cy="1375.5" r="6.9" fill="#AEAEAE"/><circle cx="156.7" cy="1376" r="6.9" fill="#AEAEAE"/><circle cx="146" cy="1382.5" r="6.9" fill="#AEAEAE"/><circle cx="158.3" cy="1390.7" r="6.9" fill="#AEAEAE"/><circle cx="166.5" cy="1399.5" r="6.9" fill="#AEAEAE"/><circle cx="188.2" cy="1380.2" r="6.9" fill="#AEAEAE"/><circle cx="188.2" cy="1390.7" r="6.9" fill="#AEAEAE"/><circle cx="197.5" cy="1405.8" r="6.9" fill="#AEAEAE"/><circle cx="204.5" cy="1411.2" r="6.9" fill="#AEAEAE"/><circle cx="228.8" cy="1404.7" r="6.9" fill="#AEAEAE"/><circle cx="219" cy="1414" r="6.9" fill="#AEAEAE"/><circle cx="238.8" cy="1323" r="6.9" fill="#AEAEAE"/><circle cx="254.5" cy="1320" r="6.9" fill="#AEAEAE"/><circle cx="256.3" cy="1329.5" r="6.9" fill="#AEAEAE"/><circle cx="242.3" cy="1340.5" r="6.9" fill="#AEAEAE"/><circle cx="229.5" cy="1341.7" r="6.9" fill="#AEAEAE"/><circle cx="234.2" cy="1354" r="6.9" fill="#AEAEAE"/><circle cx="208.5" cy="1355.2" r="6.9" fill="#AEAEAE"/><circle cx="217.8" cy="1349.8" r="6.9" fill="#AEAEAE"/><circle cx="212" cy="1362.7" r="6.9" fill="#AEAEAE"/><circle cx="220.2" cy="1363.8" r="6.9" fill="#AEAEAE"/><circle cx="274.5" cy="1311.3" r="6.9" fill="#AEAEAE"/><circle cx="287.8" cy="1305.5" r="6.9" fill="#AEAEAE"/><circle cx="297.2" cy="1303.9" r="6.9" fill="#AEAEAE"/><circle cx="291.3" cy="1315.5" r="6.9" fill="#AEAEAE"/><circle cx="311.2" cy="1299.7" r="6.9" fill="#AEAEAE"/><circle cx="327.5" cy="1300.8" r="6.9" fill="#AEAEAE"/><circle cx="338" cy="1297.8" r="6.9" fill="#AEAEAE"/><circle cx="363.6" cy="1295.5" r="6.9" fill="#AEAEAE"/><circle cx="290.9" cy="1337.7" r="6.9" fill="#AEAEAE"/><circle cx="274.5" cy="1348.2" r="6.9" fill="#AEAEAE"/><circle cx="273.8" cy="1358" r="6.9" fill="#AEAEAE"/><circle cx="279.7" cy="1363.4" r="6.9" fill="#AEAEAE"/><circle cx="272.2" cy="1368.5" r="6.9" fill="#AEAEAE"/><circle cx="276.2" cy="1377.8" r="6.9" fill="#AEAEAE"/><circle cx="255.2" cy="1382.5" r="6.9" fill="#AEAEAE"/><circle cx="264.5" cy="1381.3" r="6.9" fill="#AEAEAE"/><circle cx="261" cy="1394.2" r="6.9" fill="#AEAEAE"/><circle cx="272.7" cy="1390.7" r="6.9" fill="#AEAEAE"/><circle cx="273.8" cy="1400" r="6.9" fill="#AEAEAE"/><circle cx="262.2" cy="1403.5" r="6.9" fill="#AEAEAE"/><circle cx="278.5" cy="1414" r="6.9" fill="#AEAEAE"/><circle cx="328.2" cy="1347" r="6.9" fill="#AEAEAE"/><circle cx="334.5" cy="1363.8" r="6.9" fill="#AEAEAE"/><circle cx="343.8" cy="1359.9" r="6.9" fill="#AEAEAE"/><circle cx="350.8" cy="1346.3" r="6.9" fill="#AEAEAE"/><circle cx="359" cy="1343.5" r="6.9" fill="#AEAEAE"/><circle cx="371.8" cy="1335.1" r="6.9" fill="#AEAEAE"/><circle cx="376.5" cy="1359.2" r="6.9" fill="#AEAEAE"/><circle cx="348.5" cy="1374.3" r="6.9" fill="#AEAEAE"/><circle cx="352" cy="1379" r="6.9" fill="#AEAEAE"/><circle cx="335.7" cy="1386" r="6.9" fill="#AEAEAE"/><circle cx="340.3" cy="1381.3" r="6.9" fill="#AEAEAE"/><circle cx="319.3" cy="1397.7" r="6.9" fill="#AEAEAE"/><circle cx="328.7" cy="1398.8" r="6.9" fill="#AEAEAE"/><circle cx="340.3" cy="1400" r="6.9" fill="#AEAEAE"/><circle cx="361.3" cy="1394.2" r="6.9" fill="#AEAEAE"/><circle cx="368.3" cy="1387.2" r="6.9" fill="#AEAEAE"/><circle cx="373" cy="1400" r="6.9" fill="#AEAEAE"/><circle cx="345" cy="1411.7" r="6.9" fill="#AEAEAE"/><circle cx="368.3" cy="1409.3" r="6.9" fill="#AEAEAE"/><circle cx="194.7" cy="1412.7" r="6.9" fill="#AEAEAE"/><circle cx="212" cy="1425.3" r="6.9" fill="#AEAEAE"/><circle cx="222.7" cy="1431.3" r="6.9" fill="#AEAEAE"/><circle cx="244.7" cy="1421.3" r="6.9" fill="#AEAEAE"/><circle cx="241.3" cy="1433.3" r="6.9" fill="#AEAEAE"/><circle cx="246.7" cy="1428" r="6.9" fill="#AEAEAE"/><circle cx="399.7" cy="1284.5" r="6.9" fill="#F1B42C"/><circle cx="398" cy="1306.5" r="6.9" fill="#AEAEAE"/><circle cx="448.7" cy="1306.7" r="6.9" fill="#AEAEAE"/><circle cx="462.7" cy="1310.7" r="6.9" fill="#AEAEAE"/><circle cx="473.2" cy="1315.3" r="6.9" fill="#AEAEAE"/><circle cx="398.5" cy="1326.3" r="6.9" fill="#AEAEAE"/><circle cx="410.2" cy="1322.8" r="6.9" fill="#AEAEAE"/><circle cx="419.5" cy="1329.3" r="6.9" fill="#AEAEAE"/><circle cx="427.7" cy="1334" r="6.9" fill="#AEAEAE"/><circle cx="458" cy="1328.9" r="6.9" fill="#AEAEAE"/><circle cx="484.8" cy="1338.2" r="6.9" fill="#AEAEAE"/><circle cx="379.8" cy="1341" r="6.9" fill="#AEAEAE"/><circle cx="458" cy="1352.7" r="6.9" fill="#AEAEAE"/><circle cx="466.2" cy="1352.7" r="6.9" fill="#AEAEAE"/><circle cx="477.8" cy="1352.7" r="6.9" fill="#AEAEAE"/><circle cx="503.5" cy="1352.7" r="6.9" fill="#AEAEAE"/><circle cx="508.2" cy="1362" r="6.9" fill="#AEAEAE"/><circle cx="525.7" cy="1334" r="6.9" fill="#AEAEAE"/><circle cx="469.7" cy="1271" r="6.9" fill="#AEAEAE"/><circle cx="477.8" cy="1271" r="6.9" fill="#AEAEAE"/><circle cx="487.2" cy="1269.8" r="6.9" fill="#AEAEAE"/><circle cx="496.5" cy="1271" r="6.9" fill="#AEAEAE"/><circle cx="505.8" cy="1273.3" r="6.9" fill="#AEAEAE"/><circle cx="527.5" cy="1275.7" r="6.9" fill="#AEAEAE"/><circle cx="501.2" cy="1296.7" r="6.9" fill="#AEAEAE"/><circle cx="514" cy="1297.8" r="6.9" fill="#AEAEAE"/><circle cx="549" cy="1278" r="6.9" fill="#AEAEAE"/><circle cx="556" cy="1274.5" r="6.9" fill="#AEAEAE"/><circle cx="563" cy="1272.2" r="6.9" fill="#AEAEAE"/><circle cx="571.2" cy="1276.8" r="6.9" fill="#AEAEAE"/><circle cx="579.3" cy="1283.8" r="6.9" fill="#AEAEAE"/><circle cx="552.5" cy="1293.2" r="6.9" fill="#AEAEAE"/><circle cx="561.8" cy="1290.1" r="6.9" fill="#AEAEAE"/><circle cx="577" cy="1292" r="6.9" fill="#AEAEAE"/><circle cx="577" cy="1299" r="6.9" fill="#AEAEAE"/><circle cx="566.5" cy="1313.5" r="6.9" fill="#AEAEAE"/><circle cx="563" cy="1323.5" r="6.9" fill="#AEAEAE"/><circle cx="546.7" cy="1346.8" r="6.9" fill="#AEAEAE"/><circle cx="553.7" cy="1344.5" r="6.9" fill="#AEAEAE"/><circle cx="560.2" cy="1348" r="6.9" fill="#AEAEAE"/><circle cx="396.2" cy="1358.5" r="6.9" fill="#AEAEAE"/><circle cx="424.2" cy="1363.2" r="6.9" fill="#AEAEAE"/><circle cx="432.3" cy="1371.3" r="6.9" fill="#AEAEAE"/><circle cx="423" cy="1369" r="6.9" fill="#AEAEAE"/><circle cx="449.8" cy="1366.7" r="6.9" fill="#AEAEAE"/><circle cx="374" cy="1364.3" r="6.9" fill="#AEAEAE"/><circle cx="379.8" cy="1377.2" r="6.9" fill="#AEAEAE"/><circle cx="400.8" cy="1377.2" r="6.9" fill="#AEAEAE"/><circle cx="469.7" cy="1384.2" r="6.9" fill="#AEAEAE"/><circle cx="484.8" cy="1381.8" r="6.9" fill="#AEAEAE"/><circle cx="462.7" cy="1390" r="6.9" fill="#AEAEAE"/><circle cx="476.7" cy="1398.2" r="6.9" fill="#AEAEAE"/><circle cx="388" cy="1394.7" r="6.9" fill="#AEAEAE"/><circle cx="406.7" cy="1390" r="6.9" fill="#AEAEAE"/><circle cx="417.2" cy="1390" r="6.9" fill="#AEAEAE"/><circle cx="399.7" cy="1401.7" r="6.9" fill="#AEAEAE"/><circle cx="413.7" cy="1401.7" r="6.9" fill="#AEAEAE"/><circle cx="462.7" cy="1404" r="6.9" fill="#AEAEAE"/><circle cx="347.9" cy="1377.3" r="6.9" fill="#AEAEAE"/><circle cx="321.3" cy="1397.5" r="6.9" fill="#AEAEAE"/><circle cx="336.9" cy="1401.2" r="6.9" fill="#AEAEAE"/><circle cx="345.1" cy="1423.2" r="6.9" fill="#AEAEAE"/><circle cx="323.1" cy="1425" r="6.9" fill="#AEAEAE"/><circle cx="333.2" cy="1428.7" r="6.9" fill="#AEAEAE"/><circle cx="302.9" cy="1423.2" r="6.9" fill="#AEAEAE"/><circle cx="311.2" cy="1435.1" r="6.9" fill="#AEAEAE"/><circle cx="321.3" cy="1442.5" r="6.9" fill="#AEAEAE"/><circle cx="310.3" cy="1443.4" r="6.9" fill="#AEAEAE"/><circle cx="337.8" cy="1445.2" r="6.9" fill="#AEAEAE"/><circle cx="351.6" cy="1450.7" r="6.9" fill="#AEAEAE"/><circle cx="364.4" cy="1448.9" r="6.9" fill="#AEAEAE"/><circle cx="353.4" cy="1439.7" r="6.9" fill="#AEAEAE"/><circle cx="360.7" cy="1392" r="6.9" fill="#AEAEAE"/><circle cx="373.6" cy="1395.7" r="6.9" fill="#AEAEAE"/><circle cx="368.1" cy="1406.7" r="6.9" fill="#AEAEAE"/><circle cx="386.4" cy="1392" r="6.9" fill="#AEAEAE"/><circle cx="381.8" cy="1404.9" r="6.9" fill="#AEAEAE"/><circle cx="391.9" cy="1401.2" r="6.9" fill="#AEAEAE"/><circle cx="417.6" cy="1392" r="6.9" fill="#AEAEAE"/><circle cx="408.4" cy="1406.7" r="6.9" fill="#AEAEAE"/><circle cx="419.4" cy="1406.7" r="6.9" fill="#AEAEAE"/><circle cx="401.1" cy="1417.7" r="6.9" fill="#AEAEAE"/><circle cx="408.4" cy="1425" r="6.9" fill="#AEAEAE"/><circle cx="421.3" cy="1425" r="6.9" fill="#AEAEAE"/><circle cx="390.1" cy="1430.6" r="6.9" fill="#AEAEAE"/><circle cx="397.4" cy="1439.7" r="6.9" fill="#AEAEAE"/><circle cx="401.1" cy="1448.9" r="6.9" fill="#AEAEAE"/><circle cx="412.1" cy="1437.9" r="6.9" fill="#AEAEAE"/><circle cx="432.3" cy="1430.6" r="6.9" fill="#AEAEAE"/><circle cx="441.5" cy="1428.7" r="6.9" fill="#AEAEAE"/><circle cx="454.3" cy="1419.5" r="6.9" fill="#AEAEAE"/><circle cx="461.7" cy="1406.7" r="6.9" fill="#AEAEAE"/><circle cx="476.3" cy="1401.2" r="6.9" fill="#AEAEAE"/><circle cx="467.2" cy="1386.5" r="6.9" fill="#AEAEAE"/><circle cx="426.8" cy="1371.8" r="6.9" fill="#AEAEAE"/><circle cx="449.7" cy="1371.8" r="6.9" fill="#AEAEAE"/><circle cx="281" cy="1377.3" r="6.9" fill="#AEAEAE"/><circle cx="281" cy="1414" r="6.9" fill="#AEAEAE"/><circle cx="380" cy="1420" r="6.9" fill="#AEAEAE"/><circle cx="430" cy="1410" r="6.9" fill="#AEAEAE"/><circle cx="440" cy="1395" r="6.9" fill="#AEAEAE"/><circle cx="360" cy="1430" r="6.9" fill="#AEAEAE"/><circle cx="375" cy="1440" r="6.9" fill="#AEAEAE"/><circle cx="728" cy="1278.6" r="6.9" fill="#AEAEAE"/><circle cx="739.6" cy="1297" r="6.9" fill="#AEAEAE"/><circle cx="333" cy="1386" r="6.9" fill="#AEAEAE"/><circle cx="328.5" cy="1403.3" r="6.9" fill="#AEAEAE"/><circle cx="349.5" cy="1449" r="6.9" fill="#AEAEAE"/><circle cx="357" cy="1392" r="6.9" fill="#AEAEAE"/><circle cx="366" cy="1387.5" r="6.9" fill="#AEAEAE"/><circle cx="370.5" cy="1405.5" r="6.9" fill="#AEAEAE"/><circle cx="375" cy="1335" r="6.9" fill="#AEAEAE"/><circle cx="379.5" cy="1374" r="6.9" fill="#AEAEAE"/><circle cx="387" cy="1404" r="6.9" fill="#AEAEAE"/><circle cx="421.5" cy="1330.5" r="6.9" fill="#AEAEAE"/><circle cx="414" cy="1404" r="6.9" fill="#AEAEAE"/><circle cx="402" cy="1404" r="6.9" fill="#AEAEAE"/><circle cx="475.5" cy="1353" r="6.9" fill="#AEAEAE"/><circle cx="465" cy="1386" r="6.9" fill="#AEAEAE"/><circle cx="459" cy="1410" r="6.9" fill="#AEAEAE"/><circle cx="438" cy="1422" r="6.9" fill="#AEAEAE"/><circle cx="441" cy="1432.5" r="6.9" fill="#AEAEAE"/><circle cx="429" cy="1429.5" r="6.9" fill="#AEAEAE"/><circle cx="420" cy="1419" r="6.9" fill="#AEAEAE"/><circle cx="405" cy="1416" r="6.9" fill="#AEAEAE"/><circle cx="388.5" cy="1428" r="6.9" fill="#AEAEAE"/><circle cx="393" cy="1437" r="6.9" fill="#AEAEAE"/><circle cx="405" cy="1434" r="6.9" fill="#AEAEAE"/><circle cx="375" cy="1410" r="6.9" fill="#AEAEAE"/><circle cx="313" cy="1392" r="6.9" fill="#AEAEAE"/><circle cx="345" cy="1392" r="6.9" fill="#AEAEAE"/><circle cx="313" cy="1408" r="6.9" fill="#AEAEAE"/><circle cx="321" cy="1408" r="6.9" fill="#AEAEAE"/><circle cx="387" cy="1384" r="6.9" fill="#AEAEAE"/><circle cx="395" cy="1384" r="6.9" fill="#AEAEAE"/><circle cx="403" cy="1384" r="6.9" fill="#AEAEAE"/><circle cx="411" cy="1384" r="6.9" fill="#AEAEAE"/><circle cx="427" cy="1384" r="6.9" fill="#AEAEAE"/><circle cx="435" cy="1384" r="6.9" fill="#AEAEAE"/><circle cx="443" cy="1384" r="6.9" fill="#AEAEAE"/><circle cx="395" cy="1392" r="6.9" fill="#AEAEAE"/><circle cx="427" cy="1392" r="6.9" fill="#AEAEAE"/><circle cx="427" cy="1400" r="6.9" fill="#AEAEAE"/><circle cx="435" cy="1400" r="6.9" fill="#AEAEAE"/><circle cx="395" cy="1408" r="6.9" fill="#AEAEAE"/><circle cx="443" cy="1408" r="6.9" fill="#AEAEAE"/><circle cx="363" cy="1416" r="6.9" fill="#AEAEAE"/><circle cx="371" cy="1416" r="6.9" fill="#AEAEAE"/><circle cx="387" cy="1416" r="6.9" fill="#AEAEAE"/><circle cx="443" cy="1416" r="6.9" fill="#AEAEAE"/><circle cx="371" cy="1424" r="6.9" fill="#AEAEAE"/><circle cx="395" cy="1424" r="6.9" fill="#AEAEAE"/><circle cx="371" cy="1432" r="6.9" fill="#AEAEAE"/><circle cx="379" cy="1432" r="6.9" fill="#AEAEAE"/><circle cx="419" cy="1432" r="6.9" fill="#AEAEAE"/><circle cx="382" cy="1441" r="6.9" fill="#AEAEAE"/><circle cx="382" cy="1449" r="6.9" fill="#AEAEAE"/><circle cx="390" cy="1449" r="6.9" fill="#AEAEAE"/><circle cx="414" cy="1449" r="6.9" fill="#AEAEAE"/><circle cx="450" cy="1395" r="6.9" fill="#AEAEAE"/><circle cx="450" cy="1403" r="6.9" fill="#AEAEAE"/><circle cx="450" cy="1411" r="6.9" fill="#AEAEAE"/><circle cx="466" cy="1419" r="6.9" fill="#AEAEAE"/><circle cx="330" cy="1437" r="6.9" fill="#AEAEAE"/><circle cx="338" cy="1437" r="6.9" fill="#AEAEAE"/><circle cx="346" cy="1437" r="6.9" fill="#AEAEAE"/><circle cx="362" cy="1437" r="6.9" fill="#AEAEAE"/><circle cx="330" cy="1445" r="6.9" fill="#AEAEAE"/><circle cx="330" cy="1453" r="6.9" fill="#AEAEAE"/><circle cx="338" cy="1453" r="6.9" fill="#AEAEAE"/><circle cx="746.6" cy="1253.4" r="6.9" fill="#F1B42C"/><circle cx="759.6" cy="1263.4" r="6.9" fill="#F1B42C"/><circle cx="763.6" cy="1277.4" r="6.9" fill="#F1B42C"/><circle cx="775.6" cy="1284.6" r="6.9" fill="#F1B42C"/><circle cx="775" cy="1295" r="6.9" fill="#F1B42C"/><circle cx="782" cy="1309" r="6.9" fill="#F1B42C"/><circle cx="732" cy="1361" r="6.9" fill="#F1B42C"/><circle cx="730" cy="1367.6" r="6.9" fill="#F1B42C"/><circle cx="739.6" cy="1372" r="6.9" fill="#F1B42C"/><circle cx="751.6" cy="1379.6" r="6.9" fill="#F1B42C"/><circle cx="755" cy="1392" r="6.9" fill="#F1B42C"/><circle cx="726" cy="1402" r="6.9" fill="#F1B42C"/><circle cx="756" cy="1404" r="6.9" fill="#F1B42C"/><circle cx="758" cy="1415.6" r="6.9" fill="#F1B42C"/><circle cx="718" cy="1418" r="6.9" fill="#F1B42C"/><circle cx="735" cy="1421" r="6.9" fill="#F1B42C"/><circle cx="637.6" cy="1419.6" r="6.9" fill="#F1B42C"/><circle cx="646" cy="1429" r="6.9" fill="#F1B42C"/><circle cx="574" cy="1426.5" r="6.9" fill="#F1B42C"/><circle cx="695" cy="1437.5" r="6.9" fill="#F1B42C"/><circle cx="570.4" cy="1433.3" r="6.9" fill="#F1B42C"/><circle cx="576.7" cy="1450" r="6.9" fill="#F1B42C"/><circle cx="614.2" cy="1441.7" r="6.9" fill="#AEAEAE"/><circle cx="615.2" cy="1450" r="6.9" fill="#AEAEAE"/><circle cx="648.5" cy="1447.9" r="6.9" fill="#F1B42C"/><circle cx="654.8" cy="1458.3" r="6.9" fill="#F1B42C"/><circle cx="653.8" cy="1470.4" r="6.9" fill="#F1B42C"/><circle cx="577.7" cy="1471.5" r="6.9" fill="#F1B42C"/><circle cx="578.8" cy="1486.5" r="6.9" fill="#F1B42C"/><circle cx="603.8" cy="1491.7" r="6.9" fill="#F1B42C"/><circle cx="592.3" cy="1501.7" r="6.9" fill="#F1B42C"/><circle cx="623.1" cy="1480.6" r="6.9" fill="#F1B42C"/><circle cx="639.2" cy="1526.5" r="6.9" fill="#F1B42C"/><circle cx="656.5" cy="1521.9" r="6.9" fill="#F1B42C"/><circle cx="661" cy="1516" r="6.9" fill="#F1B42C"/><circle cx="612.1" cy="1541.3" r="6.9" fill="#F1B42C"/><circle cx="620.4" cy="1548.3" r="6.9" fill="#F1B42C"/><circle cx="635.4" cy="1558.3" r="6.9" fill="#F1B42C"/><circle cx="650.2" cy="1566.7" r="6.9" fill="#F1B42C"/><circle cx="661.5" cy="1559" r="6.9" fill="#F1B42C"/><circle cx="609.4" cy="1585.4" r="6.9" fill="#F1B42C"/><circle cx="612.7" cy="1599.6" r="6.9" fill="#F1B42C"/><circle cx="637.7" cy="1600.4" r="6.9" fill="#F1B42C"/><circle cx="565.6" cy="1605.2" r="6.9" fill="#F1B42C"/><circle cx="591.7" cy="1616.7" r="6.9" fill="#F1B42C"/><circle cx="632.9" cy="1618.8" r="6.9" fill="#F1B42C"/><circle cx="625.2" cy="1626" r="6.9" fill="#F1B42C"/><circle cx="651.3" cy="1616.7" r="6.9" fill="#F1B42C"/><circle cx="645.8" cy="1629.8" r="6.9" fill="#F1B42C"/><circle cx="567.9" cy="1635" r="6.9" fill="#F1B42C"/><circle cx="604.4" cy="1643.8" r="6.9" fill="#F1B42C"/><circle cx="616.3" cy="1645.4" r="6.9" fill="#F1B42C"/><circle cx="637.5" cy="1642.7" r="6.9" fill="#F1B42C"/><circle cx="753.8" cy="1466.7" r="6.9" fill="#F1B42C"/><circle cx="751.7" cy="1479.8" r="6.9" fill="#F1B42C"/><circle cx="770" cy="1473.3" r="6.9" fill="#F1B42C"/><circle cx="791.9" cy="1466.3" r="6.9" fill="#F1B42C"/><circle cx="789.2" cy="1474.6" r="6.9" fill="#F1B42C"/><circle cx="734" cy="1484" r="6.9" fill="#F1B42C"/><circle cx="718.8" cy="1491.7" r="6.9" fill="#F1B42C"/><circle cx="734" cy="1501" r="6.9" fill="#F1B42C"/><circle cx="793.8" cy="1495.4" r="6.9" fill="#F1B42C"/><circle cx="791.3" cy="1507.3" r="6.9" fill="#F1B42C"/><circle cx="794.4" cy="1514.6" r="6.9" fill="#F1B42C"/><circle cx="773.5" cy="1510" r="6.9" fill="#F1B42C"/><circle cx="771.5" cy="1516.7" r="6.9" fill="#F1B42C"/><circle cx="751.3" cy="1514.6" r="6.9" fill="#F1B42C"/><circle cx="739.2" cy="1521.5" r="6.9" fill="#F1B42C"/><circle cx="789.2" cy="1524" r="6.9" fill="#F1B42C"/><circle cx="774.2" cy="1529.8" r="6.9" fill="#F1B42C"/><circle cx="787.1" cy="1535.4" r="6.9" fill="#F1B42C"/><circle cx="780.8" cy="1543.8" r="6.9" fill="#F1B42C"/><circle cx="783" cy="1551" r="6.9" fill="#F1B42C"/><circle cx="725.6" cy="1549.6" r="6.9" fill="#F1B42C"/><circle cx="735" cy="1555.8" r="6.9" fill="#F1B42C"/><circle cx="750.2" cy="1549.6" r="6.9" fill="#F1B42C"/><circle cx="766.3" cy="1548.5" r="6.9" fill="#F1B42C"/><circle cx="778.8" cy="1558.3" r="6.9" fill="#F1B42C"/><circle cx="778.8" cy="1566.7" r="6.9" fill="#F1B42C"/><circle cx="734" cy="1567.1" r="6.9" fill="#F1B42C"/><circle cx="742.3" cy="1575.6" r="6.9" fill="#F1B42C"/><circle cx="763.8" cy="1567.7" r="6.9" fill="#F1B42C"/><circle cx="756.9" cy="1572.9" r="6.9" fill="#F1B42C"/><circle cx="780.8" cy="1577.1" r="6.9" fill="#F1B42C"/><circle cx="755.8" cy="1583.3" r="6.9" fill="#F1B42C"/><circle cx="780.4" cy="1588.5" r="6.9" fill="#F1B42C"/><circle cx="769.4" cy="1593.8" r="6.9" fill="#F1B42C"/><circle cx="729.8" cy="1598.3" r="6.9" fill="#F1B42C"/><circle cx="748.5" cy="1597.5" r="6.9" fill="#F1B42C"/><circle cx="773.5" cy="1606.3" r="6.9" fill="#F1B42C"/><circle cx="762.1" cy="1611.5" r="6.9" fill="#F1B42C"/><circle cx="765.2" cy="1620.8" r="6.9" fill="#F1B42C"/><circle cx="754.8" cy="1618.8" r="6.9" fill="#F1B42C"/><circle cx="750.6" cy="1625" r="6.9" fill="#F1B42C"/><circle cx="749.6" cy="1634.4" r="6.9" fill="#F1B42C"/><circle cx="536.7" cy="1448.3" r="6.9" fill="#F1B42C"/><circle cx="540" cy="1458.3" r="6.9" fill="#F1B42C"/><circle cx="519.2" cy="1465.8" r="6.9" fill="#F1B42C"/><circle cx="483.3" cy="1476.7" r="6.9" fill="#F1B42C"/><circle cx="485" cy="1497.5" r="6.9" fill="#F1B42C"/><circle cx="544.2" cy="1492.5" r="6.9" fill="#F1B42C"/><circle cx="547.5" cy="1506.7" r="6.9" fill="#F1B42C"/><circle cx="508.3" cy="1523.3" r="6.9" fill="#F1B42C"/><circle cx="527.5" cy="1521.7" r="6.9" fill="#F1B42C"/><circle cx="460.8" cy="1488.3" r="6.9" fill="#F1B42C"/><circle cx="465.8" cy="1500.8" r="6.9" fill="#F1B42C"/><circle cx="437.5" cy="1489.2" r="6.9" fill="#F1B42C"/><circle cx="442.5" cy="1495.8" r="6.9" fill="#F1B42C"/><circle cx="422.5" cy="1501.7" r="6.9" fill="#F1B42C"/><circle cx="436.7" cy="1506.7" r="6.9" fill="#F1B42C"/><circle cx="411.7" cy="1513.3" r="6.9" fill="#F1B42C"/><circle cx="419.2" cy="1517.5" r="6.9" fill="#F1B42C"/><circle cx="428.3" cy="1517.5" r="6.9" fill="#F1B42C"/><circle cx="457.5" cy="1515" r="6.9" fill="#F1B42C"/><circle cx="480" cy="1521.7" r="6.9" fill="#F1B42C"/><circle cx="464.2" cy="1530" r="6.9" fill="#F1B42C"/><circle cx="475" cy="1533.3" r="6.9" fill="#F1B42C"/><circle cx="482.5" cy="1532.5" r="6.9" fill="#F1B42C"/><circle cx="422.5" cy="1556.7" r="6.9" fill="#F1B42C"/><circle cx="441.7" cy="1566.7" r="6.9" fill="#F1B42C"/><circle cx="450" cy="1570" r="6.9" fill="#F1B42C"/><circle cx="430" cy="1572.5" r="6.9" fill="#F1B42C"/><circle cx="436.7" cy="1579.2" r="6.9" fill="#F1B42C"/><circle cx="425" cy="1583.3" r="6.9" fill="#F1B42C"/><circle cx="470" cy="1580" r="6.9" fill="#F1B42C"/><circle cx="511.7" cy="1570.8" r="6.9" fill="#F1B42C"/><circle cx="530.8" cy="1565.8" r="6.9" fill="#F1B42C"/><circle cx="522.5" cy="1577.5" r="6.9" fill="#F1B42C"/><circle cx="513.3" cy="1580" r="6.9" fill="#F1B42C"/><circle cx="556.3" cy="1578.3" r="6.9" fill="#F1B42C"/><circle cx="382.5" cy="1571.7" r="6.9" fill="#F1B42C"/><circle cx="383.3" cy="1578.3" r="6.9" fill="#F1B42C"/><circle cx="485" cy="1588.3" r="6.9" fill="#F1B42C"/><circle cx="23.3" cy="1533.3" r="6.9" fill="#F1B42C"/><circle cx="31.7" cy="1540" r="6.9" fill="#F1B42C"/><circle cx="21.7" cy="1553.3" r="6.9" fill="#F1B42C"/><circle cx="33.3" cy="1563.3" r="6.9" fill="#F1B42C"/><circle cx="59.5" cy="1489.5" r="6.9" fill="#F1B42C"/><circle cx="45" cy="1508.3" r="6.9" fill="#F1B42C"/><circle cx="57.5" cy="1507.5" r="6.9" fill="#F1B42C"/><circle cx="68.8" cy="1503" r="6.9" fill="#F1B42C"/><circle cx="55.5" cy="1518.3" r="6.9" fill="#F1B42C"/><circle cx="70.8" cy="1518" r="6.9" fill="#F1B42C"/><circle cx="60.3" cy="1525.8" r="6.9" fill="#F1B42C"/><circle cx="90.3" cy="1503.7" r="6.9" fill="#F1B42C"/><circle cx="118.8" cy="1486.7" r="6.9" fill="#F1B42C"/><circle cx="112.5" cy="1492" r="6.9" fill="#F1B42C"/><circle cx="116.7" cy="1500" r="6.9" fill="#F1B42C"/><circle cx="114.2" cy="1515.8" r="6.9" fill="#F1B42C"/><circle cx="145.3" cy="1503.3" r="6.9" fill="#F1B42C"/><circle cx="155.8" cy="1516.7" r="6.9" fill="#F1B42C"/><circle cx="152" cy="1522.5" r="6.9" fill="#F1B42C"/><circle cx="176.3" cy="1528.8" r="6.9" fill="#F1B42C"/><circle cx="27.5" cy="1522.5" r="6.9" fill="#F1B42C"/><circle cx="27.5" cy="1530" r="6.9" fill="#F1B42C"/><circle cx="43.7" cy="1533.3" r="6.9" fill="#F1B42C"/><circle cx="25" cy="1538.3" r="6.9" fill="#F1B42C"/><circle cx="16.7" cy="1545.8" r="6.9" fill="#F1B42C"/><circle cx="28.3" cy="1546.7" r="6.9" fill="#F1B42C"/><circle cx="34.2" cy="1555" r="6.9" fill="#F1B42C"/><circle cx="17.5" cy="1562.5" r="6.9" fill="#F1B42C"/><circle cx="26.7" cy="1560" r="6.9" fill="#F1B42C"/><circle cx="40.8" cy="1566.7" r="6.9" fill="#F1B42C"/><circle cx="31.7" cy="1573.3" r="6.9" fill="#F1B42C"/><circle cx="32.5" cy="1580" r="6.9" fill="#F1B42C"/><circle cx="31.7" cy="1586.7" r="6.9" fill="#F1B42C"/><circle cx="41.7" cy="1592.5" r="6.9" fill="#F1B42C"/><circle cx="35.8" cy="1596.7" r="6.9" fill="#F1B42C"/><circle cx="29.2" cy="1598.3" r="6.9" fill="#F1B42C"/><circle cx="59.2" cy="1540" r="6.9" fill="#F1B42C"/><circle cx="79.2" cy="1544.7" r="6.9" fill="#F1B42C"/><circle cx="75" cy="1555" r="6.9" fill="#F1B42C"/><circle cx="75" cy="1564.2" r="6.9" fill="#F1B42C"/><circle cx="115" cy="1535" r="6.9" fill="#F1B42C"/><circle cx="111.7" cy="1545.5" r="6.9" fill="#F1B42C"/><circle cx="114.7" cy="1561.7" r="6.9" fill="#F1B42C"/><circle cx="130.5" cy="1566.7" r="6.9" fill="#F1B42C"/><circle cx="141.3" cy="1568" r="6.9" fill="#F1B42C"/><circle cx="158" cy="1551.3" r="6.9" fill="#F1B42C"/><circle cx="175.8" cy="1568" r="6.9" fill="#F1B42C"/><circle cx="60" cy="1583.8" r="6.9" fill="#F1B42C"/><circle cx="98" cy="1591.7" r="6.9" fill="#F1B42C"/><circle cx="38" cy="1611.7" r="6.9" fill="#F1B42C"/><circle cx="42.5" cy="1610.8" r="6.9" fill="#F1B42C"/><circle cx="47.5" cy="1624.2" r="6.9" fill="#F1B42C"/><circle cx="61.3" cy="1623.3" r="6.9" fill="#F1B42C"/><circle cx="90.8" cy="1613.3" r="6.9" fill="#F1B42C"/><circle cx="89.5" cy="1626.3" r="6.9" fill="#F1B42C"/><circle cx="128.7" cy="1607.2" r="6.9" fill="#F1B42C"/><circle cx="141.3" cy="1621.3" r="6.9" fill="#F1B42C"/><circle cx="155.5" cy="1620.5" r="6.9" fill="#F1B42C"/><circle cx="164.2" cy="1613.3" r="6.9" fill="#F1B42C"/><circle cx="170.8" cy="1603" r="6.9" fill="#F1B42C"/><circle cx="193.8" cy="1603.8" r="6.9" fill="#F1B42C"/><circle cx="184.2" cy="1622.5" r="6.9" fill="#F1B42C"/><circle cx="183.3" cy="1625.8" r="6.9" fill="#F1B42C"/><circle cx="53.3" cy="1636.7" r="6.9" fill="#F1B42C"/><circle cx="63.3" cy="1639.2" r="6.9" fill="#F1B42C"/><circle cx="97.2" cy="1638.3" r="6.9" fill="#F1B42C"/><circle cx="153" cy="1638.3" r="6.9" fill="#F1B42C"/><circle cx="69" cy="1650.4" r="6.9" fill="#F1B42C"/><circle cx="68.6" cy="1658.4" r="6.9" fill="#F1B42C"/><circle cx="78" cy="1663.6" r="6.9" fill="#F1B42C"/><circle cx="88" cy="1676" r="6.9" fill="#F1B42C"/><circle cx="102.4" cy="1676" r="6.9" fill="#F1B42C"/><circle cx="102" cy="1687" r="6.9" fill="#F1B42C"/><circle cx="112" cy="1696.6" r="6.9" fill="#F1B42C"/><circle cx="119.6" cy="1697" r="6.9" fill="#F1B42C"/><circle cx="127.4" cy="1706" r="6.9" fill="#F1B42C"/><circle cx="153.6" cy="1641" r="6.9" fill="#F1B42C"/><circle cx="157" cy="1651" r="6.9" fill="#F1B42C"/><circle cx="165" cy="1661" r="6.9" fill="#F1B42C"/><circle cx="173" cy="1673.6" r="6.9" fill="#F1B42C"/><circle cx="181" cy="1681" r="6.9" fill="#F1B42C"/><circle cx="200" cy="1703" r="6.9" fill="#F1B42C"/><circle cx="209" cy="1709" r="6.9" fill="#F1B42C"/><circle cx="212" cy="1713" r="6.9" fill="#F1B42C"/><circle cx="224" cy="1711.6" r="6.9" fill="#F1B42C"/><circle cx="232" cy="1714" r="6.9" fill="#F1B42C"/><circle cx="237" cy="1723" r="6.9" fill="#F1B42C"/><circle cx="210.8" cy="1567.2" r="6.9" fill="#F1B42C"/><circle cx="228.7" cy="1585.8" r="6.9" fill="#F1B42C"/><circle cx="208.7" cy="1601.3" r="6.9" fill="#F1B42C"/><circle cx="222.2" cy="1613.3" r="6.9" fill="#F1B42C"/><circle cx="240.3" cy="1608.3" r="6.9" fill="#F1B42C"/><circle cx="237.2" cy="1627.5" r="6.9" fill="#F1B42C"/><circle cx="215.5" cy="1637.5" r="6.9" fill="#F1B42C"/><circle cx="183.3" cy="1649.2" r="6.9" fill="#F1B42C"/><circle cx="210" cy="1660.8" r="6.9" fill="#F1B42C"/><circle cx="223.7" cy="1666.7" r="6.9" fill="#F1B42C"/><circle cx="225.3" cy="1675.8" r="6.9" fill="#F1B42C"/><circle cx="183.3" cy="1670.8" r="6.9" fill="#F1B42C"/><circle cx="199.2" cy="1679.7" r="6.9" fill="#F1B42C"/><circle cx="183.3" cy="1688.3" r="6.9" fill="#F1B42C"/><circle cx="195.8" cy="1694.2" r="6.9" fill="#F1B42C"/><circle cx="217.5" cy="1699.2" r="6.9" fill="#F1B42C"/><circle cx="247.5" cy="1661.3" r="6.9" fill="#F1B42C"/><circle cx="263.3" cy="1653.7" r="6.9" fill="#F1B42C"/><circle cx="261.7" cy="1674.2" r="6.9" fill="#F1B42C"/><circle cx="264.2" cy="1681.7" r="6.9" fill="#F1B42C"/><circle cx="278.3" cy="1690.8" r="6.9" fill="#F1B42C"/><circle cx="292.5" cy="1698.3" r="6.9" fill="#F1B42C"/><circle cx="303" cy="1576.3" r="6.9" fill="#F1B42C"/><circle cx="306.3" cy="1590" r="6.9" fill="#F1B42C"/><circle cx="306.3" cy="1598.7" r="6.9" fill="#F1B42C"/><circle cx="306.3" cy="1606.7" r="6.9" fill="#F1B42C"/><circle cx="318.3" cy="1573" r="6.9" fill="#F1B42C"/><circle cx="325" cy="1582.5" r="6.9" fill="#F1B42C"/><circle cx="328.3" cy="1591.3" r="6.9" fill="#F1B42C"/><circle cx="310.8" cy="1622.2" r="6.9" fill="#F1B42C"/><circle cx="321.3" cy="1620" r="6.9" fill="#F1B42C"/><circle cx="330.8" cy="1621.3" r="6.9" fill="#F1B42C"/><circle cx="344.2" cy="1629.2" r="6.9" fill="#F1B42C"/><circle cx="356.7" cy="1620" r="6.9" fill="#F1B42C"/><circle cx="362.5" cy="1561.3" r="6.9" fill="#F1B42C"/><circle cx="360.8" cy="1578.3" r="6.9" fill="#F1B42C"/><circle cx="364.2" cy="1589.2" r="6.9" fill="#F1B42C"/><circle cx="378.3" cy="1571.7" r="6.9" fill="#F1B42C"/><circle cx="372.5" cy="1616.7" r="6.9" fill="#F1B42C"/><circle cx="370" cy="1628.3" r="6.9" fill="#F1B42C"/><circle cx="328.3" cy="1637.5" r="6.9" fill="#F1B42C"/><circle cx="329.2" cy="1644.2" r="6.9" fill="#F1B42C"/><circle cx="362.5" cy="1643.3" r="6.9" fill="#F1B42C"/><circle cx="330" cy="1659.7" r="6.9" fill="#F1B42C"/><circle cx="337.5" cy="1654.2" r="6.9" fill="#F1B42C"/><circle cx="341.7" cy="1665.8" r="6.9" fill="#F1B42C"/><circle cx="350.8" cy="1669.2" r="6.9" fill="#F1B42C"/><circle cx="358.3" cy="1661.7" r="6.9" fill="#F1B42C"/><circle cx="372.5" cy="1659.2" r="6.9" fill="#F1B42C"/><circle cx="363.3" cy="1681.7" r="6.9" fill="#F1B42C"/><circle cx="375.8" cy="1691.7" r="6.9" fill="#F1B42C"/><circle cx="240" cy="1724" r="6.9" fill="#F1B42C"/><circle cx="247.6" cy="1725" r="6.9" fill="#F1B42C"/><circle cx="264" cy="1712" r="6.9" fill="#F1B42C"/><circle cx="260" cy="1721" r="6.9" fill="#F1B42C"/><circle cx="272" cy="1722" r="6.9" fill="#F1B42C"/><circle cx="277.4" cy="1717" r="6.9" fill="#F1B42C"/><circle cx="297" cy="1751" r="6.9" fill="#F1B42C"/><circle cx="291" cy="1757" r="6.9" fill="#F1B42C"/><circle cx="306.6" cy="1761" r="6.9" fill="#F1B42C"/><circle cx="313.6" cy="1752" r="6.9" fill="#F1B42C"/><circle cx="325" cy="1736" r="6.9" fill="#F1B42C"/><circle cx="325.4" cy="1762.4" r="6.9" fill="#F1B42C"/><circle cx="337.4" cy="1755.6" r="6.9" fill="#F1B42C"/><circle cx="351" cy="1740.4" r="6.9" fill="#F1B42C"/><circle cx="349" cy="1766.4" r="6.9" fill="#F1B42C"/><circle cx="360" cy="1768" r="6.9" fill="#F1B42C"/><circle cx="370" cy="1761" r="6.9" fill="#F1B42C"/><circle cx="378" cy="1768.4" r="6.9" fill="#F1B42C"/><circle cx="391" cy="1769" r="6.9" fill="#F1B42C"/><circle cx="400.6" cy="1767" r="6.9" fill="#F1B42C"/><circle cx="417" cy="1766" r="6.9" fill="#F1B42C"/><circle cx="329" cy="1623" r="6.9" fill="#F1B42C"/><circle cx="386" cy="1625" r="6.9" fill="#F1B42C"/><circle cx="401" cy="1629" r="6.9" fill="#F1B42C"/><circle cx="421" cy="1626" r="6.9" fill="#F1B42C"/><circle cx="457" cy="1625" r="6.9" fill="#F1B42C"/><circle cx="391" cy="1641" r="6.9" fill="#F1B42C"/><circle cx="397" cy="1651" r="6.9" fill="#F1B42C"/><circle cx="420" cy="1635" r="6.9" fill="#F1B42C"/><circle cx="431.6" cy="1646" r="6.9" fill="#F1B42C"/><circle cx="446.4" cy="1635" r="6.9" fill="#F1B42C"/><circle cx="418" cy="1674" r="6.9" fill="#F1B42C"/><circle cx="428" cy="1670" r="6.9" fill="#F1B42C"/><circle cx="440" cy="1660" r="6.9" fill="#F1B42C"/><circle cx="449" cy="1660" r="6.9" fill="#F1B42C"/><circle cx="386" cy="1697" r="6.9" fill="#F1B42C"/><circle cx="393" cy="1689" r="6.9" fill="#F1B42C"/><circle cx="398" cy="1694" r="6.9" fill="#F1B42C"/><circle cx="409" cy="1689.6" r="6.9" fill="#F1B42C"/><circle cx="429" cy="1710" r="6.9" fill="#F1B42C"/><circle cx="436" cy="1718" r="6.9" fill="#F1B42C"/><circle cx="448" cy="1708" r="6.9" fill="#F1B42C"/><circle cx="446" cy="1716" r="6.9" fill="#F1B42C"/><circle cx="457" cy="1715" r="6.9" fill="#F1B42C"/><circle cx="423.3" cy="1561.1" r="6.9" fill="#F1B42C"/><circle cx="548.9" cy="1597.9" r="6.9" fill="#F1B42C"/><circle cx="537" cy="1606.6" r="6.9" fill="#F1B42C"/><circle cx="534.4" cy="1617.4" r="6.9" fill="#F1B42C"/><circle cx="528.8" cy="1628.9" r="6.9" fill="#F1B42C"/><circle cx="525.1" cy="1645.6" r="6.9" fill="#F1B42C"/><circle cx="629.8" cy="1657.5" r="6.9" fill="#F1B42C"/><circle cx="614.6" cy="1670.1" r="6.9" fill="#F1B42C"/><circle cx="577.1" cy="1652.7" r="6.9" fill="#F1B42C"/><circle cx="593.8" cy="1656.9" r="6.9" fill="#F1B42C"/><circle cx="544.6" cy="1668.3" r="6.9" fill="#F1B42C"/><circle cx="560.8" cy="1670.5" r="6.9" fill="#F1B42C"/><circle cx="547.2" cy="1688.3" r="6.9" fill="#F1B42C"/><circle cx="596" cy="1677" r="6.9" fill="#F1B42C"/><circle cx="602" cy="1684" r="6.9" fill="#F1B42C"/><circle cx="591.2" cy="1685.2" r="6.9" fill="#F1B42C"/><circle cx="582.5" cy="1691.7" r="6.9" fill="#F1B42C"/><circle cx="575.6" cy="1698.2" r="6.9" fill="#F1B42C"/><circle cx="566.3" cy="1699.8" r="6.9" fill="#F1B42C"/><circle cx="455.8" cy="1609.4" r="6.9" fill="#F1B42C"/><circle cx="472.7" cy="1626.1" r="6.9" fill="#F1B42C"/><circle cx="480.2" cy="1610.9" r="6.9" fill="#F1B42C"/><circle cx="488.9" cy="1605.5" r="6.9" fill="#F1B42C"/><circle cx="498" cy="1612" r="6.9" fill="#F1B42C"/><circle cx="504.5" cy="1621.3" r="6.9" fill="#F1B42C"/><circle cx="492.6" cy="1627.2" r="6.9" fill="#F1B42C"/><circle cx="428.7" cy="1615.3" r="6.9" fill="#F1B42C"/><circle cx="422.2" cy="1634.8" r="6.9" fill="#F1B42C"/><circle cx="469.8" cy="1646.7" r="6.9" fill="#F1B42C"/><circle cx="475.3" cy="1639.1" r="6.9" fill="#F1B42C"/><circle cx="485.7" cy="1644.1" r="6.9" fill="#F1B42C"/><circle cx="465.5" cy="1656.4" r="6.9" fill="#F1B42C"/><circle cx="481.8" cy="1673.3" r="6.9" fill="#F1B42C"/><circle cx="501.3" cy="1669" r="6.9" fill="#F1B42C"/><circle cx="512.1" cy="1672.2" r="6.9" fill="#F1B42C"/><circle cx="520.8" cy="1666.2" r="6.9" fill="#F1B42C"/><circle cx="518.6" cy="1660.8" r="6.9" fill="#F1B42C"/><circle cx="507.8" cy="1695" r="6.9" fill="#F1B42C"/><circle cx="499.1" cy="1700.8" r="6.9" fill="#F1B42C"/><circle cx="487.2" cy="1696.5" r="6.9" fill="#F1B42C"/><circle cx="477.4" cy="1701.9" r="6.9" fill="#F1B42C"/><circle cx="489.3" cy="1710.6" r="6.9" fill="#F1B42C"/><circle cx="496.9" cy="1708.4" r="6.9" fill="#F1B42C"/><circle cx="472" cy="1713.8" r="6.9" fill="#F1B42C"/><circle cx="465.5" cy="1716" r="6.9" fill="#F1B42C"/><circle cx="459" cy="1714.9" r="6.9" fill="#F1B42C"/>
<path d="M844.9 38.8V898.7M877.7 38.8V898.7M910.4 38.8V898.7M943.3 38.8V898.7M976.3 38.8V898.7M825.5 45.2H996.3M825.5 56.2H996.3M825.5 67.2H996.3M825.5 78.2H996.3M825.5 89.2H996.3M825.5 100.2H996.3M825.5 111.2H996.3M825.5 122.2H996.3M825.5 133.2H996.3M825.5 144.2H996.3M825.5 155.2H996.3M825.5 166.2H996.3M825.5 177.2H996.3M825.5 188.2H996.3M825.5 199.2H996.3M825.5 210.2H996.3M825.5 221.2H996.3M825.5 232.2H996.3M825.5 243.2H996.3M825.5 254.2H996.3M825.5 265.2H996.3M825.5 276.2H996.3M825.5 287.2H996.3M825.5 298.2H996.3M825.5 309.2H996.3M825.5 320.2H996.3M825.5 331.2H996.3M825.5 342.2H996.3M825.5 353.2H996.3M825.5 364.2H996.3M825.5 375.2H996.3M825.5 386.2H996.3M825.5 397.2H996.3M825.5 408.2H996.3M825.5 419.2H996.3M825.5 430.2H996.3M825.5 441.2H996.3M825.5 452.2H996.3M825.5 463.2H996.3M825.5 474.2H996.3M825.5 485.2H996.3M825.5 496.2H996.3M825.5 507.2H996.3M825.5 518.2H996.3M825.5 529.2H996.3M825.5 540.2H996.3M825.5 551.2H996.3M825.5 562.2H996.3M825.5 573.2H996.3M825.5 584.2H996.3M825.5 595.2H996.3M825.5 606.2H996.3M825.5 617.2H996.3M825.5 628.2H996.3M825.5 639.2H996.3M825.5 650.2H996.3M825.5 661.2H996.3M825.5 672.2H996.3M825.5 683.2H996.3M825.5 694.2H996.3M825.5 705.2H996.3M825.5 716.2H996.3M825.5 727.2H996.3M825.5 738.2H996.3M825.5 749.2H996.3M825.5 760.2H996.3M825.5 771.2H996.3M825.5 782.2H996.3M825.5 793.2H996.3M825.5 804.2H996.3M825.5 815.2H996.3M825.5 826.2H996.3M825.5 837.2H996.3M825.5 848.2H996.3M825.5 859.2H996.3M825.5 870.2H996.3M825.5 881.2H996.3M825.5 892.2H996.3" stroke="#ebebeb" stroke-width="1.1" fill="none"/><rect x="898.1" y="39.7" width="24.6" height="11" fill="#F1B42C" stroke="#6e5a22" stroke-width="0.7"/><rect x="898.1" y="50.7" width="24.6" height="11" fill="#F1B42C" stroke="#6e5a22" stroke-width="0.7"/><rect x="898.1" y="61.7" width="24.6" height="11" fill="#F1B42C" stroke="#6e5a22" stroke-width="0.7"/><rect x="898.1" y="72.7" width="24.6" height="11" fill="#F1B42C" stroke="#6e5a22" stroke-width="0.7"/><rect x="931" y="83.7" width="24.6" height="11" fill="#F1B42C" stroke="#6e5a22" stroke-width="0.7"/><rect x="898.1" y="94.7" width="24.6" height="11" fill="#F1B42C" stroke="#6e5a22" stroke-width="0.7"/><rect x="931" y="105.7" width="24.6" height="11" fill="#F1B42C" stroke="#6e5a22" stroke-width="0.7"/><rect x="898.1" y="116.7" width="24.6" height="11" fill="#F1B42C" stroke="#6e5a22" stroke-width="0.7"/><rect x="898.1" y="127.7" width="24.6" height="11" fill="#F1B42C" stroke="#6e5a22" stroke-width="0.7"/><rect x="964" y="138.7" width="24.6" height="11" fill="#4BB2B9" stroke="#2e6468" stroke-width="0.7"/><rect x="964" y="149.7" width="24.6" height="11" fill="#4BB2B9" stroke="#2e6468" stroke-width="0.7"/><rect x="865.4" y="160.7" width="24.6" height="11" fill="#4BB2B9" stroke="#2e6468" stroke-width="0.7"/><rect x="964" y="171.7" width="24.6" height="11" fill="#4BB2B9" stroke="#2e6468" stroke-width="0.7"/><rect x="964" y="182.7" width="24.6" height="11" fill="#4BB2B9" stroke="#2e6468" stroke-width="0.7"/><rect x="964" y="193.7" width="24.6" height="11" fill="#4BB2B9" stroke="#2e6468" stroke-width="0.7"/><rect x="865.4" y="204.7" width="24.6" height="11" fill="#4BB2B9" stroke="#2e6468" stroke-width="0.7"/><rect x="865.4" y="215.7" width="24.6" height="11" fill="#4BB2B9" stroke="#2e6468" stroke-width="0.7"/><rect x="964" y="226.7" width="24.6" height="11" fill="#4BB2B9" stroke="#2e6468" stroke-width="0.7"/><rect x="964" y="237.7" width="24.6" height="11" fill="#4BB2B9" stroke="#2e6468" stroke-width="0.7"/><rect x="865.4" y="248.7" width="24.6" height="11" fill="#F1B42C" stroke="#6e5a22" stroke-width="0.7"/><rect x="931" y="259.7" width="24.6" height="11" fill="#F1B42C" stroke="#6e5a22" stroke-width="0.7"/><rect x="931" y="270.7" width="24.6" height="11" fill="#F1B42C" stroke="#6e5a22" stroke-width="0.7"/><rect x="832.6" y="281.7" width="24.6" height="11" fill="#F1B42C" stroke="#6e5a22" stroke-width="0.7"/><rect x="832.6" y="292.7" width="24.6" height="11" fill="#F1B42C" stroke="#6e5a22" stroke-width="0.7"/><rect x="865.4" y="303.7" width="24.6" height="11" fill="#F1B42C" stroke="#6e5a22" stroke-width="0.7"/><rect x="865.4" y="314.7" width="24.6" height="11" fill="#F1B42C" stroke="#6e5a22" stroke-width="0.7"/><rect x="865.4" y="325.7" width="24.6" height="11" fill="#F1B42C" stroke="#6e5a22" stroke-width="0.7"/><rect x="931" y="336.7" width="24.6" height="11" fill="#F1B42C" stroke="#6e5a22" stroke-width="0.7"/><rect x="865.4" y="347.7" width="24.6" height="11" fill="#4BB2B9" stroke="#2e6468" stroke-width="0.7"/><rect x="865.4" y="358.7" width="24.6" height="11" fill="#4BB2B9" stroke="#2e6468" stroke-width="0.7"/><rect x="865.4" y="369.7" width="24.6" height="11" fill="#4BB2B9" stroke="#2e6468" stroke-width="0.7"/><rect x="865.4" y="380.7" width="24.6" height="11" fill="#4BB2B9" stroke="#2e6468" stroke-width="0.7"/><rect x="865.4" y="391.7" width="24.6" height="11" fill="#4BB2B9" stroke="#2e6468" stroke-width="0.7"/><rect x="931" y="402.7" width="24.6" height="11" fill="#4BB2B9" stroke="#2e6468" stroke-width="0.7"/><rect x="898.1" y="413.7" width="24.6" height="11" fill="#4BB2B9" stroke="#2e6468" stroke-width="0.7"/><rect x="931" y="424.7" width="24.6" height="11" fill="#F1B42C" stroke="#6e5a22" stroke-width="0.7"/><rect x="898.1" y="435.7" width="24.6" height="11" fill="#F1B42C" stroke="#6e5a22" stroke-width="0.7"/><rect x="898.1" y="446.7" width="24.6" height="11" fill="#F1B42C" stroke="#6e5a22" stroke-width="0.7"/><rect x="931" y="457.7" width="24.6" height="11" fill="#F1B42C" stroke="#6e5a22" stroke-width="0.7"/><rect x="931" y="468.7" width="24.6" height="11" fill="#F1B42C" stroke="#6e5a22" stroke-width="0.7"/><rect x="898.1" y="479.7" width="24.6" height="11" fill="#F1B42C" stroke="#6e5a22" stroke-width="0.7"/><rect x="898.1" y="490.7" width="24.6" height="11" fill="#F1B42C" stroke="#6e5a22" stroke-width="0.7"/><rect x="898.1" y="501.7" width="24.6" height="11" fill="#F1B42C" stroke="#6e5a22" stroke-width="0.7"/><rect x="898.1" y="512.7" width="24.6" height="11" fill="#F1B42C" stroke="#6e5a22" stroke-width="0.7"/><rect x="931" y="523.7" width="24.6" height="11" fill="#F1B42C" stroke="#6e5a22" stroke-width="0.7"/><rect x="931" y="534.7" width="24.6" height="11" fill="#F1B42C" stroke="#6e5a22" stroke-width="0.7"/><rect x="865.4" y="545.7" width="24.6" height="11" fill="#4BB2B9" stroke="#2e6468" stroke-width="0.7"/><rect x="964" y="556.7" width="24.6" height="11" fill="#4BB2B9" stroke="#2e6468" stroke-width="0.7"/><rect x="964" y="567.7" width="24.6" height="11" fill="#4BB2B9" stroke="#2e6468" stroke-width="0.7"/><rect x="964" y="578.7" width="24.6" height="11" fill="#4BB2B9" stroke="#2e6468" stroke-width="0.7"/><rect x="964" y="589.7" width="24.6" height="11" fill="#4BB2B9" stroke="#2e6468" stroke-width="0.7"/><rect x="964" y="600.7" width="24.6" height="11" fill="#4BB2B9" stroke="#2e6468" stroke-width="0.7"/><rect x="964" y="611.7" width="24.6" height="11" fill="#4BB2B9" stroke="#2e6468" stroke-width="0.7"/><rect x="964" y="622.7" width="24.6" height="11" fill="#4BB2B9" stroke="#2e6468" stroke-width="0.7"/><rect x="964" y="633.7" width="24.6" height="11" fill="#4BB2B9" stroke="#2e6468" stroke-width="0.7"/><rect x="832.6" y="644.7" width="24.6" height="11" fill="#F1B42C" stroke="#6e5a22" stroke-width="0.7"/><rect x="832.6" y="655.7" width="24.6" height="11" fill="#F1B42C" stroke="#6e5a22" stroke-width="0.7"/><rect x="832.6" y="666.7" width="24.6" height="11" fill="#F1B42C" stroke="#6e5a22" stroke-width="0.7"/><rect x="832.6" y="677.7" width="24.6" height="11" fill="#F1B42C" stroke="#6e5a22" stroke-width="0.7"/><rect x="832.6" y="688.7" width="24.6" height="11" fill="#F1B42C" stroke="#6e5a22" stroke-width="0.7"/><rect x="832.6" y="699.7" width="24.6" height="11" fill="#F1B42C" stroke="#6e5a22" stroke-width="0.7"/><rect x="832.6" y="710.7" width="24.6" height="11" fill="#F1B42C" stroke="#6e5a22" stroke-width="0.7"/><rect x="832.6" y="721.7" width="24.6" height="11" fill="#F1B42C" stroke="#6e5a22" stroke-width="0.7"/><rect x="832.6" y="732.7" width="24.6" height="11" fill="#F1B42C" stroke="#6e5a22" stroke-width="0.7"/><rect x="832.6" y="743.7" width="24.6" height="11" fill="#F1B42C" stroke="#6e5a22" stroke-width="0.7"/><rect x="832.6" y="754.7" width="24.6" height="11" fill="#F1B42C" stroke="#6e5a22" stroke-width="0.7"/><rect x="832.6" y="765.7" width="24.6" height="11" fill="#F1B42C" stroke="#6e5a22" stroke-width="0.7"/><rect x="931" y="776.7" width="24.6" height="11" fill="#F1B42C" stroke="#6e5a22" stroke-width="0.7"/><rect x="964" y="787.7" width="24.6" height="11" fill="#F1B42C" stroke="#6e5a22" stroke-width="0.7"/><rect x="898.1" y="798.7" width="24.6" height="11" fill="#F1B42C" stroke="#6e5a22" stroke-width="0.7"/><rect x="832.6" y="809.7" width="24.6" height="11" fill="#F1B42C" stroke="#6e5a22" stroke-width="0.7"/><rect x="832.6" y="820.7" width="24.6" height="11" fill="#F1B42C" stroke="#6e5a22" stroke-width="0.7"/><rect x="832.6" y="831.7" width="24.6" height="11" fill="#F1B42C" stroke="#6e5a22" stroke-width="0.7"/><rect x="832.6" y="842.7" width="24.6" height="11" fill="#F1B42C" stroke="#6e5a22" stroke-width="0.7"/><rect x="865.4" y="853.7" width="24.6" height="11" fill="#F1B42C" stroke="#6e5a22" stroke-width="0.7"/><rect x="832.6" y="864.7" width="24.6" height="11" fill="#F1B42C" stroke="#6e5a22" stroke-width="0.7"/><rect x="931" y="875.7" width="24.6" height="11" fill="#F1B42C" stroke="#6e5a22" stroke-width="0.7"/><rect x="931" y="886.7" width="24.6" height="11" fill="#F1B42C" stroke="#6e5a22" stroke-width="0.7"/><rect x="825.5" y="38.8" width="170.8" height="859.9" fill="none" stroke="#333" stroke-width="1.5"/><path d="M844.9 35.2V38.8M877.7 35.2V38.8M910.4 35.2V38.8M943.3 35.2V38.8M976.3 35.2V38.8M996.3 45.2H1000.1M996.3 56.2H1000.1M996.3 67.2H1000.1M996.3 78.2H1000.1M996.3 89.2H1000.1M996.3 100.2H1000.1M996.3 111.2H1000.1M996.3 122.2H1000.1M996.3 133.2H1000.1M996.3 144.2H1000.1M996.3 155.2H1000.1M996.3 166.2H1000.1M996.3 177.2H1000.1M996.3 188.2H1000.1M996.3 199.2H1000.1M996.3 210.2H1000.1M996.3 221.2H1000.1M996.3 232.2H1000.1M996.3 243.2H1000.1M996.3 254.2H1000.1M996.3 265.2H1000.1M996.3 276.2H1000.1M996.3 287.2H1000.1M996.3 298.2H1000.1M996.3 309.2H1000.1M996.3 320.2H1000.1M996.3 331.2H1000.1M996.3 342.2H1000.1M996.3 353.2H1000.1M996.3 364.2H1000.1M996.3 375.2H1000.1M996.3 386.2H1000.1M996.3 397.2H1000.1M996.3 408.2H1000.1M996.3 419.2H1000.1M996.3 430.2H1000.1M996.3 441.2H1000.1M996.3 452.2H1000.1M996.3 463.2H1000.1M996.3 474.2H1000.1M996.3 485.2H1000.1M996.3 496.2H1000.1M996.3 507.2H1000.1M996.3 518.2H1000.1M996.3 529.2H1000.1M996.3 540.2H1000.1M996.3 551.2H1000.1M996.3 562.2H1000.1M996.3 573.2H1000.1M996.3 584.2H1000.1M996.3 595.2H1000.1M996.3 606.2H1000.1M996.3 617.2H1000.1M996.3 628.2H1000.1M996.3 639.2H1000.1M996.3 650.2H1000.1M996.3 661.2H1000.1M996.3 672.2H1000.1M996.3 683.2H1000.1M996.3 694.2H1000.1M996.3 705.2H1000.1M996.3 716.2H1000.1M996.3 727.2H1000.1M996.3 738.2H1000.1M996.3 749.2H1000.1M996.3 760.2H1000.1M996.3 771.2H1000.1M996.3 782.2H1000.1M996.3 793.2H1000.1M996.3 804.2H1000.1M996.3 815.2H1000.1M996.3 826.2H1000.1M996.3 837.2H1000.1M996.3 848.2H1000.1M996.3 859.2H1000.1M996.3 870.2H1000.1M996.3 881.2H1000.1M996.3 892.2H1000.1" stroke="#333" stroke-width="1.3" fill="none"/><rect x="1007" y="45.2" width="4.6" height="88" fill="#F1B42C"/><text x="1020" y="89.2" font-family="Liberation Sans" font-style="italic" font-size="17.8" fill="#111">A. adenesis</text><rect x="1007" y="144.2" width="4.6" height="99" fill="#4BB2B9"/><text x="1020" y="191.6" font-family="Liberation Sans" font-style="italic" font-size="17.8" fill="#111">C. anomolus-AG</text><rect x="1007" y="254.2" width="4.6" height="88" fill="#F1B42C"/><text x="1020" y="293.8" font-family="Liberation Sans" font-style="italic" font-size="17.8" fill="#111">C. anomolus-GoO</text><rect x="1007" y="353.2" width="4.6" height="66" fill="#4BB2B9"/><text x="1020" y="385.3" font-family="Liberation Sans" font-style="italic" font-size="17.8" fill="#111">E. pulcher-AG</text><rect x="1007" y="430.2" width="4.6" height="110" fill="#F1B42C"/><text x="1020" y="493" font-family="Liberation Sans" font-style="italic" font-size="17.8" fill="#111">E. pulcher-GoO</text><rect x="1007" y="551.2" width="4.6" height="88" fill="#4BB2B9"/><text x="1020" y="594" font-family="Liberation Sans" font-style="italic" font-size="17.8" fill="#111">E. ventermaculus-AG</text><rect x="1007" y="650.2" width="4.6" height="99" fill="#F1B42C"/><text x="1020" y="702" font-family="Liberation Sans" font-style="italic" font-size="17.8" fill="#111">E. ventermaculus-GoO</text><rect x="1007" y="760.2" width="4.6" height="88" fill="#F1B42C"/><text x="1020" y="809" font-family="Liberation Sans" font-style="italic" font-size="17.8" fill="#111">E. guttata</text><rect x="1007" y="859.2" width="4.6" height="33" fill="#F1B42C"/><text x="1020" y="880.5" font-family="Liberation Sans" font-style="italic" font-size="17.8" fill="#111">H. vulgaris</text>
<path d="M844.9 921.6V1780.6M877.7 921.6V1780.6M910.4 921.6V1780.6M943.3 921.6V1780.6M976.3 921.6V1780.6M825.5 927.5H996.3M825.5 937.5H996.3M825.5 947.4H996.3M825.5 957.4H996.3M825.5 967.4H996.3M825.5 977.3H996.3M825.5 987.3H996.3M825.5 997.3H996.3M825.5 1007.2H996.3M825.5 1017.2H996.3M825.5 1027.2H996.3M825.5 1037.2H996.3M825.5 1047.1H996.3M825.5 1057.1H996.3M825.5 1067.1H996.3M825.5 1077H996.3M825.5 1087H996.3M825.5 1097H996.3M825.5 1106.9H996.3M825.5 1116.9H996.3M825.5 1126.9H996.3M825.5 1136.9H996.3M825.5 1146.8H996.3M825.5 1156.8H996.3M825.5 1166.8H996.3M825.5 1176.7H996.3M825.5 1186.7H996.3M825.5 1196.7H996.3M825.5 1206.6H996.3M825.5 1216.6H996.3M825.5 1226.6H996.3M825.5 1236.6H996.3M825.5 1246.5H996.3M825.5 1256.5H996.3M825.5 1266.5H996.3M825.5 1276.4H996.3M825.5 1286.4H996.3M825.5 1296.4H996.3M825.5 1306.3H996.3M825.5 1316.3H996.3M825.5 1326.3H996.3M825.5 1336.3H996.3M825.5 1346.2H996.3M825.5 1356.2H996.3M825.5 1366.2H996.3M825.5 1376.1H996.3M825.5 1386.1H996.3M825.5 1396.1H996.3M825.5 1406H996.3M825.5 1416H996.3M825.5 1426H996.3M825.5 1436H996.3M825.5 1445.9H996.3M825.5 1455.9H996.3M825.5 1465.9H996.3M825.5 1475.8H996.3M825.5 1485.8H996.3M825.5 1495.8H996.3M825.5 1505.7H996.3M825.5 1515.7H996.3M825.5 1525.7H996.3M825.5 1535.7H996.3M825.5 1545.6H996.3M825.5 1555.6H996.3M825.5 1565.6H996.3M825.5 1575.5H996.3M825.5 1585.5H996.3M825.5 1595.5H996.3M825.5 1605.4H996.3M825.5 1615.4H996.3M825.5 1625.4H996.3M825.5 1635.4H996.3M825.5 1645.3H996.3M825.5 1655.3H996.3M825.5 1665.3H996.3M825.5 1675.2H996.3M825.5 1685.2H996.3M825.5 1695.2H996.3M825.5 1705.1H996.3M825.5 1715.1H996.3M825.5 1725.1H996.3M825.5 1735.1H996.3M825.5 1745H996.3M825.5 1755H996.3M825.5 1765H996.3M825.5 1774.9H996.3" stroke="#ebebeb" stroke-width="1.1" fill="none"/><rect x="931" y="922.5" width="24.6" height="10" fill="#F1B42C" stroke="#6e5a22" stroke-width="0.7"/><rect x="931" y="932.5" width="24.6" height="10" fill="#F1B42C" stroke="#6e5a22" stroke-width="0.7"/><rect x="931" y="942.4" width="24.6" height="10" fill="#F1B42C" stroke="#6e5a22" stroke-width="0.7"/><rect x="931" y="952.4" width="24.6" height="10" fill="#F1B42C" stroke="#6e5a22" stroke-width="0.7"/><rect x="931" y="962.4" width="24.6" height="10" fill="#F1B42C" stroke="#6e5a22" stroke-width="0.7"/><rect x="931" y="972.4" width="24.6" height="10" fill="#F1B42C" stroke="#6e5a22" stroke-width="0.7"/><rect x="931" y="982.3" width="24.6" height="10" fill="#F1B42C" stroke="#6e5a22" stroke-width="0.7"/><rect x="931" y="992.3" width="24.6" height="10" fill="#F1B42C" stroke="#6e5a22" stroke-width="0.7"/><rect x="931" y="1002.3" width="24.6" height="10" fill="#F1B42C" stroke="#6e5a22" stroke-width="0.7"/><rect x="931" y="1012.2" width="24.6" height="10" fill="#F1B42C" stroke="#6e5a22" stroke-width="0.7"/><rect x="898.1" y="1022.2" width="24.6" height="10" fill="#4BB2B9" stroke="#2e6468" stroke-width="0.7"/><rect x="898.1" y="1032.2" width="24.6" height="10" fill="#4BB2B9" stroke="#2e6468" stroke-width="0.7"/><rect x="898.1" y="1042.1" width="24.6" height="10" fill="#4BB2B9" stroke="#2e6468" stroke-width="0.7"/><rect x="898.1" y="1052.1" width="24.6" height="10" fill="#4BB2B9" stroke="#2e6468" stroke-width="0.7"/><rect x="898.1" y="1062.1" width="24.6" height="10" fill="#4BB2B9" stroke="#2e6468" stroke-width="0.7"/><rect x="898.1" y="1072" width="24.6" height="10" fill="#4BB2B9" stroke="#2e6468" stroke-width="0.7"/><rect x="898.1" y="1082" width="24.6" height="10" fill="#4BB2B9" stroke="#2e6468" stroke-width="0.7"/><rect x="832.6" y="1092" width="24.6" height="10" fill="#4BB2B9" stroke="#2e6468" stroke-width="0.7"/><rect x="898.1" y="1102" width="24.6" height="10" fill="#4BB2B9" stroke="#2e6468" stroke-width="0.7"/><rect x="898.1" y="1111.9" width="24.6" height="10" fill="#4BB2B9" stroke="#2e6468" stroke-width="0.7"/><rect x="832.6" y="1121.9" width="24.6" height="10" fill="#F1B42C" stroke="#6e5a22" stroke-width="0.7"/><rect x="964" y="1131.9" width="24.6" height="10" fill="#F1B42C" stroke="#6e5a22" stroke-width="0.7"/><rect x="832.6" y="1141.8" width="24.6" height="10" fill="#F1B42C" stroke="#6e5a22" stroke-width="0.7"/><rect x="865.4" y="1151.8" width="24.6" height="10" fill="#F1B42C" stroke="#6e5a22" stroke-width="0.7"/><rect x="964" y="1161.8" width="24.6" height="10" fill="#F1B42C" stroke="#6e5a22" stroke-width="0.7"/><rect x="964" y="1171.8" width="24.6" height="10" fill="#F1B42C" stroke="#6e5a22" stroke-width="0.7"/><rect x="964" y="1181.7" width="24.6" height="10" fill="#F1B42C" stroke="#6e5a22" stroke-width="0.7"/><rect x="832.6" y="1191.7" width="24.6" height="10" fill="#F1B42C" stroke="#6e5a22" stroke-width="0.7"/><rect x="832.6" y="1201.7" width="24.6" height="10" fill="#F1B42C" stroke="#6e5a22" stroke-width="0.7"/><rect x="865.4" y="1211.6" width="24.6" height="10" fill="#F1B42C" stroke="#6e5a22" stroke-width="0.7"/><rect x="898.1" y="1221.6" width="24.6" height="10" fill="#4BB2B9" stroke="#2e6468" stroke-width="0.7"/><rect x="898.1" y="1231.6" width="24.6" height="10" fill="#4BB2B9" stroke="#2e6468" stroke-width="0.7"/><rect x="898.1" y="1241.5" width="24.6" height="10" fill="#4BB2B9" stroke="#2e6468" stroke-width="0.7"/><rect x="898.1" y="1251.5" width="24.6" height="10" fill="#4BB2B9" stroke="#2e6468" stroke-width="0.7"/><rect x="898.1" y="1261.5" width="24.6" height="10" fill="#4BB2B9" stroke="#2e6468" stroke-width="0.7"/><rect x="898.1" y="1271.5" width="24.6" height="10" fill="#4BB2B9" stroke="#2e6468" stroke-width="0.7"/><rect x="898.1" y="1281.4" width="24.6" height="10" fill="#4BB2B9" stroke="#2e6468" stroke-width="0.7"/><rect x="865.4" y="1291.4" width="24.6" height="10" fill="#F1B42C" stroke="#6e5a22" stroke-width="0.7"/><rect x="931" y="1301.4" width="24.6" height="10" fill="#F1B42C" stroke="#6e5a22" stroke-width="0.7"/><rect x="931" y="1311.3" width="24.6" height="10" fill="#F1B42C" stroke="#6e5a22" stroke-width="0.7"/><rect x="865.4" y="1321.3" width="24.6" height="10" fill="#F1B42C" stroke="#6e5a22" stroke-width="0.7"/><rect x="865.4" y="1331.3" width="24.6" height="10" fill="#F1B42C" stroke="#6e5a22" stroke-width="0.7"/><rect x="931" y="1341.2" width="24.6" height="10" fill="#F1B42C" stroke="#6e5a22" stroke-width="0.7"/><rect x="931" y="1351.2" width="24.6" height="10" fill="#F1B42C" stroke="#6e5a22" stroke-width="0.7"/><rect x="832.6" y="1361.2" width="24.6" height="10" fill="#F1B42C" stroke="#6e5a22" stroke-width="0.7"/><rect x="865.4" y="1371.2" width="24.6" height="10" fill="#F1B42C" stroke="#6e5a22" stroke-width="0.7"/><rect x="865.4" y="1381.1" width="24.6" height="10" fill="#F1B42C" stroke="#6e5a22" stroke-width="0.7"/><rect x="865.4" y="1391.1" width="24.6" height="10" fill="#F1B42C" stroke="#6e5a22" stroke-width="0.7"/><rect x="898.1" y="1401.1" width="24.6" height="10" fill="#4BB2B9" stroke="#2e6468" stroke-width="0.7"/><rect x="898.1" y="1411" width="24.6" height="10" fill="#4BB2B9" stroke="#2e6468" stroke-width="0.7"/><rect x="898.1" y="1421" width="24.6" height="10" fill="#4BB2B9" stroke="#2e6468" stroke-width="0.7"/><rect x="898.1" y="1431" width="24.6" height="10" fill="#4BB2B9" stroke="#2e6468" stroke-width="0.7"/><rect x="898.1" y="1440.9" width="24.6" height="10" fill="#4BB2B9" stroke="#2e6468" stroke-width="0.7"/><rect x="898.1" y="1450.9" width="24.6" height="10" fill="#4BB2B9" stroke="#2e6468" stroke-width="0.7"/><rect x="898.1" y="1460.9" width="24.6" height="10" fill="#4BB2B9" stroke="#2e6468" stroke-width="0.7"/><rect x="898.1" y="1470.8" width="24.6" height="10" fill="#4BB2B9" stroke="#2e6468" stroke-width="0.7"/><rect x="898.1" y="1480.8" width="24.6" height="10" fill="#4BB2B9" stroke="#2e6468" stroke-width="0.7"/><rect x="898.1" y="1490.8" width="24.6" height="10" fill="#4BB2B9" stroke="#2e6468" stroke-width="0.7"/><rect x="865.4" y="1500.8" width="24.6" height="10" fill="#F1B42C" stroke="#6e5a22" stroke-width="0.7"/><rect x="865.4" y="1510.7" width="24.6" height="10" fill="#F1B42C" stroke="#6e5a22" stroke-width="0.7"/><rect x="865.4" y="1520.7" width="24.6" height="10" fill="#F1B42C" stroke="#6e5a22" stroke-width="0.7"/><rect x="964" y="1530.7" width="24.6" height="10" fill="#F1B42C" stroke="#6e5a22" stroke-width="0.7"/><rect x="964" y="1540.6" width="24.6" height="10" fill="#F1B42C" stroke="#6e5a22" stroke-width="0.7"/><rect x="931" y="1550.6" width="24.6" height="10" fill="#F1B42C" stroke="#6e5a22" stroke-width="0.7"/><rect x="931" y="1560.6" width="24.6" height="10" fill="#F1B42C" stroke="#6e5a22" stroke-width="0.7"/><rect x="865.4" y="1570.6" width="24.6" height="10" fill="#F1B42C" stroke="#6e5a22" stroke-width="0.7"/><rect x="865.4" y="1580.5" width="24.6" height="10" fill="#F1B42C" stroke="#6e5a22" stroke-width="0.7"/><rect x="865.4" y="1590.5" width="24.6" height="10" fill="#F1B42C" stroke="#6e5a22" stroke-width="0.7"/><rect x="865.4" y="1600.5" width="24.6" height="10" fill="#F1B42C" stroke="#6e5a22" stroke-width="0.7"/><rect x="964" y="1610.4" width="24.6" height="10" fill="#F1B42C" stroke="#6e5a22" stroke-width="0.7"/><rect x="964" y="1620.4" width="24.6" height="10" fill="#F1B42C" stroke="#6e5a22" stroke-width="0.7"/><rect x="931" y="1630.4" width="24.6" height="10" fill="#F1B42C" stroke="#6e5a22" stroke-width="0.7"/><rect x="865.4" y="1640.3" width="24.6" height="10" fill="#F1B42C" stroke="#6e5a22" stroke-width="0.7"/><rect x="832.6" y="1650.3" width="24.6" height="10" fill="#F1B42C" stroke="#6e5a22" stroke-width="0.7"/><rect x="832.6" y="1660.3" width="24.6" height="10" fill="#F1B42C" stroke="#6e5a22" stroke-width="0.7"/><rect x="832.6" y="1670.2" width="24.6" height="10" fill="#F1B42C" stroke="#6e5a22" stroke-width="0.7"/><rect x="865.4" y="1680.2" width="24.6" height="10" fill="#F1B42C" stroke="#6e5a22" stroke-width="0.7"/><rect x="865.4" y="1690.2" width="24.6" height="10" fill="#F1B42C" stroke="#6e5a22" stroke-width="0.7"/><rect x="865.4" y="1700.2" width="24.6" height="10" fill="#F1B42C" stroke="#6e5a22" stroke-width="0.7"/><rect x="832.6" y="1710.1" width="24.6" height="10" fill="#F1B42C" stroke="#6e5a22" stroke-width="0.7"/><rect x="865.4" y="1720.1" width="24.6" height="10" fill="#F1B42C" stroke="#6e5a22" stroke-width="0.7"/><rect x="865.4" y="1730.1" width="24.6" height="10" fill="#F1B42C" stroke="#6e5a22" stroke-width="0.7"/><rect x="865.4" y="1740" width="24.6" height="10" fill="#F1B42C" stroke="#6e5a22" stroke-width="0.7"/><rect x="832.6" y="1750" width="24.6" height="10" fill="#F1B42C" stroke="#6e5a22" stroke-width="0.7"/><rect x="832.6" y="1760" width="24.6" height="10" fill="#F1B42C" stroke="#6e5a22" stroke-width="0.7"/><rect x="865.4" y="1770" width="24.6" height="10" fill="#F1B42C" stroke="#6e5a22" stroke-width="0.7"/><rect x="825.5" y="921.6" width="170.8" height="859" fill="none" stroke="#333" stroke-width="1.5"/><path d="M844.9 918V921.6M877.7 918V921.6M910.4 918V921.6M943.3 918V921.6M976.3 918V921.6M996.3 927.5H1000.1M996.3 937.5H1000.1M996.3 947.4H1000.1M996.3 957.4H1000.1M996.3 967.4H1000.1M996.3 977.3H1000.1M996.3 987.3H1000.1M996.3 997.3H1000.1M996.3 1007.2H1000.1M996.3 1017.2H1000.1M996.3 1027.2H1000.1M996.3 1037.2H1000.1M996.3 1047.1H1000.1M996.3 1057.1H1000.1M996.3 1067.1H1000.1M996.3 1077H1000.1M996.3 1087H1000.1M996.3 1097H1000.1M996.3 1106.9H1000.1M996.3 1116.9H1000.1M996.3 1126.9H1000.1M996.3 1136.9H1000.1M996.3 1146.8H1000.1M996.3 1156.8H1000.1M996.3 1166.8H1000.1M996.3 1176.7H1000.1M996.3 1186.7H1000.1M996.3 1196.7H1000.1M996.3 1206.6H1000.1M996.3 1216.6H1000.1M996.3 1226.6H1000.1M996.3 1236.6H1000.1M996.3 1246.5H1000.1M996.3 1256.5H1000.1M996.3 1266.5H1000.1M996.3 1276.4H1000.1M996.3 1286.4H1000.1M996.3 1296.4H1000.1M996.3 1306.3H1000.1M996.3 1316.3H1000.1M996.3 1326.3H1000.1M996.3 1336.3H1000.1M996.3 1346.2H1000.1M996.3 1356.2H1000.1M996.3 1366.2H1000.1M996.3 1376.1H1000.1M996.3 1386.1H1000.1M996.3 1396.1H1000.1M996.3 1406H1000.1M996.3 1416H1000.1M996.3 1426H1000.1M996.3 1436H1000.1M996.3 1445.9H1000.1M996.3 1455.9H1000.1M996.3 1465.9H1000.1M996.3 1475.8H1000.1M996.3 1485.8H1000.1M996.3 1495.8H1000.1M996.3 1505.7H1000.1M996.3 1515.7H1000.1M996.3 1525.7H1000.1M996.3 1535.7H1000.1M996.3 1545.6H1000.1M996.3 1555.6H1000.1M996.3 1565.6H1000.1M996.3 1575.5H1000.1M996.3 1585.5H1000.1M996.3 1595.5H1000.1M996.3 1605.4H1000.1M996.3 1615.4H1000.1M996.3 1625.4H1000.1M996.3 1635.4H1000.1M996.3 1645.3H1000.1M996.3 1655.3H1000.1M996.3 1665.3H1000.1M996.3 1675.2H1000.1M996.3 1685.2H1000.1M996.3 1695.2H1000.1M996.3 1705.1H1000.1M996.3 1715.1H1000.1M996.3 1725.1H1000.1M996.3 1735.1H1000.1M996.3 1745H1000.1M996.3 1755H1000.1M996.3 1765H1000.1M996.3 1774.9H1000.1" stroke="#333" stroke-width="1.3" fill="none"/><rect x="1007" y="927.5" width="4.6" height="89.7" fill="#F1B42C"/><text x="1020" y="971.6" font-family="Liberation Sans" font-style="italic" font-size="17.8" fill="#111">A. adenesis</text><rect x="1007" y="1027.2" width="4.6" height="89.7" fill="#4BB2B9"/><text x="1020" y="1074" font-family="Liberation Sans" font-style="italic" font-size="17.8" fill="#111">C. anomolus-AG</text><rect x="1007" y="1126.9" width="4.6" height="89.7" fill="#F1B42C"/><text x="1020" y="1176" font-family="Liberation Sans" font-style="italic" font-size="17.8" fill="#111">C. anomolus-GoO</text><rect x="1007" y="1226.6" width="4.6" height="59.8" fill="#4BB2B9"/><text x="1020" y="1267.2" font-family="Liberation Sans" font-style="italic" font-size="17.8" fill="#111">E. pulcher-AG</text><rect x="1007" y="1296.4" width="4.6" height="99.7" fill="#F1B42C"/><text x="1020" y="1345.3" font-family="Liberation Sans" font-style="italic" font-size="17.8" fill="#111">E. pulcher-GoO</text><rect x="1007" y="1406" width="4.6" height="89.7" fill="#4BB2B9"/><text x="1020" y="1450.5" font-family="Liberation Sans" font-style="italic" font-size="17.8" fill="#111">E. ventermaculus-AG</text><rect x="1007" y="1505.7" width="4.6" height="99.7" fill="#F1B42C"/><text x="1020" y="1559.3" font-family="Liberation Sans" font-style="italic" font-size="17.8" fill="#111">E. ventermaculus-GoO</text><rect x="1007" y="1615.4" width="4.6" height="89.7" fill="#F1B42C"/><text x="1020" y="1661" font-family="Liberation Sans" font-style="italic" font-size="17.8" fill="#111">E. guttata</text><rect x="1007" y="1715.1" width="4.6" height="59.8" fill="#F1B42C"/><text x="1020" y="1748" font-family="Liberation Sans" font-style="italic" font-size="17.8" fill="#111">H. vulgaris</text>
<text x="844.9" y="27.7" font-family="Liberation Sans" font-size="18" text-anchor="middle" fill="#111">I</text>
<text x="877.7" y="27.7" font-family="Liberation Sans" font-size="18" text-anchor="middle" fill="#111">II</text>
<text x="910.4" y="27.7" font-family="Liberation Sans" font-size="18" text-anchor="middle" fill="#111">III</text>
<text x="943.3" y="27.7" font-family="Liberation Sans" font-size="18" text-anchor="middle" fill="#111">IV</text>
<text x="976.3" y="27.7" font-family="Liberation Sans" font-size="18" text-anchor="middle" fill="#111">V</text>
<rect x="217" y="899.2" width="26" height="22" fill="#4BB2B9"/>
<text x="251.5" y="916.3" font-family="Liberation Sans" font-size="17.7" fill="#111">Arabian Gulf</text>
<rect x="396.1" y="899.2" width="26" height="22" fill="#F1B42C"/>
<text x="429.3" y="916.3" font-family="Liberation Sans" font-size="17.7" fill="#111">Gulf of Oman</text>
<rect x="574.5" y="899.2" width="26" height="22" fill="#AEAEAE"/>
<text x="606.6" y="916.3" font-family="Liberation Sans" font-size="17.7" fill="#111">Both</text>
<text x="-0.8" y="21.3" font-family="Liberation Sans" font-weight="bold" font-size="29" fill="#000">a</text>
<text x="797.5" y="21.7" font-family="Liberation Sans" font-weight="bold" font-size="29" fill="#000">b</text>
<text x="-0.3" y="950.5" font-family="Liberation Sans" font-weight="bold" font-size="29" fill="#000">c</text>
<text x="797" y="950.5" font-family="Liberation Sans" font-weight="bold" font-size="29" fill="#000">d</text>
</svg>
</body></html>
